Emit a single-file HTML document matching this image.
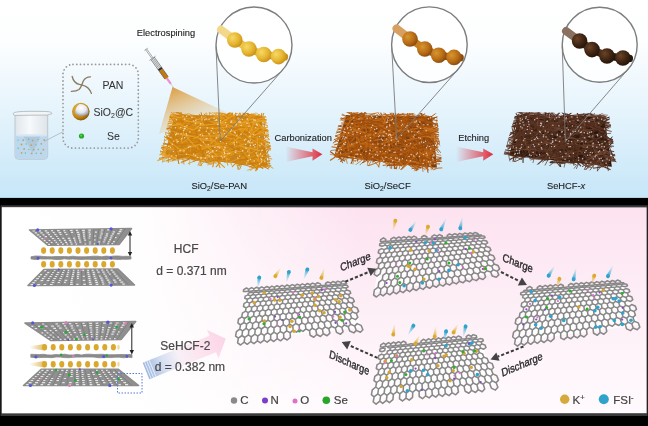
<!DOCTYPE html><html><head><meta charset="utf-8"><style>html,body{margin:0;padding:0;background:#000;width:648px;height:426px;overflow:hidden}svg{display:block;will-change:transform;font-family:"Liberation Sans",sans-serif}</style></head><body>
<svg width="648" height="426" viewBox="0 0 648 426">
<defs>
<linearGradient id="topbg" x1="0" y1="0" x2="0" y2="1"><stop offset="0" stop-color="#ffffff"/><stop offset="0.2" stop-color="#fdfeff"/><stop offset="0.55" stop-color="#e6f4fc"/><stop offset="1" stop-color="#c6e6f8"/></linearGradient>
<linearGradient id="botbg" gradientUnits="userSpaceOnUse" x1="0" y1="206" x2="0" y2="413"><stop offset="0" stop-color="#fde2f0"/><stop offset="0.45" stop-color="#fdeef6"/><stop offset="1" stop-color="#fffafd"/></linearGradient>
<linearGradient id="botwh" gradientUnits="userSpaceOnUse" x1="0" y1="0" x2="360" y2="0"><stop offset="0" stop-color="#ffffff"/><stop offset="0.4" stop-color="#ffffff" stop-opacity="0.95"/><stop offset="1" stop-color="#ffffff" stop-opacity="0"/></linearGradient>
<linearGradient id="cone" gradientUnits="userSpaceOnUse" x1="173" y1="87" x2="190" y2="130"><stop offset="0" stop-color="#d99a3a" stop-opacity="0.95"/><stop offset="1" stop-color="#e8c48a" stop-opacity="0.15"/></linearGradient>
<linearGradient id="redarr" x1="0" y1="0" x2="1" y2="0"><stop offset="0" stop-color="#e23a48" stop-opacity="0"/><stop offset="0.75" stop-color="#e23a48" stop-opacity="0.8"/><stop offset="1" stop-color="#dd2a3a"/></linearGradient>
<linearGradient id="bigarr" gradientUnits="userSpaceOnUse" x1="145" y1="372" x2="226" y2="339"><stop offset="0" stop-color="#9db8e0"/><stop offset="0.35" stop-color="#e6eaf6"/><stop offset="0.6" stop-color="#fbe3ef"/><stop offset="1" stop-color="#fbd3e6"/></linearGradient>
<linearGradient id="trail" x1="0" y1="0" x2="1" y2="0"><stop offset="0" stop-color="#d9a935" stop-opacity="0"/><stop offset="1" stop-color="#d9a935" stop-opacity="0.8"/></linearGradient>
<radialGradient id="bead1" cx="0.35" cy="0.35" r="0.7"><stop offset="0" stop-color="#f5d96a"/><stop offset="0.6" stop-color="#e6b52e"/><stop offset="1" stop-color="#c8901c"/></radialGradient>
<radialGradient id="bead2" cx="0.35" cy="0.35" r="0.7"><stop offset="0" stop-color="#d8962e"/><stop offset="0.6" stop-color="#b86d16"/><stop offset="1" stop-color="#8a4a0e"/></radialGradient>
<radialGradient id="bead3" cx="0.35" cy="0.35" r="0.7"><stop offset="0" stop-color="#6a4428"/><stop offset="0.6" stop-color="#3e2412"/><stop offset="1" stop-color="#24140a"/></radialGradient>
<radialGradient id="sio2" cx="0.45" cy="0.35" r="0.7"><stop offset="0" stop-color="#ffffff"/><stop offset="0.55" stop-color="#e6e8f0"/><stop offset="1" stop-color="#9098b0"/></radialGradient>
<radialGradient id="shell" cx="0.4" cy="0.35" r="0.7"><stop offset="0" stop-color="#f2c450"/><stop offset="0.65" stop-color="#c88a18"/><stop offset="1" stop-color="#7a5010"/></radialGradient>
<linearGradient id="ionb" x1="0" y1="0" x2="0" y2="1"><stop offset="0" stop-color="#30a8d0" stop-opacity="0"/><stop offset="1" stop-color="#30a8d0"/></linearGradient>
<linearGradient id="iony" x1="0" y1="0" x2="0" y2="1"><stop offset="0" stop-color="#e0a830" stop-opacity="0"/><stop offset="1" stop-color="#e0a830"/></linearGradient>
<linearGradient id="bigarr2" x1="0" y1="0" x2="1" y2="0"><stop offset="0" stop-color="#9fb8e0"/><stop offset="0.22" stop-color="#d6e0f2"/><stop offset="0.42" stop-color="#f8f0f6"/><stop offset="0.7" stop-color="#fde2ee"/><stop offset="1" stop-color="#fbd4e6"/></linearGradient>
<linearGradient id="glass" x1="0" y1="0" x2="1" y2="0"><stop offset="0" stop-color="#dfe6eb"/><stop offset="0.45" stop-color="#f7f9fb"/><stop offset="1" stop-color="#dde4e9"/></linearGradient>
<linearGradient id="iont_b" x1="0" y1="0" x2="1" y2="0"><stop offset="0" stop-color="#2fa3cc"/><stop offset="1" stop-color="#8fd6f0" stop-opacity="0.1"/></linearGradient>
<linearGradient id="iont_y" x1="0" y1="0" x2="1" y2="0"><stop offset="0" stop-color="#dcaa30"/><stop offset="1" stop-color="#f0d080" stop-opacity="0.1"/></linearGradient>
</defs>
<rect x="0" y="0" width="648" height="197.9" fill="url(#topbg)"/>
<rect x="0.6" y="205.3" width="647" height="210.7" fill="#3a3a3a"/>
<rect x="1.9" y="207.4" width="644.7" height="205.8" fill="url(#botbg)"/>
<rect x="1.9" y="207.4" width="644.7" height="205.8" fill="url(#botwh)"/>
<g>
<path d="M15 114 L15 156 Q15 159.3 18.5 159.3 L44.2 159.3 Q47.7 159.3 47.7 156 L47.7 114 Z" fill="url(#glass)" stroke="#b4bec4" stroke-width="0.8"/>
<path d="M15.4 135.3 L47.3 135.3 L47.3 156 Q47.3 158.9 44.2 158.9 L18.5 158.9 Q15.4 158.9 15.4 156 Z" fill="#bcd8ee"/>
<ellipse cx="31.35" cy="135.6" rx="15.9" ry="1.4" fill="#d4e6f3"/>
<path d="M23.5 136.5 L40.5 136.5 L32.5 153 Z" fill="#a4bccf" opacity="0.55"/>
<path d="M13.2 113.4 Q13.5 111.3 31 111.3 Q49 111.3 50.5 112 L52 113.6 Q49 114.6 47.7 115 L15 115.4 Q13 115 13.2 113.4 Z" fill="#f2f4f5" stroke="#aab2b8" stroke-width="0.8"/>
</g>
<circle cx="18.1" cy="140.1" r="0.7" fill="#62c08c"/>
<circle cx="23.3" cy="140.2" r="0.9" fill="#c4a068"/>
<circle cx="28.7" cy="139.3" r="0.7" fill="#62c08c"/>
<circle cx="32.7" cy="140.5" r="0.9" fill="#c4a068"/>
<circle cx="38.1" cy="139.6" r="0.7" fill="#62c08c"/>
<circle cx="44.3" cy="140" r="0.9" fill="#c4a068"/>
<circle cx="21.5" cy="144.5" r="0.9" fill="#c4a068"/>
<circle cx="26.2" cy="143.9" r="0.7" fill="#62c08c"/>
<circle cx="31.2" cy="145.1" r="0.9" fill="#c4a068"/>
<circle cx="36" cy="144.9" r="0.7" fill="#62c08c"/>
<circle cx="41.3" cy="143.8" r="0.9" fill="#c4a068"/>
<circle cx="18.2" cy="148.2" r="0.7" fill="#62c08c"/>
<circle cx="24.1" cy="149" r="0.9" fill="#c4a068"/>
<circle cx="28.9" cy="149.6" r="0.7" fill="#62c08c"/>
<circle cx="33.8" cy="149.7" r="0.9" fill="#c4a068"/>
<circle cx="38.3" cy="149.5" r="0.7" fill="#62c08c"/>
<circle cx="43.4" cy="149.7" r="0.9" fill="#c4a068"/>
<circle cx="21.6" cy="152.9" r="0.9" fill="#c4a068"/>
<circle cx="25.4" cy="153" r="0.7" fill="#62c08c"/>
<circle cx="31.7" cy="153.4" r="0.9" fill="#c4a068"/>
<circle cx="36.2" cy="153.2" r="0.7" fill="#62c08c"/>
<circle cx="41" cy="153.3" r="0.9" fill="#c4a068"/>
<line x1="44.5" y1="141.3" x2="63.5" y2="131.5" stroke="#a9b4bb" stroke-width="0.8"/>
<rect x="63" y="64.4" width="75.3" height="83.7" rx="10" fill="none" stroke="#9a9a9a" stroke-width="1.8" stroke-dasharray="0.01 3.75" stroke-linecap="round"/>
<path d="M72.2 76.5 C73 80 75.5 83.6 79.3 84.4 C82 85 85.5 85.4 88 88 C90 90 91 92 91.4 93.4" fill="none" stroke="#8c7c60" stroke-width="1.35" stroke-linecap="round"/>
<path d="M90.5 76.8 C87 76.8 84.5 78.5 83.3 81 C82 84 81.2 87.5 79 89.5 C76.8 91.2 74 91.4 71.4 91.4" fill="none" stroke="#8c7c60" stroke-width="1.35" stroke-linecap="round"/>
<circle cx="80.8" cy="111.6" r="8.8" fill="url(#shell)"/>
<path d="M79.5 104.1 A7.6 7.6 0 0 1 87.9 114.2 Q81.5 117.3 75.3 113.8 Q74.6 107.5 79.5 104.1 Z" fill="url(#sio2)"/>
<circle cx="81.5" cy="136" r="2.6" fill="#22aa22"/><circle cx="81.1" cy="135.6" r="1.1" fill="#5ad05a"/>
<g font-size="10.5" fill="#333" stroke="#333" stroke-width="0.05"><text x="102.5" y="88.5">PAN</text><text x="93.5" y="115.5">SiO<tspan font-size="7" dy="2.5">2</tspan><tspan dy="-2.5">@C</tspan></text><text x="107" y="140">Se</text></g>
<text x="136.8" y="36.2" font-size="9.3" fill="#1e1e1e" stroke="#1e1e1e" stroke-width="0.12">Electrospining</text>
<polygon points="172.5,87 159,134 228,113" fill="url(#cone)"/>
<g transform="translate(174.6,89.2) rotate(-35.5)">
<line x1="0" y1="0" x2="0" y2="-7" stroke="#c8a0c0" stroke-width="0.5"/>
<rect x="-1.1" y="-13.5" width="2.2" height="7" fill="#e890d0"/>
<rect x="-2.1" y="-24" width="4.2" height="10.5" fill="#c07a10"/>
<rect x="-2.1" y="-26" width="4.2" height="2.2" fill="#2a2a2a"/>
<rect x="-2.1" y="-38" width="4.2" height="12" fill="#e8eaec"/>
<line x1="-2.1" y1="-38" x2="-2.1" y2="-14" stroke="#555" stroke-width="0.6"/>
<line x1="2.1" y1="-38" x2="2.1" y2="-14" stroke="#555" stroke-width="0.6"/>
<line x1="-0.7" y1="-49" x2="-0.7" y2="-26" stroke="#666" stroke-width="0.5"/>
<line x1="0.7" y1="-49" x2="0.7" y2="-26" stroke="#666" stroke-width="0.5"/>
<line x1="-2" y1="-49" x2="2" y2="-49" stroke="#777" stroke-width="0.6"/>
<line x1="-3.8" y1="-38" x2="3.8" y2="-38" stroke="#777" stroke-width="0.6"/>
</g>
<g><clipPath id="mc0"><polygon points="171,112 266,113 274,173 157,162"/></clipPath><g clip-path="url(#mc0)"><polygon points="174.8,115 261.2,115.9 267.9,166.2 164.2,156.8" fill="#c08428"/><path d="M211.6 132.3Q211.2 141.2 212.6 149.9M212.4 160.5Q224.8 156.1 235.9 153.8M231.9 133.1Q232.9 139.5 233.8 144.3M205.2 156.9Q217.1 157.5 230.2 160.3M244.3 144.3Q252.4 143 262.1 140.2M216.6 121.5Q225.5 120.2 232.8 118M208.3 145.7Q212.5 145.6 219 144.7M267.3 151.2Q269.5 159.4 269.3 167.4M179.3 133.8Q183.6 132.6 190.7 134.1M221.9 116.6Q223.1 123.4 226.2 127.9M202.7 129.8Q206.6 127.1 211.7 126.6M244.9 137.7Q250.4 135.9 258.8 134.6M219.8 115.3Q231.4 116.8 243.2 118.9M244.5 131.3Q250.4 133.9 256.4 137.1M228.9 132.9Q232.1 128.9 238.2 126M215.9 138.8Q224.5 141 232.4 140.5M245 108.1Q249.7 120.1 255 131.5M209.9 129.8Q214.6 125.5 222.2 120.6M256.4 130.6Q261.2 133.9 267.1 137.2M180.5 136.3Q186.5 132.8 191.4 129.3M214.7 146.5Q225.7 146.4 236.9 145.2M252 121.1Q257.7 118.3 265.5 116.4M184 142.6Q194.9 139.1 206 134M213.5 132Q223.2 133.3 234.5 136.1M222.4 158.6Q227 155.8 231.3 155.7M197.3 152.4Q203 149.2 210.5 146.9M202.2 121.7Q210.5 122.8 218.7 126.5M165.9 146.5Q174.5 144.1 181.4 142M189.1 156.3Q199.2 161.1 211.5 164.2M239.9 162.7Q251.5 164.7 262.3 167.4M170.3 141.1Q182.1 137.1 191.7 132.7M185.8 116.4Q183.7 125.9 184.4 136.3M174.9 153.5Q182.3 153.3 186.6 155.5M243 114.4Q253.8 119.2 262.2 121.5M209.8 158.5Q216.8 152.1 224.5 146.3M210.3 141.6Q209.5 148.9 208.7 153.6M209.9 140.2Q216.7 138 221.4 137M162 148.4Q165.9 153.4 169.8 156.8M237 159.4Q236.3 165.8 238.3 169.7M218.2 125.2Q218.8 136.9 221 146.9M166.5 115Q176.4 115.1 186.4 114.7M182.4 128.3Q186.7 127.4 191.6 129.2M169.2 155.6Q173.8 155.9 179.3 153.5M209.1 128.4Q217.8 127.1 226.7 124.2M167.2 108.7Q175.8 116.5 186.3 125.8" stroke="#c87a0c" stroke-width="0.7" stroke-linecap="round" fill="none"/><path d="M224.8 154.7Q231.4 155.3 235.2 153.1M218.6 120.3Q222.1 118.5 228.6 118.6M219.2 145.2Q226.6 142.3 235 140.6M241.2 153.7Q245.7 157.6 252.7 164.1M216.2 127.9Q221.3 127.6 227.2 127.1M166.1 114.7Q176.7 121.9 184.4 126.5M229.9 119.4Q240 123.3 252.7 128.6M204.1 143.9Q208.2 143.3 214.3 144.2M214.9 132.8Q222.2 129.4 228.5 128.3M237.6 127.3Q247.7 135.4 255.3 141.1M212.6 128.7Q218.2 121.8 222.9 113.1M219.7 120.4Q224.6 121.6 228.5 125M211.6 128.6Q216.4 125.9 221.5 121M225.6 148.1Q230.3 143.6 236.2 138.5M230.2 112.8Q227.4 121.6 225.9 129.5M205.1 116Q217.5 118.9 229.1 123.5M196.3 123.9Q207.3 127.1 217.3 130.6M166.9 160.8Q172.2 158.3 177.5 157M249.8 167Q255.8 164.4 260.5 162.5M239.6 110.3Q248.1 117 257.3 124.8M193.4 154.6Q200 147.5 206.8 141.4M192.5 118.5Q201.9 125.5 213.7 129.8M206.5 134.6Q214.8 144.1 225.1 151.2M191 138.9Q198.8 139.6 205.5 141.3M222.8 131Q222.9 138 222.9 146.4M209.2 122.6Q217.4 130.1 227.7 139.1M241.6 106.5Q237.8 117.2 235.5 128M182 149.5Q189.9 151 197.3 154.1M234.9 148.9Q238.3 142.8 243.1 138.4M218.6 121.2Q227.1 123 237.4 127.6M232.8 118.4Q237.3 118.1 242.8 114.8M240.3 130.1Q250.1 129.3 260.2 128.3M218.8 116.3Q220.3 127.8 218.8 142.2M181.4 151.5Q190.5 153.7 200.8 153.6M165.6 123.9Q177.6 122.4 188.6 120M181.5 103.5Q179.2 115.1 179.2 127.9M253.9 131Q258.6 131.9 264.4 133.4M256.8 139.1Q266.5 142.8 274 144.2M190.2 125Q194.5 134.7 200.2 147.3M156.9 147.7Q164.2 148.4 174.1 146.6M178.4 128.3Q184.8 133.4 189.3 139.1M206.4 126.9Q215 132.9 221.8 136.7M232.3 166.7Q241.7 157.6 249.3 149.8M160 151Q168.9 153.5 176.6 156.6M216.2 166.9Q221.2 160.3 225.2 156.4M185.6 145.2Q192.4 144.3 198.1 141.3M183.6 128.1Q193.5 126.2 201.3 121.6M262 148.9Q259.2 159.3 257 169.8M186.4 121.9Q191.5 130.1 197.4 139.7M242.9 148.1Q250.5 150.1 256.6 153.5M175.3 135.8Q184.2 133.2 195.7 128.1M239 138.9Q245.2 137.6 253.4 133.6M216.9 151.5Q213.4 160.9 212.3 169.6" stroke="#d88a10" stroke-width="1.1" stroke-linecap="round" fill="none"/><path d="M224 148.6Q231.4 144.4 240.7 141.8M188.3 163.5Q198 159.6 207.8 155.7M164.6 139Q162.6 153.5 162.5 164.9M254 111.3Q259.6 115.2 265.6 119.9M243.1 130.1Q247.3 131.8 253 134.1M201.7 153.2Q199.9 161.7 196.5 169.5M242.1 129Q239.4 138 235.9 147.2M173.6 113.1Q178.7 118.6 184.9 121.5M184.3 148.4Q191.1 153.5 197.4 160.5M177.2 122.9Q186.2 124 198.1 122.3M223.8 113.7Q235.8 117.8 247.1 120.6M192.2 134.6Q198 141.7 206 150.8M216.1 137Q226.5 137.5 236.9 136.5M226.7 137.4Q231.3 142.4 237.1 146.1M232.4 129.8Q229.1 133.6 227.5 138.3M189.3 114Q195.1 116.1 202.8 118.4M235.6 128.8Q239.2 124.6 244.9 121.3M228.1 109.4Q233.7 117.2 236.3 126.1M177.2 125.9Q187.9 123.1 198.4 123M244.1 164Q254 159 264.3 154.2M243.9 134.5Q254.6 132.4 263 131M217.8 142.1Q226 139.7 237.1 140.3M235.7 149.8Q239.9 144.4 244.3 137.1M265.9 139.3Q262.4 150.6 261.7 162.5M167.4 135.5Q169.8 142.1 175.1 146.7M198.7 141.6Q199.5 152.8 201.6 166.8M163.8 150.7Q169.6 145.4 173.8 142.2M204.1 127.1Q211.5 126.4 218.7 123.5M253.1 174.9Q259.4 166 266.7 156M232.9 142.5Q241.5 138.9 251.1 135.8M173.3 140.2Q184.7 142.8 198.7 145.2M180.6 148.3Q184.1 147.6 190 148.5M166.3 120.1Q174.8 115.2 185.9 107.6M216.9 132.5Q228.3 131.6 238.5 129.3M246.5 170.9Q255.6 168 263.8 162.1M236 149.4Q243.6 155.8 251.5 159.9M206.6 113.2Q207.8 125.8 211.9 137.1M173.2 116.6Q181.6 123.5 190.1 130.8M242.6 156.9Q252.1 156.7 259.1 157.5" stroke="#d88a10" stroke-width="0.7" stroke-linecap="round" fill="none"/><path d="M162.3 131.9Q169.4 133.1 179.4 136.7M251.8 158.4Q261.5 158 268.8 154.9M199.2 114.2Q204.9 119.2 211.8 124.8M175.4 138.8Q183.9 141.5 189.5 146.9M236 137.6Q244.1 135.7 253.4 136.4M175.9 136.2Q181.1 134.4 186.4 134.8M247.6 133.7Q251.7 130.2 253.3 126.2M247.9 116.4Q256.5 115.4 262.2 116.5M197.2 133.8Q205.6 128.8 212.8 121.3M230.1 113.5Q234.2 117.1 238.3 119M216 155Q221 152.5 226.4 152.2M168.8 141.8Q167.1 152.2 168.3 162.3M264.3 111.5Q262 116.5 261.5 124.4M205.8 125.9Q215 123.9 225.2 121.5M211.9 153.2Q218.6 150.7 224.5 148.9M169.3 140Q174.3 138.5 182.1 139M244 118.2Q255 120.9 268.2 125.8M192.9 116.2Q203.1 115.9 211.7 116.7M246.3 155.8Q240.6 165.7 237.8 173.7M224.5 120.1Q227.3 115.9 232.2 109.4M227 137.3Q233.7 134.2 237.8 130.1M200.7 148Q209.1 144.1 217.7 141.6M164.8 143.1Q171.9 147.2 181.9 151.8M188.9 143.9Q197.5 150.1 208.6 157M193.4 135.7Q195.3 140.9 198.9 143.8M260.8 141.4Q268.3 147.1 273.3 150.7M245 155.1Q257.1 156.9 270.3 156.4M239.3 122Q250.8 124.2 262 129.1M237.4 129.3Q246.7 133.6 254.8 139" stroke="#cf8210" stroke-width="0.9" stroke-linecap="round" fill="none"/><path d="M226.2 143.2Q232.3 133.2 238.4 126.1M191.6 159.7Q199.7 159 207.1 156.5M254 142.4Q259.3 143.6 263.5 141.8M196.7 149.3Q207.3 147.3 216.7 144.4M186.1 141.2Q196.8 138.1 210.5 136.6M228.5 144.9Q235 140.1 239.6 133.4M251.2 130.5Q256.2 131.6 259.7 133.5M220.1 112.1Q220.2 119 219 128.7M254.4 152.8Q260.9 152.9 265.9 151.6M241.7 144.7Q249.1 141.8 258.8 139.6M252.2 121.3Q257.8 124.7 261.6 130.3M182.6 145.3Q192.6 146.4 202.1 144.8M245.3 147.7Q242.4 159.1 237.5 170.5M198.3 147Q206.5 149.3 212.7 149.5M228.1 129.1Q232.8 128.8 236.9 126.2M177.3 153.8Q186.6 149.3 195 146.9M247.9 134.8Q244.8 144.8 239 153.5M253.9 132.6Q264.4 134.5 275.6 137.7M204.4 146.4Q212.1 146.7 222.6 147.6M187.2 119.5Q195.6 122.5 201.2 126.6M185 135Q189.7 140.6 193.9 148.7M191 151.7Q200.8 149.4 211.5 148.4M249.7 155.9Q259 159.2 268 162M200 141.7Q204.2 148.5 206.9 153.7M225.7 162.2Q237.6 160 249.1 160.2M170.7 139.9Q182.8 139.2 194.6 140.8M246 125Q251.6 124.3 255 126.3M257.4 120Q258.6 125.9 262.2 134.3M229.1 136.1Q240.7 136.4 252 137.5M260.1 129Q257.6 139.8 258 149.7M187.9 147Q198 149.9 205.3 152.7M219.4 131.7Q230.6 134.4 240.1 134.8M192.8 152.6Q205.1 152.1 216 152.3M184.9 134.3Q190.2 132.9 195.2 133.9M258.1 158.6Q266.9 165 277.1 170.6M215.5 136.9Q225.7 134.9 235.4 131M162.4 149.5Q174.4 145.6 186.2 139.8M244.9 146.7Q248.3 153.7 253.8 163.1M176.1 147.7Q185.3 153.9 193 160.1M180.6 150.1Q183.5 160.3 184.8 168.4M223.6 148Q228.5 151.7 233.5 158.1M207.7 160.4Q217.6 157 228.1 152.4M225.1 158.8Q235.4 154.9 247.2 149.8M238.4 148.8Q244.5 155.5 248.3 161.6M216.8 120.3Q212.9 133.7 209.5 144.7" stroke="#cf8210" stroke-width="0.7" stroke-linecap="round" fill="none"/><path d="M256.8 134.1Q256.8 137.9 258.1 144.3M254.9 123.9Q262.6 126 267.4 130.4M203 150.1Q213.1 145.2 226.1 141.6M164.9 146.8Q172.3 148.4 182 148.2M164.1 122.3Q174.6 120.5 185.1 118.7M200.2 122.6Q207.7 122.4 217.6 122.8M197.6 148.1Q208.7 150.2 221.5 154.4M230.5 133.9Q242.6 131.3 252.4 125.9M215.4 156.1Q218.3 161.9 220.1 168M168.3 145.6Q172.1 144.5 177.4 144M238.2 158.5Q247.6 158.2 257.6 156.8M258 127.5Q264.2 135.5 272.2 141.9M212.3 115.6Q223.1 118.6 230.9 123.4M200.6 119.7Q206.3 121.6 210.8 121.7M212.3 132.1Q216.1 133.9 220.8 138.7M234.1 127.6Q242.1 122.6 251.5 116.2M187.6 157.7Q195.4 154.7 200.9 150.7M238.3 146.2Q249.8 143.2 259.7 138.9M244.2 120.3Q253.2 119 259.3 114.9M236.2 133Q247.6 131.3 256.7 128.6M198.1 137.7Q202.4 147.3 207.6 159.5M208.4 151.4Q215.7 160.1 224.5 167.4M258.8 161.5Q258.5 166.5 255.3 171.2M183.5 118.2Q190.2 118.6 195.2 119.5M252 152.3Q253.8 155.5 258.4 160.8M210 137.7Q213.1 139.6 217 143.5M227.5 122.2Q238.9 127.7 250.4 131.2M169.2 149.6Q174.2 148.6 180.2 145.6M230.8 124.3Q241.9 127.5 252.5 132.2M207.5 126Q205.2 135.2 205.2 147.3M226.3 145.4Q236.2 142.3 245.5 139M212.3 122.2Q224 126.7 236 132M217.6 125.1Q225.7 125.1 232 125.1M251.9 167.5Q261.4 167.7 270.9 165.6M216.4 112.1Q226 114.1 235 116.9M160.7 154.3Q165.2 150.1 169.8 148.2M192.2 129.2Q203.4 130.6 212 135M211.5 117.7Q220.4 116.7 231 113.4M243.1 116Q248 115.6 255.6 114M210.5 133.2Q218.1 128.3 224.3 124.4M229 162.5Q237.2 159.5 246.8 155.3M209 127.4Q221.7 122.7 233 120.2" stroke="#e0961a" stroke-width="1.1" stroke-linecap="round" fill="none"/><path d="M230.2 130.5Q234.3 125.2 239.1 117M171.9 114.2Q180.1 117.6 185.6 121.1M221.7 136.7Q228.6 140.5 237.9 147.1M160.5 152.7Q168.6 155.3 174.4 158.4M239.4 130.2Q249 127.1 257.8 123.2M165.8 125Q176.9 120.1 187.4 116.4M192 128.4Q200.4 120.5 208.3 110.1M182 163.2Q188.7 158.9 195.1 156.3M253.7 151.4Q256.8 146.5 262 142.2M243.4 126.2Q254.6 131.7 267.5 134.9M254.5 114.7Q261.2 116.5 269.7 117.8M177.5 129.8Q187.8 124.2 199.7 118.7M209.4 149.9Q220 153 231.4 157.3M161.3 114.5Q171.9 117 184.7 118.6M237.8 129.2Q243.9 126.9 249.7 124.8M169.9 161.5Q178.1 160.6 186.6 156.9M221.7 149.9Q225.8 149.7 230.6 152.2M216 148.3Q224.7 146.9 232.5 142.6M189.3 133.1Q194.8 135.8 201.9 136.1M202.7 136.6Q208.3 143.3 213.8 152M232.9 120.8Q246.3 117.6 256.9 112M193.2 151.7Q201.7 158.1 210.8 164.3M196.4 151.3Q204.6 146.9 212.7 145.3M170.5 157.6Q175.7 152.2 180.2 149.5M186.8 135.8Q196.4 136.2 209 137.1M191 146.7Q189.9 156.2 189.4 165.6M171 137.8Q177.6 131.4 183.2 123.7M213 137.4Q218.7 136.6 223.5 136.7M182.8 141.9Q190.3 141.6 196.6 143M253.8 107.1Q251.4 114.3 246.9 122.2M232.5 123.1Q241.1 124.5 249.1 125M229.2 140.6Q236.3 133.6 243.1 125.6M258 134.1Q262 135.3 267.3 136.1M208.8 164Q213.2 160.5 215.6 154.3M171 127.4Q169.3 135.3 169.2 142.4M234.3 138.3Q243.4 131 253.8 126.5M203.2 134.6Q212.6 139.5 222.5 147.3M257 159.7Q265.1 153.7 272.1 148.1M174.9 131.6Q175.8 144.1 178.4 154.4M202.3 144.5Q207.7 151.8 212 161.8M202.7 158.6Q212.8 152.2 219.9 148.2" stroke="#e6a028" stroke-width="0.7" stroke-linecap="round" fill="none"/><path d="M203.6 117.9Q212.5 118.1 222.2 115.9M229.4 127.3Q240.3 124.1 253.5 121.8M183.5 156.4Q187.7 151.1 192.5 143.5M162.9 162Q168.9 154.6 172.3 147.5M237 162.9Q250.3 160 261.4 159.2M215 133.9Q221.9 131.7 227.1 130.7M158.1 154.7Q170.9 155.8 183.6 154.2M226.7 142.2Q234.8 132.6 243 123M255.9 141.4Q265.5 140.1 273.2 139.2M220.1 147.3Q226.8 149.5 234.4 150.3M215.8 109Q217.1 119.8 215.3 129.2M251.1 157.1Q259.6 159 266 163.2M212.7 129.8Q219.9 127.5 227.1 124.3M213.6 127.8Q217.6 137.1 219 148.1M215.4 127.3Q223.4 135.4 232.1 142.5M247.9 125.3Q253.9 128.2 259.9 131.8M201.2 107.5Q212.9 113.9 222.2 121.3M164.4 161.3Q176.7 158.8 187.1 156.4M228 142.9Q236.7 134.5 245.9 125.9M172.7 124.1Q180.7 127.2 187.6 130.2M228.5 135.4Q233.5 137.1 240 139M192.2 120Q197.1 126.3 199.5 135.5M249.2 129.1Q257.9 127.1 265.7 123.5M201.9 133Q199.6 145 194.8 156M207.6 164.9Q217.2 160.7 229.5 159.3M153.7 146.3Q163.9 153.7 174.7 159.9M247.2 156Q252 156.7 257.8 156.4M191.9 158.9Q203.4 161.1 216.5 163.4M214.5 143.6Q224.2 146.9 231.9 148.5M173.2 128.7Q179.1 127.8 187.1 125.9M182.6 153.9Q195.2 151.8 206.5 147.6M254.7 137.8Q260.3 139.5 266.1 141.2M245.4 125.3Q257.4 131 268.6 134M248 150.8Q253.3 146.9 255.6 140.3M223.5 108.2Q220.1 118.2 215 130.9M175.8 131.5Q185.4 122.7 193.3 115" stroke="#e0961a" stroke-width="0.7" stroke-linecap="round" fill="none"/><path d="M258.4 155.7Q266.8 150.1 272.8 143.3M243.2 112.2Q253.7 117.8 264.5 120.8M244.1 129.2Q250.4 132.8 254.5 139.2M243 161.1Q249.2 162.5 255.1 166.8M180.9 121.6Q178 126.2 175 133.7M195.7 131.8Q202.6 132.9 207.7 136M219.9 154Q232.1 153.8 241.7 155.7M234.9 144.7Q241.8 142.1 249.8 140.9M210.9 136Q223.6 139.9 234.9 145M214.5 149.4Q221.4 148.3 229.6 148M240 143.7Q245.4 146.2 248.4 149.3M199.7 153.9Q208.5 153.3 217.3 153.3M167.6 128.8Q177.7 120.5 188.1 113.7M254.8 139.8Q266.6 143.7 277.7 149.1M174.9 143.4Q180.4 143.3 187.4 146.2M249.7 133.5Q260.4 135.1 273.1 136.7M240.6 163.6Q246.2 163.2 252.3 164.7M234.4 136.5Q234.4 140.5 236.1 147.3M202.8 123.9Q213.3 127.6 222.4 130.1M178.9 134.8Q192.8 133.9 204.5 134.5M249.9 149.2Q255.7 143.4 261.7 139.5M176 146.4Q180.8 149.6 188.5 153.3M178.7 102.6Q181.3 114 185.4 125.6M191.9 132.7Q199 137.7 206.2 144.3M188.7 157.4Q193.6 157.4 200.2 159.6M213.6 117.6Q219.5 120.4 225.2 123.7M191.4 127.3Q201.7 130 211.2 131.1M242 119.6Q249.1 121.1 253.7 120M181.3 126.5Q187.9 127.6 193.2 128.3M243.4 139Q240.9 146.5 238.8 155.9M228 132.9Q227.1 141.3 228.5 149.4M201 161.2Q209.8 161.3 221 160.8M241.5 139.4Q238.1 142.7 236.9 148.9M187.5 130.7Q192 131.5 199.3 135.1M201.3 154.1Q200.6 160.4 199.6 166.9M211.8 105.9Q209.9 115.1 206.3 122.1M183.7 134.4Q193.6 141 202.2 147.6M236.6 122.7Q242.8 115.1 247.5 110M239.3 132.6Q239 138.6 236 144.9M250.4 151.3Q259 158.9 268.7 167.6M224.4 162.2Q233.8 154 241 144" stroke="#d88a10" stroke-width="0.9" stroke-linecap="round" fill="none"/><path d="M168.8 127Q180.9 126.3 193.4 123.6M259.9 126.7Q256.6 135.5 251.2 144.4M194.9 126.6Q201.6 127.3 208 128.9M261.8 112.4Q260.5 122.4 261.3 131M253.3 147Q263.9 146.3 272.9 145.7M218.5 130.5Q220.3 135.6 220.7 140.1M166.7 153.6Q171.1 154.8 175.4 156.5M263.8 117.3Q264.3 124.5 264.5 133.3M170.4 127.9Q175 135.4 177.7 141.2M254.1 166.3Q260.7 165.5 270 163.6M194.9 128.9Q201.6 129.8 208.1 131.8M190.5 122.3Q200.4 122.5 208.7 122.6M200.6 110.3Q203.5 121 205.3 133.2M255.1 146.2Q262.2 141.8 267.7 134.8M224.7 138.9Q235.7 134.8 244.9 130.8M256.5 153.4Q264.6 151.8 272.3 147.5M159.4 147.2Q173.4 148.4 184.4 147.2M218.7 126.4Q227.3 126.9 236.5 126.5M172.5 160.4Q183.4 155.3 197 152.1M188 160.1Q193.6 152.1 200.3 141.4M204.3 114Q209.5 119 212.7 125.7M193.1 149.4Q202.4 150.1 209.3 153.8M178.9 136.3Q185.6 138.2 192.5 139.3M168.6 131.6Q173.2 139.3 178.2 147.3M230.8 120.8Q231.4 128.5 232.9 139.1M241.8 142.4Q251.9 151.8 260.6 159.5M220.3 153.6Q228.6 151.9 239.4 148.5M208.4 148.6Q212.9 154.6 218.9 163.2M256.3 169.1Q262.9 158.3 268.5 150.3M231.1 123.3Q235 129.4 238.9 135.4M256.5 127Q256.2 135.5 254.5 144.5M220.6 139.4Q229.3 135 240 132.1M169.9 115.9Q174 121.6 175.7 124.5M253.6 137.6Q264.8 140.7 273.5 144M197.3 131.5Q208.8 131.4 218.3 128.7M187.8 122.5Q192.4 119.8 196.7 117.1" stroke="#c87a0c" stroke-width="0.9" stroke-linecap="round" fill="none"/><path d="M233.2 142.2Q237.6 141.8 242.3 144.3M251.3 141.6Q258.3 138.5 262.7 137.9M256.6 153.9Q265.7 156.9 277.1 160.9M243.8 153.3Q249.1 158.8 256.6 162.3M199.9 166.3Q204.3 161.2 211.4 153.5M248 163.4Q254.9 161.2 263.9 160.2M231.9 115.5Q234.6 118.9 239.2 121.3M239.8 149.3Q250.4 148.2 260.7 147.3M178.2 137.7Q183.9 142.2 188.1 144.6M258 121.3Q263.9 121.1 267.5 123.1M216.4 152Q225.3 151.6 236 151.9M233.5 124.8Q243.4 132.9 252.8 139.8M180.1 121.5Q193.1 122.1 205 123.2M221.8 157.2Q228.8 156.8 235.3 153.8M239.9 107.2Q240.9 120.4 242.4 132.4M220 112.3Q216.6 116.2 215.2 121.2M227.6 155.1Q230.3 160.5 231.5 164.8M217.1 124.9Q225.8 125.5 232 128.8M185.9 126.5Q195.9 122.6 203.4 121.5M212.7 155.5Q225.8 151.5 236.9 148M210.8 125.2Q217 135.4 224.3 144.6M169.2 115.5Q177.3 117.6 185.5 118M192.8 140.5Q203.2 140.5 212.8 138.5M174.9 124.8Q185.2 129.2 196.3 135.2M249.8 131.1Q256.9 129.2 265.8 129.4M201.8 121.9Q200.2 126.8 200.5 131.9M195.9 126.8Q196.4 130.1 199 135.5M237.4 165.8Q244.2 163.3 253.6 161.3M231.4 153.8Q240.4 153.1 252.1 152.5M183.8 122.7Q190.9 124.2 200.4 127.4M240.4 117.5Q243.2 126.8 243.5 134.2M168.3 141.4Q177.4 139.1 183.5 136.3M164.1 131.7Q169.8 141.8 174.4 149.9M231.9 110.3Q231 123.1 228.1 134M181.6 128Q189.3 130.6 198.3 131.5M177.5 140.7Q183.6 146.8 189.6 152.7M242.2 143.2Q252.9 142.6 263.6 142.8M219.3 137.3Q226.4 127.6 234.4 117.9M217.3 137.2Q227.5 135.6 237.9 133.9M231.6 123.9Q240.9 124.5 251.6 127.7M187.3 145.7Q198.2 147.4 209 147M216.8 150.6Q224.5 152.8 232.3 156.6M166.6 129.4Q175.6 131.2 185 136M210.1 117.4Q219.4 116.9 228.2 117.5M170.3 155.5Q178.9 158.9 185.8 160.3M181.9 142.6Q187.9 141 191.3 139M255.4 125Q264.9 129.3 272.5 131.3M242.9 125.7Q253.3 129 262.3 132.3M164.3 140.5Q174 138.6 185.7 134.5M253.4 149.4Q261.9 141.3 270.2 132.8M248.8 135.7Q257.2 139 268.1 142M233.1 108.1Q228.5 117 223 126.1M243.6 158.5Q252.3 152.7 261.6 145.4" stroke="#e0961a" stroke-width="0.9" stroke-linecap="round" fill="none"/><path d="M201.8 134.1Q206.6 135.5 210.4 136.9M190.7 153.7Q199.8 152.6 207.8 148.8M195.4 128.5Q198.3 138.2 200.6 147.1M177.5 158.4Q184.8 157.3 191.8 154M237.1 128.1Q235.4 139.5 234.7 149.3M225.4 125.6Q232.6 131.3 237.1 138.8M238.6 143.5Q236.6 149.2 234.7 154.6M198.8 146.4Q203.7 154.5 205.8 160.9M183.7 143Q196.7 143.8 208.2 142.9M191.3 131.8Q204.1 127.1 216.1 124.8M229 138.3Q235.9 136.6 245.3 132.6M237.9 130.6Q243.8 132.6 251.2 132.3M238 165Q249.4 162.8 263.3 163.4M235.3 116.9Q243.4 116.5 248.9 117.5M163.4 143.9Q175.2 145 187.4 144.8M181.5 153.4Q191.1 152.8 197.7 150.3M174.2 128Q181.8 132.1 192 135M159.5 158.3Q166.4 156.6 170.9 156.7M176.8 137.1Q179.4 140.7 182.4 145.7M256.4 163Q261.8 164.9 268.3 168.9M252.2 132.1Q256.4 129.7 263 128.7M194.7 119.3Q202.4 123.5 211.4 126M187.1 149.7Q189.3 155.4 194.3 159.2M162.8 127.4Q172.6 128.6 180.4 132.5M262.5 149.2Q268 146.9 271.3 146.2M181.8 130.7Q187.9 126.5 195.6 121M216.1 137.3Q226.1 142.3 233.8 149.2M175.3 120.8Q183 121.3 190.8 122.6M239.1 160Q248.9 158.7 258 157.1M237.5 124.7Q238.4 132.9 239.6 139.1M188.6 141.5Q194.1 137 200.7 134.7M175 142.9Q176.7 153.4 179.1 165M252.5 138.4Q251 143.9 247.2 147.7M199.8 124.3Q199.2 136.9 200.4 150.1M238.7 149.4Q247.5 159.8 256.3 168.4M203.8 142.1Q216.2 140.7 229.3 140.4M188.1 133.3Q193.9 134.3 198.5 135.7M189.2 138.5Q196.7 135.1 206.4 134M191.4 137.2Q197.9 140.7 203 142M211.2 143.9Q212 148.6 214.2 154.5M174.2 138.7Q177.9 136.8 184.2 136.5M173.5 135.6Q174.3 141.3 173.4 146.3M205.8 122Q215.8 124.8 224.3 127.2M192.6 119.1Q203.2 119.9 212.7 123.1M246.8 107.6Q248.7 115.7 249.6 122.5" stroke="#c87a0c" stroke-width="1.1" stroke-linecap="round" fill="none"/><path d="M206.6 162.4Q215.5 159.4 224.1 158.5M222.1 121Q226.7 116 232.1 108.6M175.9 149.4Q173.3 153.1 171.9 158.4M221.4 134.9Q225.4 129.7 231.8 122.3M254.8 162.6Q262 161.4 269.9 160.9M226.7 121Q235.7 126.7 244.5 134.6M235.5 118.7Q244.5 122 251.9 126.9M250.2 149.3Q257.6 148.1 264.1 145.1M191 146.5Q201.8 143.9 215 142.2M180 116.4Q188.3 125.2 193.7 136.1M204.7 136.7Q215 138 222.6 138.9M177.2 141.6Q184.2 139.8 190.4 139.2M249.3 126Q247.6 137.9 244 148.6M191 141.8Q194.5 139.9 200 138.6M253.6 142.3Q258.8 142.1 264 143.8M229.5 127.7Q242 128.1 255.3 125.9M185.6 131.2Q197 131 207.7 133.1M230.3 141.5Q237.1 139.2 242.3 139.3M228.3 125.6Q233.7 124.4 237.4 123.4M233.3 110.3Q231.7 116.8 230.2 124.7M166.9 136.7Q171.8 140.7 177.9 142.8M175.6 111.9Q187.5 116.2 198.4 121.3M197.5 132.6Q206 134.4 212.4 134.4M228.3 156.1Q233.7 157.7 241.4 157.6M254.6 160.8Q257.5 164.7 262.8 168.5M252 131.2Q262.1 130.4 270.5 130.6M250.1 127.5Q262 131.5 273.5 132.6M213.3 125.2Q220.7 126.8 226.6 130M234.9 162.6Q245.8 164.6 254.6 168M255.2 163.1Q259.8 163.8 265.4 163.8M161.7 135.2Q168.3 138.4 173.3 142.7M235.9 110.9Q234.9 117.3 236.8 122.8M208.6 152.7Q214 151.4 219.6 153M170.2 140.6Q182.4 143.9 194.7 144.4M254.5 156.8Q259.8 157.1 266 160.1M193.7 120.3Q202.7 118.6 213 116M170.7 149.1Q184.8 151.4 196.2 153.8M168.4 135Q175.6 138.7 185.5 142.3M181.3 162.2Q187.7 159.4 193.8 157.3M162.8 116.3Q174.6 117.3 184 120.3M215.8 120.8Q215.4 126.5 214.1 134.4M180.1 147.7Q190.8 148.4 201.4 151.6M246.3 113.5Q257 116.7 266 119.7M193.3 161.3Q203.8 158.1 212.6 155.8" stroke="#cf8210" stroke-width="1.1" stroke-linecap="round" fill="none"/><path d="M221.7 153.1Q225.3 156.6 228.2 159.8M178.7 151.3Q190.5 146.5 200.7 144M217.6 124.5Q227.7 118.9 237.2 113.2M162.2 126.2Q171.4 126.5 180.2 123.9M168.8 119.9Q175.2 118.2 181.5 117M193.3 138.7Q197.8 137.3 202.5 133.1M156.9 160.7Q164 159.1 169.5 154.7M248.3 137.8Q252 132.4 258.1 129.6M202.7 139.1Q209 141.3 216 141.3M219.4 127.9Q231.7 134.4 241.1 138.3M170.8 142.7Q176.6 147.6 184 151.9M184.5 128.2Q182.5 136.3 181.1 142.1M176.7 123.4Q183.4 125.7 192.7 130.1M239.6 145.7Q249.8 148 259.6 150.6M230.6 122.1Q240.5 122 249.9 123.4M201.4 158.1Q212.2 156 225.5 155.7M254.1 122.1Q250.8 129.2 250.1 138M160.1 144.8Q166.9 148.6 173.7 149.9M239.8 123.7Q246.7 121 250.8 119.4M210.6 143.8Q215.7 138.6 223.4 133.2M252.3 123.2Q259.3 121 268.3 119.6M198.7 137.8Q207.3 147.1 217.2 156M183.4 134.8Q193.5 136.1 203 139.2M207.5 146.4Q214.6 145.7 220.6 147.1M200.3 125.5Q212.7 124.5 224.2 122.6M252.6 118.5Q259.5 123.8 263.4 129.1M259.9 142.7Q265.5 148.2 273.2 151.2M164.9 149.6Q164.7 154.3 166.4 158.7M202.6 135.9Q212.6 136.1 225.4 136M187.2 154.3Q193.2 154.9 199.8 157.9M194.1 129.8Q198 127 202.6 122.7M196.4 119.6Q201.9 119.7 205.9 116.8M182.8 119.5Q194.1 122.7 202.4 123.4M223.6 150.2Q226.2 158 227.8 165.1M251 122.5Q258.9 118.6 264.7 117.6M183.6 133.4Q190.3 140.9 195.7 147.3M232.7 142.4Q235.4 139.6 240.1 136.9" stroke="#e6a028" stroke-width="1.1" stroke-linecap="round" fill="none"/><path d="M162.1 154.9Q169.2 156.2 176.3 158M210.1 121.8Q214.4 121.9 220 122.7M185.7 114Q191.3 116.5 196.2 118.3M181.7 143.5Q187.3 138.9 191 136M239.2 129.6Q247.5 137.6 256.8 142.8M248.9 171.7Q259 163.9 266.7 157.7M249.6 116Q254 116.6 259.9 115M232.1 144.2Q241.1 134.4 248 125M208.2 132.4Q210.9 136.3 211.4 142.7M257.5 137.3Q257 148.9 258.7 161.3M196.8 128Q208.1 127.4 217 128.6M219.4 123.3Q226.8 123.7 234.5 126.9M248.8 116Q248.1 121.4 249.3 125.5M219.8 122.5Q222.6 127.6 228.1 134.9M219.3 146.2Q224.3 149.9 231.7 154.3M262.6 149.3Q259.5 154.5 257.6 160.2M223.8 153.9Q232.4 151.2 243.8 151.1M218.9 136.4Q226 136.8 234.7 139.2M217 128.1Q230 126.8 241.5 125.5M250.8 141.6Q248.9 151.1 248.6 161.1M262.8 140.1Q268.3 143.7 270.9 147.2M249.9 125.4Q251.8 129.8 256 136.5M255.3 134.7Q264 131.7 271.1 130M254.5 128.8Q263.4 128.3 273.1 126.1M234.3 147.2Q238.3 145.9 244 144.1M205.8 108.2Q215.8 115 226.6 120.2M252.8 136.6Q261.4 131 268.1 126.4M207.2 119.2Q213.2 117.6 221.6 115.2M184.7 121.7Q191.6 122.3 201.4 121.1M168 117.7Q173.6 112.4 178.9 109.3M218.5 135.9Q230.5 131.6 242 128.7M250.6 119.4Q257.6 120.1 265.8 121.5M210.7 111.3Q221.1 113.8 228.6 117.4M240.6 146Q243.6 147.4 248.9 149.6" stroke="#e6a028" stroke-width="0.9" stroke-linecap="round" fill="none"/><path d="M209.1 156h0.1M182.9 116.1h0.1M250.3 159.3h0.1M180.7 127.6h0.1M249.4 142.1h0.1M201 157.5h0.1M170.5 147.3h0.1M244.4 140.3h0.1M260.9 158.7h0.1M262 150.4h0.1M184.6 137.8h0.1M222.5 157.9h0.1M221.2 156.3h0.1M232.5 126.9h0.1M204.8 119.8h0.1M193.6 120.9h0.1M242.4 119.6h0.1M234.5 144.9h0.1M203.1 124.1h0.1M202.5 135.3h0.1M241.1 125.4h0.1M247.9 160.7h0.1M189.8 131.9h0.1M215.1 120.4h0.1M247.2 119h0.1M216.8 120.4h0.1M176.1 155.7h0.1M255.3 120.1h0.1M199 130.8h0.1M220.4 120.7h0.1M249.2 132.3h0.1M255.7 127.6h0.1M212.2 156h0.1M176.8 139.9h0.1M202 119.9h0.1M208.2 151.5h0.1M175.4 127.8h0.1M256.8 155.1h0.1M209 119.6h0.1M249.8 136.4h0.1M209.1 133.9h0.1M226.1 136.2h0.1M216.5 150.6h0.1M200.2 127.7h0.1M195.5 155.5h0.1M220.7 132.9h0.1M214 118.4h0.1M224.4 152.2h0.1M178.1 141.4h0.1M168.8 146.4h0.1M186.9 125.8h0.1M245.5 144.5h0.1M237.9 118.1h0.1M170.8 137.4h0.1M186.2 133.4h0.1M206.8 152.5h0.1M231.1 121.1h0.1M207.2 128h0.1M205.2 158.2h0.1M235.7 152.6h0.1M185.1 128.4h0.1M261.7 159.8h0.1M248.4 141h0.1M264.9 161.2h0.1M249.1 155.4h0.1M220.4 141.3h0.1M253.5 145.2h0.1M186.5 116.2h0.1M224.3 156.7h0.1M193.5 154.1h0.1M240.4 122h0.1M229.5 153.6h0.1M211.1 130.7h0.1M253.2 134.8h0.1M235.3 152.1h0.1M259.4 136.6h0.1M212.4 157.2h0.1M225.1 147.9h0.1M178.1 133.9h0.1M195.5 123.3h0.1M224.5 133.6h0.1M212.8 151.7h0.1M181.8 138.7h0.1M217.7 124.5h0.1M206.2 138.6h0.1M219.8 122.4h0.1M201.7 117h0.1M239.6 156.1h0.1M219.5 147.9h0.1M186.3 154.2h0.1M214.9 147.4h0.1M231.4 130h0.1M231 122.5h0.1M259.6 164h0.1M261.3 161.9h0.1M231.5 121.2h0.1M184.7 119.3h0.1M252 142.7h0.1M212.4 128.5h0.1M255.2 144.4h0.1M183.5 130.4h0.1M256.2 153h0.1M259.9 145.7h0.1M236 150.6h0.1M184.9 126.6h0.1M257.3 125.3h0.1M239 122.1h0.1M172.2 144.3h0.1M208.1 144.8h0.1M200.8 145.4h0.1M254.3 160.9h0.1M238.9 119.5h0.1M207 138.5h0.1M239.5 119h0.1M224.8 147.3h0.1M248.9 126.3h0.1M200.3 134.8h0.1M171.8 156h0.1M241 134.3h0.1M236.9 135.3h0.1M256.5 124.2h0.1M210.8 152.3h0.1M236.6 123.9h0.1M264.7 161.1h0.1M247 123.3h0.1M262.3 156.2h0.1M225.6 122.6h0.1M245.9 148h0.1M235.8 124.7h0.1M200.5 123.7h0.1M177.1 142h0.1M200.9 158.7h0.1M249.7 142.6h0.1M175.6 134.8h0.1M216.5 119.7h0.1M257.7 155.9h0.1M212.8 150.4h0.1M226.4 143.6h0.1M184 150.8h0.1M206.2 119h0.1M230.4 131.3h0.1M216.2 137.8h0.1M191.9 117.5h0.1M226.4 126h0.1M254.8 146.9h0.1M236.5 142.1h0.1M253.8 119.9h0.1M223.6 130.7h0.1M173.3 151.6h0.1M223.9 149.8h0.1M238.9 121h0.1M218.1 132.2h0.1M173.7 141.1h0.1M234.2 142.9h0.1M199.3 130h0.1M219.3 134.9h0.1M234.3 132.1h0.1M250.4 145.5h0.1M235.2 133h0.1M207.2 155.1h0.1M260.5 154h0.1M246.6 163.1h0.1M184.3 128.8h0.1M206.2 131.2h0.1M195.8 120.2h0.1M247.9 141.8h0.1M227.9 153.8h0.1M181 133.9h0.1M213.9 133.2h0.1M197.4 157.4h0.1M176.5 133.8h0.1M247.7 151.1h0.1M176.3 119.7h0.1M186.7 134.9h0.1M209.2 153.2h0.1M261.7 143.9h0.1M188.4 147.3h0.1M237.7 158h0.1M203.4 142.1h0.1M245.8 139.3h0.1M217.9 146.9h0.1M190 146.4h0.1M224.7 153.5h0.1M180.1 150.8h0.1M242.6 150.7h0.1M250.2 140.1h0.1" stroke="#fff2dc" stroke-width="1.4" stroke-linecap="round" opacity="0.75"/></g></g>
<g><clipPath id="mc1"><polygon points="342.5,112 437,113.5 443,174.5 327,161.5"/></clipPath><g clip-path="url(#mc1)"><polygon points="346.2,115 432.1,116.4 436.9,167.7 334.2,156.4" fill="#7a3e14"/><path d="M372.3 151.5Q384.6 146.3 396.2 141.4M395.4 126Q396.1 138 397.1 150.9M385.1 132.2Q397.2 137.6 406.6 140.5M341 147.5Q340.6 154.8 339.9 159.3M418.2 120.3Q423.9 127.8 428.7 135.6M407.4 132.4Q413.2 143.7 419.4 152.4M370.2 147.9Q378.5 152.2 386 154.2M397.4 136.3Q405.5 139.2 412.8 143.7M394.1 157.5Q406.3 160.9 418.6 163.6M423.9 131.5Q429.6 138.5 436.2 144.2M347.2 151.3Q355.1 142.7 363.2 136.7M432.4 144.4Q427.8 154.6 425.7 162.3M416.1 144.2Q421.4 142.9 428.9 143M361.1 144.9Q370.6 146.9 378.6 150M424.5 149.4Q431.5 149.2 436.8 146.5M416.6 165.5Q423.8 163.8 428.6 161.6M378.1 119.6Q385.3 115.8 390.6 114.2M418.2 118.4Q423.1 126.2 426.9 132.1M401.8 141.8Q410.8 149.9 417.1 159.8M392.7 128.5Q406.1 124.2 417 120.8M350.6 128.8Q356.6 121.6 362.4 116.1M404.1 128.5Q412 135 418.5 141M404.5 157.9Q410.2 149.5 417.6 141.9M405.2 147.2Q406.1 154.3 408.5 161M366.7 117.3Q377 120.1 386.6 123.2M342.6 118.4Q354.4 113.3 365.9 109.3M335.6 131.3Q347.9 135.1 358.2 138.3M399.1 112.8Q394 120.4 391.9 125.2M354.7 151.4Q360.7 155.8 365.2 157.5M374 121.4Q381.8 126.1 390 133.7M417.2 136.9Q427.2 137.4 438.7 136.2M352 104.5Q352.1 113.4 349.3 122.9M417.7 154.4Q426.4 150.9 437.5 150M365.4 138.5Q370.8 137.6 374.4 138.2M411.1 129.6Q417.8 133.5 425.5 135.6M432.1 146.7Q431.9 152.7 429.5 158.3M357.3 138.8Q362 140.9 367.5 143.3M409.5 122.9Q407.6 128.2 406.4 132.6M333.3 112Q342.2 120 352.4 129M349.6 126.6Q359.8 131 367.7 135.5" stroke="#c4701e" stroke-width="0.9" stroke-linecap="round" fill="none"/><path d="M409.7 125.6Q422 126 435.2 128.2M350.9 142.5Q353.8 146.7 358.2 153.9M362.9 124.3Q362.2 134.4 362 143.9M416.3 151.1Q422.1 150.9 427.8 151.3M419.2 150.3Q422.2 160.3 423 171.4M395.4 156.4Q406.9 162.4 416.4 170.7M391.6 132.6Q399.8 132.6 407.6 132.5M385.9 151.7Q390 161.9 391.6 174.8M337 111.3Q346.5 116.5 355.7 120.8M395.2 152.9Q398.8 155.1 401.7 160.1M397.5 143.7Q406.8 143 417.5 142.1M386.1 121.3Q384.6 126 381.7 132.5M387.3 131.9Q395.9 126.7 404 122.3M386.7 167Q391.3 161.6 398.3 153.5M342.3 142.2Q353.1 145.2 366.8 150.9M345.9 122.2Q348 127.2 352.1 134.9M372 159Q379.9 159.7 390.1 159.8M390.3 151.9Q397.6 158.8 402.9 167.8M381.1 152.7Q387.2 153.4 391.2 155.5M409.8 122.1Q417.9 120.2 428.6 116.1M384.7 140.7Q393.7 133 400.7 126.7M391.6 146.5Q398 151.9 402.5 155.8M361.1 145.9Q369.4 143.1 375.2 139.9M357.8 129.4Q365.3 121.3 375.1 115.9M406.6 135.4Q414.5 134 423.6 131.9M375.8 121.2Q378.6 127.5 381.6 132.9M358.6 129.4Q362 136.7 363.8 144M402.9 122.9Q411.3 124.2 418.1 127M421.9 123.6Q424.9 119.2 430.1 116.4M428.5 123.1Q434.9 133.6 439.7 143.5M423.5 168.5Q434.9 162.8 444.6 157.4M374.8 155.6Q387.9 159.9 398.9 162.9M361.1 118.5Q369.5 115.9 377.9 115.9M365.4 131Q375.6 132.3 382.9 134.6M378 143.7Q383.7 144.6 387.3 145.4M340.3 133.4Q348.8 133.4 357.9 132.8M398.3 117.3Q402.6 126.8 408.4 135.1M408.5 136.9Q420 132.1 431.1 128.7M355.1 160.9Q363.7 156.1 373.7 150.2M399.3 118.5Q410.6 120.2 419.9 120.6M429.6 121.6Q435.8 133 439.8 142.1" stroke="#a8540e" stroke-width="0.7" stroke-linecap="round" fill="none"/><path d="M388.3 115.7Q396.8 125.3 402.8 133M352 119.3Q359 126.8 365.9 133.1M415.6 149.8Q421.6 160.9 427.6 169.8M376.9 149Q373 158.7 368.3 166.1M358.1 166.7Q366.8 158.8 374.9 149.5M411 132.3Q422.6 132.6 434.3 132.1M354.7 146.8Q365.1 142.8 375.5 136.9M396.1 133.7Q400.3 128.6 406.3 123.6M373.9 158.3Q385.4 157.6 396.9 155.4M376.4 142Q384.3 145.1 389.4 147.9M407.1 140.4Q414 149 418.1 156M352.9 117Q357.9 119.1 363.1 121.5M414.8 149.3Q419.6 149.8 424.3 148.9M364.2 122.3Q365.4 130.2 369.6 140.9M373.8 117.1Q375.8 123.7 378.7 132.2M423.1 131.7Q430.5 132.3 435 134.6M339.2 114.2Q345.7 115.6 354.1 119.8M426.4 153.7Q431.8 151 435.6 146.7M350.5 153Q355.6 155.1 362 157.5M385.9 156.8Q392.4 162.4 401.6 165.3M421.5 163.9Q428.4 166.6 435.4 168.2M380.6 113.4Q383.6 123 387.6 131M406.5 147.2Q412.2 145 415.6 143.6M356.6 114.6Q364.2 124 373.5 130.9M393.4 145.4Q402.9 145.1 413.9 146M360 138.9Q367.9 138.1 376.6 136.7M409.2 132.9Q414.9 123 421.7 115M416.6 138Q424.8 134 430.5 129.3M356.4 141.3Q364 141.1 369.9 139.6M406.2 160.3Q410 161.4 416.3 161.9M380.7 142.7Q389.9 140.6 397.5 139.1M343.2 153.3Q350.5 158.3 355.4 161.3M344.3 123.3Q349.8 124.7 352.8 126.5M375.6 109.7Q379.4 115.6 385.8 120.9M381.2 137.5Q385.6 132.4 391.7 129.2M330.5 150.6Q340.4 149.9 351.6 146.7M400.4 135.1Q406 138.2 409.6 144.1M359.3 138.1Q366.9 138.6 372.3 138.6M368.6 135.3Q372.1 129.1 378.6 125.1M399.9 152.4Q412.6 151.3 423.2 148.8M410.4 139Q416 140.6 420.2 141.6M343 139.9Q355 138.2 365.5 135.3M430.4 141.5Q435.1 148.5 438.5 152.8M395.2 140.3Q399.3 139.1 405.2 138.2M428.3 146Q427.2 151.8 428.9 158.1M394.8 165.6Q404.8 162.5 416 156.8" stroke="#b05a10" stroke-width="0.7" stroke-linecap="round" fill="none"/><path d="M402.7 117.6Q403.7 127 404.4 134.1M395.4 121.7Q400.7 122.7 406.3 124.4M376.8 118Q386.7 123.8 395.5 130.7M379.6 152.4Q383.6 147.9 389.8 143.7M365 125.1Q371.6 120.5 380.1 118.8M338.1 159.9Q343.3 155.8 346.2 151.7M414.1 166.3Q422.5 159.3 428.8 149.4M410.4 166.2Q418.8 166.8 424.8 165.7M350.4 133Q354.2 128.3 360.5 124.4M346.9 119.5Q354.9 115.8 360.2 114.5M423.6 120.5Q427.8 126.7 432.7 132.3M330.2 154.3Q337.2 156 345.6 157.7M347.6 137.6Q356.4 130.1 366.1 120.2M369.7 142.7Q369.7 153.7 367.2 166.5M352.4 146.2Q358.9 142.5 364.6 141.4M411.2 148.6Q412 155 415.2 161.3M417.1 125.3Q424.9 135.7 431.6 146.5M359.8 122Q370.5 121.8 378.8 123.6M364 119.6Q374.9 125.4 386.2 128.7M406.8 146.2Q414.6 144.3 421.4 143.7M424.2 162.8Q430.1 162.8 434.1 163.1M413.6 171.4Q422.4 168.3 428.2 163.4M425.8 119.4Q429.8 127.4 434.5 137.4M388.7 117.9Q400.1 114.6 410.6 113.5M422.1 133.4Q428.6 135 437.9 136.7M385.8 146.9Q386.9 153.3 385.1 156.9M421.3 134.1Q423.8 140.8 424 148.6M405.7 123.3Q409.8 128.5 414.7 132.7M426.1 144.5Q429.7 157.9 431.3 169.7M397.4 115Q406.7 117.3 414 117.9M424.9 153.5Q424.1 158.5 422.8 165M396.6 121.7Q404 121.1 409.8 123M355.5 153.5Q360.9 149.5 366.9 143.7M417.8 144.1Q419.7 151.4 421.7 156.8M404.1 142.3Q413.9 138.9 421.4 137.6M363.1 125.4Q374.7 123.3 386.6 122.3M353.9 116.5Q358.5 121.6 365.2 127.7M388.8 143Q397.1 148.1 404.1 152.7M407.5 136Q414.7 135.7 422.9 134.7M411.6 138.3Q408 148.5 404.9 159.6M335.6 136.1Q342.2 136.4 346.7 136.4M374.5 126.9Q380.4 125.4 383.8 122.4M387.9 150.2Q396 149.9 401.6 147.6M402.9 122.7Q405.3 118.8 410.6 112.9M393.2 123Q392.1 126.4 389.9 132.3M437.3 118Q435.5 127.8 431.3 138.6M394.1 148.1Q402 146.3 411.3 145.7M353.8 142.4Q353.3 147.7 355.4 154.2M388.5 154Q398.4 159.5 407 164.1M383 119Q394.9 116.3 405.5 112.7" stroke="#c4701e" stroke-width="0.7" stroke-linecap="round" fill="none"/><path d="M392.1 154.2Q392.1 163.5 391.4 171.8M345.2 133.5Q341.9 141.6 336.4 148.6M372 140.3Q376.9 147.7 380.3 152.7M366 138Q376.7 131.9 387.2 128.6M354.5 144.1Q353 153.3 352.2 160.4M417.2 111.7Q426.2 115.9 434.2 118.9M341.1 129.4Q347.4 126.9 354.7 127.4M389 127.9Q398 131.6 407.4 133.6M341.3 145.9Q347.6 139.2 354.1 135.3M329.3 132.7Q339.7 137.5 347.7 144M387.2 163.3Q392.8 159.6 401.2 153.3M412 168.7Q418.3 167.9 426.6 165.9M366.4 136.9Q375.1 137.2 385.9 136.5M366.3 127.1Q377.4 126.6 387.4 127.9M363.6 116.1Q367.2 123.1 370.3 127.7M402.6 151.8Q409.3 150.2 415.8 150.1M335.5 135.8Q345.2 132.9 353.5 130.5M366.8 117.5Q374.8 119.7 382.9 123.7M424.8 128.7Q434.3 123.8 445 120.7M408.2 110.4Q405.8 118.6 406.3 127.3M403.6 165.7Q408.8 161.6 415.7 156.6M414.2 150.4Q413.4 156.1 410.7 163.3M403.6 131.9Q405.8 142.8 410.5 151.5M352.4 127.2Q360 125.2 365.4 123.2M388.4 109.6Q392 115.8 393.1 120M354.9 141.5Q364.8 144.6 371.9 146.7M415.9 124.4Q422 116.8 427.7 109.7M409 141.4Q417.5 134.7 423.6 126M382.7 111.4Q392 118.9 401.2 128.5M406.4 133Q415.4 139.4 423.1 148.4M417.8 132.5Q427.3 137.1 438.9 141.7M401.8 138.7Q410.2 143.4 415.7 150.9M366.6 150Q372.4 160 379.5 167.3M360.6 132.5Q368.7 130.8 376.8 129.4M419.7 154.8Q431.4 155.7 441.7 157.7M356.9 130.4Q360.6 135.2 365.8 143M406.4 153.1Q412.1 154.7 415.7 159.2M380.3 129.2Q389.3 127.5 398.2 124.8M399.7 171.1Q408 160.6 415.8 152.1M336.7 130.1Q349.1 127.5 359.5 126.3" stroke="#b05a10" stroke-width="0.9" stroke-linecap="round" fill="none"/><path d="M374.6 152.7Q385.2 145.1 393.2 135.4M331.3 137.5Q339.3 142.4 347.8 148M353.2 120.5Q361.3 120.3 368.9 118.5M365.3 132.2Q363.5 141.8 362.6 148.4M397.2 137.3Q408.9 132.2 419.6 128.4M422.5 118.9Q434.3 119.3 446.3 122.6M389.3 154.2Q400.3 152.1 409.8 147.5M394.6 121.1Q398.5 119.4 404 120.4M336.6 126.6Q346.6 123.6 354.1 122.2M410.7 129.3Q417.6 128.1 425 126.2M351.7 152.6Q359 143.7 369.2 136.2M390.3 151.2Q402.8 152.7 413.7 156.8M426.4 127.9Q433.1 128.1 437.5 130M333 143.1Q338.9 137.3 346.6 132.8M377.5 148Q384.6 147.4 391.7 148.5M383.1 165.4Q392.5 164.1 402.9 163.2M423 162Q434.8 159.1 445.9 157.5M411 126.8Q422.4 125.1 431.8 126.4M391.4 128.7Q394.6 125 399.6 120.8M404.8 139.2Q410 141.1 412.9 143.8M347.6 140.2Q357.3 144.3 368 148.1M349.6 135.2Q356.7 135.9 361.3 139.4M361.9 119.3Q367.9 121 376.7 122.7M380.5 125.7Q392.1 123.6 406.3 122.7M421.8 129.6Q427.1 124.6 434.6 118.3M392.4 121.4Q400.2 118.5 405.4 118.1M411.1 119.8Q417.6 126.1 425.7 129.8M391.2 140.2Q399.2 138 409 134.9M390.5 120.9Q396.6 119 399.8 118.7M335.8 150.3Q340.6 156.4 342.7 163.1M418.5 154.1Q428 158.3 440 160.3M379.5 154.8Q388.3 155.8 396.1 159.5M424.6 155.4Q433.1 150.5 439.6 142.8M425.4 149.2Q432.4 149.2 438.1 147.2M419.3 153.5Q424.1 160.7 428.5 170.1M392.4 126.6Q402.1 127.1 411.8 124.7M366.3 142.9Q378.3 147.6 388.2 150.8M393.1 165.3Q404.3 163 414.4 160.5M396.7 114.2Q404.4 115.2 415.2 115.1M345.2 131.2Q350.7 137.5 356.4 146" stroke="#a8540e" stroke-width="0.9" stroke-linecap="round" fill="none"/><path d="M369.6 130Q376.3 128.6 384.8 128M352.9 115Q356.8 127.7 359.5 139.1M343.3 140.9Q348.4 139.7 354.9 139.6M397.8 153.1Q409 153.6 419.2 153.5M348.1 156.8Q354.8 156.9 360.1 158.6M403.4 156.1Q408.9 163.4 416.8 169.2M427.8 146.4Q429.9 152.2 431.2 159.8M386.5 131Q388.8 141.7 391.1 152.2M423.3 125.5Q428 135.4 430 143.2M421.5 136.3Q432.5 129.6 442.2 124.2M387.5 165.5Q398.9 165 413.3 164.2M371.4 143.9Q375.8 143.6 381.8 146M424.8 152.5Q421.6 162.4 416.8 170.2M369 156.9Q376.4 159.7 385.3 162.2M375.9 122.4Q382.5 126.4 388.6 128.7M381.8 143.3Q392.8 141.4 405.3 138.3M366 117.2Q368.9 118.1 374.7 120.1M327.2 149.5Q334.6 155.3 344.7 161M347.8 112.6Q355 115.9 360.1 119.1M351.2 140.4Q363.3 147.2 372.4 153.1M366.9 126.1Q375.3 125.2 383.9 121.7M355.4 130.4Q366.6 132.6 375.2 132.4M362.8 126.9Q363 138.2 365.4 152.5M387.1 139Q394.1 137.8 402.8 137.9M428.9 121.3Q432.3 122.1 438.1 125.7M380.4 154.7Q384 149.9 389.1 143.7M347.1 126.4Q349 138.8 348.7 150M351.5 141.1Q349.9 147.9 348.7 154M413.5 132.6Q411.7 141.3 410.7 152.7M421.7 107.2Q420.9 119.4 420.6 131.1M372.8 162.1Q378.3 152.8 385.6 146.4M402.2 122.1Q402.9 128.8 402 134.3M348.3 147.7Q354.7 154.6 361 158.7M359.6 117.8Q363.5 116.9 369.3 117.4M338.9 150.1Q350 151.5 359.3 152.8M392.4 120.4Q397.7 121.7 404.4 121.4M389.6 104.4Q393.7 115 399.2 127.4M382 125.1Q384.5 133.8 385.5 145.5M395.8 147.7Q394.1 160.3 394.3 172.7M366.8 158.9Q376.2 156.4 387.2 155.9" stroke="#9c4c0c" stroke-width="1.1" stroke-linecap="round" fill="none"/><path d="M416.6 115.8Q420.3 116.7 426.3 117.2M350.9 125.5Q362.3 126.8 371.5 128.5M368.2 127.4Q377.2 125.4 388.6 124.5M351.2 106.8Q355.2 114.6 359 124.4M341.6 123Q355.7 123.6 367.1 122.3M345.9 131.6Q347.5 141.3 350.6 148.1M368.9 155.1Q373.2 150.4 378.1 144.3M422 153.5Q428.3 154.2 432.5 152.8M380.7 124.9Q391.8 131.1 401.8 138.9M413.1 147.3Q425.1 149.6 434.5 152.5M383 114.3Q391.8 115 401.2 116.4M365.6 126Q372.4 131.2 382 136.1M423.4 156.2Q429.6 162.9 432.8 168.9M397.3 130.6Q405.1 130.3 414.9 128.2M343.8 127.5Q349.5 128.1 354.8 127.3M387.7 120.7Q396.6 118.7 407.3 118.9M428.2 131.4Q432.2 126.8 438.2 123.7M425 136Q432.3 138.2 438.1 138.5M339 129.1Q344.1 130 350.1 130.4M410.2 109.5Q414.8 118.4 417 126.2M412.3 135.5Q418.1 133.7 425.8 129.2M401.8 118.3Q408.2 115.9 416.3 111.7M360.5 143.9Q368.2 144.6 376.7 144.3M423.3 126.7Q435.8 130.8 446.5 136.1M353.5 144Q363.6 139.7 371.4 134.4M388.2 139Q395.1 139.9 400.8 140.8M384.3 154.6Q388.9 153.7 395.9 155.3M423.4 154.2Q427 165.3 429.1 178.6M368.6 161.3Q371.9 156.5 375.4 153.5M334.5 144.8Q337.9 144.5 343.8 141.3M330.4 160.2Q336.5 156 340.4 153.7M378.9 131.2Q385.3 129.5 393.1 126.9M383 123.6Q389 125.6 392.8 125.6M350.1 132.9Q351.6 128.7 355.4 125.2M328.8 146.4Q336.6 146.9 344.7 149.9M385.5 114Q391.8 121.5 398.9 131.2" stroke="#bc6616" stroke-width="1.1" stroke-linecap="round" fill="none"/><path d="M346.6 147Q353.8 144.8 361.2 144.4M401.1 151Q397.1 164.4 394.8 175.3M392.2 148.7Q402.6 148.5 413.1 151M377.1 114.6Q376.5 120.9 375.5 128.9M434.3 133.1Q435.8 138.8 437.7 144.2M423.4 134.2Q421 140.3 420.5 145.8M422.1 134Q430.5 129.9 441.8 127.7M372 146.3Q381 151.6 389.2 155.6M426.4 150.2Q432.4 150.2 436.3 148M384.2 122.4Q387.9 126 390.2 131.3M360.2 116.1Q357.3 126.4 356.7 138.2M420.9 161.1Q434.9 161.5 446.9 161.4M359.3 142.4Q369.9 145.4 378.8 147.2M406.2 119.9Q416.4 119.9 423.9 117.5M381.1 118.1Q390.6 117.4 397.9 116.1M425.5 131.7Q432.3 134.3 441.7 135.3M354.6 147.1Q362.4 148 367.8 146.4M414.5 156.1Q425 155.8 435.7 152.9M336.7 157.3Q345.3 155.1 355.4 152.5M351.5 130.7Q361.6 128.1 372.1 128M339.5 145.2Q350.9 150.7 362.1 153.6M373.1 120.7Q378.7 120.4 387.2 118.1M395 124.2Q404.7 122.7 412.5 123.3M376.9 124.3Q386 133.5 395.1 142M349.9 128.6Q357.6 119.7 365.8 112.1M391.8 158.8Q400.1 159.8 409.1 161.8M375.6 137.3Q381.7 130.5 388 125.9M352 140.7Q357.7 135.2 361.1 129.7M419.8 138Q425.3 134.9 428.2 129.6M414.9 118.9Q425.7 121.2 433.8 123.6" stroke="#b05a10" stroke-width="1.1" stroke-linecap="round" fill="none"/><path d="M365.6 123.7Q367.4 135.9 366.7 148.9M350.5 117.8Q359 115.8 365.7 112.5M403.1 148.6Q406.9 153.5 410 158.4M381.9 147.9Q386.8 149.8 391.5 150.1M370.4 127.6Q371.8 140 370.2 151.3M349.5 132.1Q356.1 134.2 361.9 135.6M417.6 152.5Q420 159.9 422.7 167.6M433.5 169.6Q437.7 167.4 443.1 167.8M394.1 150.6Q396.7 157.5 401.6 163.5M367.4 143.9Q362.8 151.7 359.1 159.1M377.9 117.5Q385.7 123.6 392.7 127.9M393.2 140.4Q404.6 144.7 414.7 148.8M327.2 142.8Q339.4 137.6 348.6 132.8M366.3 137.9Q380.5 139.6 391.8 141.4M372.2 131.4Q384.3 135.3 395.7 138M350.1 146.2Q359.7 143.3 371.1 140.4M349.3 129.8Q345.5 139.6 342.9 149.9M348.2 144.6Q357.6 135.3 364 124.7M390.3 132.1Q388.1 137.8 388 146.4M377.6 160.7Q382.9 160.6 386.7 163.6M367.6 140.2Q365.9 147.3 365.4 155.9M378 138.4Q376.8 144.5 378.1 150.6M401.6 111.5Q405.9 117.7 407.7 122M378.9 123Q386.4 132.4 393.6 142.8M389.3 120.5Q389.4 133 392.4 146.3M413.4 134.8Q422.8 133 430.6 128.6M430.4 149.3Q429 158.5 426.2 164.7M350.4 144.5Q356.3 150 365.1 157.7M357.8 134.8Q369.8 134.7 379.6 136M429.7 132.4Q435.2 139.7 442.3 148M417 154.3Q421.6 154 428.2 150.9M344.4 139.7Q351.1 132.9 360.5 123.8M415.7 120Q426.7 118.8 436.9 117.2M398.7 122.4Q409.1 124.1 417.7 123.9M407.2 157.9Q410.3 153.8 413.3 151.2M418.7 153.2Q423.6 154.8 429.9 156.7M367.6 155.6Q377.4 152.7 384.8 152.5M355.7 134.1Q357.5 138.3 356.7 144.8M394.8 111.3Q397.4 122.3 401 136.3M357.6 118.9Q369.4 119.1 383.3 121.4M338.8 120Q345.5 120 351.8 119.5M405.1 163.5Q412.1 166.1 418.1 168.9" stroke="#bc6616" stroke-width="0.9" stroke-linecap="round" fill="none"/><path d="M360.8 113.5Q370 120.6 376.4 125.4M426.8 153.8Q431.5 147 435.5 142.8M367.3 160.1Q376 151.5 386 145.4M391.4 138.1Q397.7 141.3 401.8 143.4M336.6 116.7Q343.7 119.5 351.6 119.8M340.6 161.5Q344.9 157.7 347.1 154.7M409.8 154.4Q419.8 149.4 431.6 147.3M362.7 162.7Q372.4 157.1 383 149.1M396.6 154.7Q401.9 153.9 406.8 151.5M384.3 125Q393.8 124.2 402.9 123.8M420.6 112.9Q424.8 117.8 428 125.1M353.2 147.2Q355.3 152.4 358.4 156.5M385.7 155.1Q399.1 151.6 410.8 150.6M357.3 152Q358.6 156 357.6 161.2M389.1 125.1Q401.8 120.2 413.6 116.4M386.2 160.9Q391.5 159.4 397 159.2M399.8 149Q404.9 150.1 412.1 152.7M365.9 103.7Q363.8 115.4 363.6 125.5M410.6 131.8Q414.3 130.6 420.1 128.3M361.8 136.2Q359.3 142.7 357.8 147.2M429 129.7Q425.4 138.8 423.8 145.1M347.6 150.6Q354 154.1 362.2 155.6M392.1 130.5Q400.2 127.9 409.1 125.7M424.2 158.1Q429.1 157 435.7 155.4M355 114.8Q361.2 114.4 366.6 113.8M398.5 119.4Q410.1 122.2 419.4 126.2M399.1 165.7Q409.4 162.7 417.5 160.7M395 121.8Q401.4 124.1 410.5 124.3M365.8 121.7Q372.1 124.1 375.3 124.5M346 148.1Q359.1 147.1 371.4 148.4M387.5 152Q391.3 159.2 395.5 168.5M347.6 123Q353.1 126.6 358.6 128.3M399.6 151.7Q404.7 156.1 409.1 158.9M360.3 139.9Q356.8 151.9 351.1 163.5M398.9 159.3Q409.1 163.3 420.9 167.8M391.8 130Q399.5 122.9 406.7 118.5M403 140.5Q411.5 140 419.5 138.5M333.6 124.7Q345.3 126.9 356.5 132M369.4 132.1Q382.5 135.6 392.8 138.3M384.3 127.9Q393.3 128.6 404.6 127.5M416.6 139.8Q419.2 149.2 423.5 158.4M388.1 126.3Q396.7 125.1 403.4 123.7" stroke="#a8540e" stroke-width="1.1" stroke-linecap="round" fill="none"/><path d="M419.2 151.9Q426.7 157.6 436.2 162.2M354 120.6Q360.9 117.9 369 116M336.8 155Q339.5 148.5 344.5 143.3M359.1 144.1Q370.7 140.8 380 139.5M379.9 110.5Q381.5 114.8 385.1 121.8M342.4 110.5Q352.8 113.6 361.7 117.4M369.4 153.7Q377.3 153.8 386.8 154.1M389.1 142.7Q389.2 149.2 387.4 153.3M334.6 155.3Q340.9 148.5 345.5 141M341.8 154.3Q352.2 153 359.9 149.1M383.2 148.4Q380.9 160.4 377.2 171M411.4 136.5Q421.7 133 433.7 127.5M342.3 134.9Q349.3 132.5 358.8 129.9M341.2 154.1Q352.2 157.3 362.4 159.4M361 137.1Q371.1 135.5 382.1 132.2M417.4 126.7Q426.3 127.6 435.3 130.3M342 149.8Q352.3 144.5 363 138.2M386.7 115.7Q384 125.9 378.5 134.4M401.6 134.3Q409.6 130.4 420.5 127M368.4 165.7Q377.4 163.1 385 158.6M418.8 136.1Q428.4 136 435.6 138.3M358.6 119.7Q369.2 114.9 381.6 111.1M428.1 164.3Q433 163.5 439.5 163.9M420.8 127.5Q427.8 130.5 433.2 131.6M335.1 142Q341.2 137.7 345.8 131.3M369.4 124.7Q376.2 126.2 385.8 128.5M384.9 156.7Q393.7 160.7 401.2 162.9M424.1 135.5Q432.8 130.8 444.4 126.5M383.6 142.4Q392 134.8 401.7 128.8M358.2 149.1Q360.7 154.1 364.2 161M353.5 129.4Q364.4 132.4 375.7 136.5M345.5 136.2Q347.2 145.4 348.8 151.7M372.4 128.1Q367.7 135.3 365.7 139.5M391.4 115.5Q394.7 121.6 397.9 127.5M396.9 173.4Q405.5 166.4 414.8 156.7M376.7 159.5Q383.8 161.8 388.9 164.1M407.6 139.7Q410.9 138.8 417.2 138.6M356.2 130.7Q358 140 361.8 148.4M408.3 160.8Q415.5 161 423.2 164.3M342.8 131.4Q349.2 121.5 357.7 112.6M428.2 134.5Q434.3 130.5 440 129M383.4 143.8Q390.6 139.9 396.5 138.6" stroke="#c4701e" stroke-width="1.1" stroke-linecap="round" fill="none"/><path d="M337.7 138.5Q344.1 139.7 347.8 141.7M424.9 149.8Q423.7 155.3 424.5 159.5M344.6 120Q347.7 119 353.1 116.8M412.1 146.3Q420.8 150.4 431.4 154.9M355.2 148.3Q353.9 157.2 352.3 168.1M356.3 114Q366.5 113.7 374.9 113.9M403.2 148.8Q402.4 159.9 399.2 168.7M419.4 146.4Q428.6 144.4 435.3 142.2M399.5 117.9Q405.7 121.7 410.8 125.9M389.1 129.7Q389.4 137.3 388.2 145.2M415.5 141Q425.3 135.3 438 132.1M332.3 126Q343.4 130.5 354 133.4M355.1 165.3Q365.1 157.4 375.2 150.4M420.6 160.2Q417.6 164.1 415.7 169.1M342.8 146.6Q344.4 154.4 347.7 165M344 159.8Q349.1 158 355.7 155.6M407.7 128.7Q415.2 130.6 421.3 134M357.8 107.7Q354.5 114 353.8 123M431.5 138.6Q433.5 141.6 437.8 146.6M353.4 126Q364.2 126.5 373.8 128.5M356.2 137.5Q362.8 140.8 367.6 145.7M349.7 135.6Q356.1 135.1 360.2 133.2M399.6 154.9Q409.4 150.2 420.6 143.9M376.7 157.1Q383.2 159.5 391.2 164.3M346.6 131Q356 134.4 367.4 137.5M362.7 132.2Q363.6 137.9 363.3 143.6M407.2 123.2Q416.5 121.3 424.9 117M358 139.2Q365.9 137 372.4 137.7M409.9 111.2Q408.5 121.5 405.2 134.5M423.1 151.3Q435.1 153.3 444.8 156.5M353.2 150.9Q357.3 153.3 361.8 156.2M367.8 155.4Q371.6 157.4 378.3 159.7M339.7 134.9Q349.8 133.3 361.8 128.9M379.5 127Q386.8 135 392.2 141M401.4 133.2Q398.6 137.7 398.5 143.6M414.6 167.6Q418.2 162.4 420.2 159.2M419.5 135.8Q426.6 134 433.3 130.5M364.8 121.6Q371.9 121.8 380.2 124.3M365.4 134.1Q378.6 132.7 390.1 133.9M395.2 127.7Q401.8 127.8 406.5 125.2M402.2 141.1Q410.3 139.6 421 139.4" stroke="#bc6616" stroke-width="0.7" stroke-linecap="round" fill="none"/><path d="M366.8 141.6Q376.6 143.7 388.6 147.2M416.4 155Q424.5 157.6 435.2 161.1M382.3 124.4Q390.7 125.3 400.2 128.5M347.4 152.2Q354.9 151.3 360.8 152.5M350.9 153.8Q354.4 153.1 360.3 151.8M345.3 127Q346.2 139.2 346.9 149.3M363.7 155.1Q373.9 156.4 381.2 159.3M373.7 156.8Q386.2 155.4 397.4 151.1M343.9 130.3Q356.8 132.7 367.7 137M372.1 153.2Q379.9 150.6 386.9 148.5M422.1 122.2Q431.2 119.5 442.5 114.8M371.4 142.2Q378.9 142 385.7 141.8M414.8 147.4Q418.7 146.2 424.3 144.3M403.1 143.9Q413.8 139.6 425.8 137.2M371.1 123.2Q380.3 126.9 391.5 133.4M397 136.5Q408.5 136.7 419.7 135.3M409.7 117.2Q406.9 121 405.1 126.2M354.1 121.6Q358.8 122.3 363.1 120.9M355.2 145Q358.9 143 365 141.5M394.7 134Q405.4 132.6 416.2 133.8M416.4 137.5Q428.5 134.7 438.2 130.4M371.4 139.8Q379.1 147 389.6 156M351.5 115.5Q358.1 115.5 362.3 113.4M417.7 131.1Q425.8 131.7 431 133.3M352.5 130.8Q356.7 134 359.9 139.4M420.4 131.9Q426 135.2 430.6 136M403.2 134.4Q402.5 141.3 400.7 150.8M408.9 116.3Q409.4 126.1 407.8 134.9M422.9 137.3Q428.3 140.6 435.6 141.7M417.7 115.4Q421.1 116.9 427.3 118.9M423.3 122Q433.7 115.3 441.1 109.4M417.4 133Q418.5 146 418.8 158M356.7 116.7Q362.6 124.9 369.8 130.7M378.9 128.8Q376.1 137 371.4 142.9M400.3 152.1Q406.4 155.4 411.6 156.6M334.7 133.7Q344.7 129.2 354.1 125.6M387.2 122.8Q394.4 120.6 402.6 117.5M413.1 150.6Q421.3 147.8 427.5 145.1M397.1 135.1Q404.4 131.7 412.4 127.8M408.7 163.5Q415.6 164.9 424 164.5M425.5 137.1Q435.2 145.5 443.4 155.5M358.9 153.9Q369.4 152.3 382.3 152.6M390.7 109.8Q392.6 118.1 397.3 128.6M353.2 119.3Q360.2 112.9 366.4 109M391.5 150.8Q396.9 154.1 402.7 158.2M394.2 123Q401.1 119.5 407.4 116.6M421.1 135.5Q426 135.4 430.9 133.2M354.7 119.5Q363.9 121.7 370.8 125.8M347.3 139.3Q347.1 143.9 344.9 148.1M339.1 157.3Q348.4 151.1 356.4 147.5" stroke="#9c4c0c" stroke-width="0.9" stroke-linecap="round" fill="none"/><path d="M358 124.7Q369.2 122.9 381.4 121.1M424.6 169.6Q435.1 163.1 443.6 155.6M344.8 138.5Q354.2 142.1 363.9 146.3M366.8 125.7Q373.8 124.4 379.3 124.8M384.3 142.6Q380.4 152.3 379.1 161.6M358.8 156.5Q365.6 155.7 372.4 156.4M394.6 139.9Q403.4 140.1 409.7 141.4M338 153.9Q342.1 151.1 345.2 146.7M422.3 145.2Q424.9 156.2 425.8 166.3M373.6 140.3Q379.5 146.2 388.3 151.3M373.9 129.9Q383.2 126.4 393.1 124M361.2 154.3Q368.1 152.2 377.3 152.6M356.9 142.3Q367.7 133.7 376.9 127.8M344.3 109.8Q353.8 113.6 365 118.1M410.6 159.1Q419.3 161.8 428.7 163.8M385.4 134.9Q391.9 144.7 400 151.5M371.8 128.4Q372.2 136.6 373.2 142.9M397.3 135.8Q400.8 133.6 406.3 131.5M360.5 151.5Q365.5 158 367.9 162.4M420.5 113.1Q415.9 123.4 412.1 131.9M395.7 151.8Q400.4 152.6 403.6 156.1M414.7 134.8Q419.3 131.4 425.3 125.3M380.9 128.5Q384.4 129.9 389.7 131.9M398 162.7Q403.3 160.7 409.3 159.6M401.5 148.6Q410.6 155.1 421.7 164.2M388.5 142.8Q394.4 145.4 399.3 148.4M401.9 123Q412.4 120.1 423.2 117.7M338.7 156.6Q351.3 155 364.2 154.5M352.9 137.3Q361.6 135.7 371 132M408.6 147.6Q413.5 149.5 417.7 154.1M401.5 133.3Q415.3 131 426.2 126M383.7 134.9Q392.3 136.1 398 138.8M396.3 132.8Q405.9 139.7 413.6 145.7M419.9 158.2Q426.5 158.4 432.8 159.9M358.5 128.2Q362.3 123.6 365.1 118.6M368.4 126.1Q374.4 128.2 383.3 127.9M377.5 157.3Q383.1 153 387 147.7M365.6 141Q368.9 137.4 372.3 134.9M417.2 143.7Q423.5 143.2 429.1 144.4M372.1 156.7Q376.5 157.4 381.1 158.5" stroke="#9c4c0c" stroke-width="0.7" stroke-linecap="round" fill="none"/><path d="M413.7 156h0.1M336.9 152.3h0.1M389.7 125.8h0.1M388.1 117.9h0.1M419.4 156.5h0.1M346.1 137.8h0.1M389.2 144.9h0.1M372.8 157h0.1M418.3 124.6h0.1M395.9 138.1h0.1M369.5 153.4h0.1M388.5 135.2h0.1M375.8 133.2h0.1M360.4 133.4h0.1M429.6 146.4h0.1M345.3 132.4h0.1M415.9 122h0.1M414.3 122.1h0.1M401.3 120.8h0.1M420.5 138.2h0.1M423.6 142.4h0.1M429.9 165.3h0.1M423.1 163.4h0.1M395.4 158h0.1M413.4 136.9h0.1M392.3 119.2h0.1M390.8 135.8h0.1M392.6 160.8h0.1M375.8 147.6h0.1M380.2 151.8h0.1M418.8 131.3h0.1M410.3 160.8h0.1M408.6 131.8h0.1M386.2 138.9h0.1M343.5 136.6h0.1M365.3 136h0.1M342.7 138.1h0.1M434.7 163.6h0.1M357.6 154.3h0.1M344.3 132h0.1M417.1 126.2h0.1M426.4 153.3h0.1M376.7 128.4h0.1M341.3 149.6h0.1M376.6 128.5h0.1M361.4 122.1h0.1M395.5 144h0.1M386.1 133.8h0.1M372.5 117.5h0.1M388.8 130.5h0.1M384.2 131.7h0.1M347.4 128.6h0.1M401.5 135.4h0.1M433.2 145.6h0.1M372.8 144h0.1M417.3 153h0.1M345.4 137.5h0.1M432.7 158.3h0.1M370.3 137.6h0.1M389.7 150.8h0.1M406.7 144.6h0.1M433.8 154.8h0.1M428.4 118.7h0.1M376.7 116.5h0.1M425.6 141.2h0.1M343.5 131.7h0.1M359.2 128.6h0.1M351.3 151.6h0.1M430.5 117.7h0.1M358.7 128.8h0.1M400.9 154.1h0.1M377.9 144h0.1M396.8 139h0.1M399.1 160.9h0.1M347.8 127.6h0.1M344.9 144.4h0.1M408 130.6h0.1M358.8 149.8h0.1M382.4 147.9h0.1M349 156.2h0.1M414.6 135.1h0.1M419.9 122h0.1M351.8 143.9h0.1M417.4 132.3h0.1M352.4 123.7h0.1M339.9 147.4h0.1M401.5 125.6h0.1M409.1 156.5h0.1M379.5 135.6h0.1M340.5 153h0.1M345.5 142.5h0.1M427.8 124.6h0.1M426.1 130.7h0.1M423.6 154.4h0.1M411.1 154.5h0.1M385.9 157.2h0.1M430.7 149h0.1M390.4 134.5h0.1M400.9 150h0.1M351.8 123.8h0.1M377.6 155.2h0.1M388.9 130.7h0.1M375.8 118.4h0.1M385.7 151.5h0.1M433.1 159.9h0.1M416.5 121h0.1M374.6 129.5h0.1M406.7 160.2h0.1M384.8 145.3h0.1M421.4 142h0.1M391.3 140.2h0.1M348.6 133h0.1M353.7 117.9h0.1M404.6 148.9h0.1M426.4 147.7h0.1M387.6 122h0.1M397.1 158.1h0.1M394 152.4h0.1M410.6 143.8h0.1M386.9 126.5h0.1M381.3 139h0.1M423.8 124.7h0.1M430.5 161.9h0.1M358.9 118.9h0.1M338.5 150.2h0.1M366 151.5h0.1M398.1 141.2h0.1M405.2 141h0.1M350.4 127.3h0.1M383.1 132.1h0.1M383 135.7h0.1M343.6 143.7h0.1M353 134.5h0.1M428.5 161.8h0.1M354.4 157.4h0.1M389.7 125h0.1M402.4 124.3h0.1M360.8 146.5h0.1M427.7 145.9h0.1M357 132.5h0.1M382.6 158.1h0.1M391.6 137.6h0.1M432.9 155.9h0.1M377 152h0.1M370.1 150.2h0.1M352.9 131.9h0.1M433.9 155.6h0.1M391 157.4h0.1M408 130.5h0.1M360.8 154.4h0.1M375.7 154.8h0.1M386.6 127.2h0.1M370 117.9h0.1M344.6 129.2h0.1M411.8 131.8h0.1M383.9 136.1h0.1M351 129.8h0.1M416.2 154.3h0.1M391.2 120.1h0.1M378.5 136.6h0.1M371.6 116.3h0.1M395.4 152.1h0.1M383.7 160.5h0.1M405.8 127.2h0.1M393.6 123.2h0.1M424 160.3h0.1M419.2 142.9h0.1M372.6 125.3h0.1M407 125.8h0.1M399.4 159.4h0.1M418.8 137.7h0.1M382.1 144h0.1M367.1 118.2h0.1M402.4 158.7h0.1M356.9 142.8h0.1M371.4 127.4h0.1M389.2 134.4h0.1M386.4 122.2h0.1M344.4 138.9h0.1M420.6 128.4h0.1M387.4 120h0.1M370.5 140.6h0.1M382.5 140.2h0.1M411.2 154.8h0.1M356 154.3h0.1M427.1 155.1h0.1" stroke="#f4e2d8" stroke-width="1.4" stroke-linecap="round" opacity="0.75"/></g></g>
<g><clipPath id="mc2"><polygon points="516,112 609,113.5 618,173.5 502,160.5"/></clipPath><g clip-path="url(#mc2)"><polygon points="519.7,115 604.2,116.4 611.9,166.7 509.2,155.4" fill="#2a180e"/><path d="M530.3 153.1Q537.1 144.3 542.9 137.4M530.8 160Q542 155 553.3 150.8M591.3 140.9Q598.2 149.7 607.8 157.6M557.8 135.1Q561.7 136 567.3 137.2M546.1 153Q556.7 152.8 565.3 152.2M595 164.8Q597.8 159.6 601.3 155.7M585.9 119.8Q582.3 125.4 581.1 128.7M597.2 171.1Q603.7 163.9 609.2 155.9M594.5 121.3Q601 121.8 608.5 123.8M566.8 113.5Q573.4 118.1 581.7 123.7M536.3 139.9Q549.3 138.1 560.1 134.3M568.8 151.5Q564.9 160.6 563.7 168.9M536 122.9Q546.4 128.6 557.2 136.6M513.6 126Q519.1 126.6 522.2 129.4M551.4 147.7Q562.8 145.1 573.2 144.7M597.4 154.5Q606.2 153.7 613.4 151.6M517.9 118.5Q519.8 124.6 520 132.3M519.7 119Q523.1 114.6 528.8 110.9M573.5 161.7Q578.8 160.4 586.8 156.4M582 139.3Q584.3 146.8 589.6 153.7M579.7 121.2Q590.7 120 601.9 115.8M514.3 141.4Q522.4 133.9 527.7 128.4M543.5 141.5Q547.4 143.6 550.9 148M562.6 159.1Q568.5 154.9 571.8 151.4M596 152.9Q603.1 155.3 609.2 156.8M553.8 115.1Q552.1 122.8 549.9 128.7M563 137.8Q569.5 138.3 576.2 139.2M537 159.3Q541.9 153 548.6 145.2M529.9 122.7Q539.3 122.2 546.8 122.9M538.3 159.4Q549.6 151.1 559.2 144.1M507 135.3Q515.3 129.9 525.3 125.9M560.3 111.7Q566.7 115.8 575.3 120.9M567.6 131.3Q571.9 139 579.1 147.9M584.3 153.7Q594.2 157.6 601.3 160.2M553.5 154.5Q562.6 152.2 569.4 150.5M594 164.1Q601.1 165.7 610 164.8M590.3 154.3Q597.1 160.1 606.3 167.4M571.3 171.9Q577.2 164.6 585.1 154.3M551.9 143.4Q558.7 143.8 564.5 146.8M541.2 142.3Q550.1 143.1 556.6 146.3M536.1 148.7Q535.3 154.7 533 162.6M506.1 143Q514.1 136.2 521.8 127.9M527.8 139.9Q537.6 143.7 545.9 145.9M507.4 142Q507.6 152.4 510.2 163.2M596.5 135.1Q605.1 130.8 612.7 125.8M601.7 119.5Q599.2 126.2 598.9 133.6" stroke="#6a4030" stroke-width="0.7" stroke-linecap="round" fill="none"/><path d="M505 154.3Q517.5 151.6 527.1 146.9M527.4 131.3Q533.6 132.3 537.2 131.7M596.6 143.3Q601.9 145.4 605.5 146.4M515.5 108.7Q522.2 114.1 526.7 119.8M600.4 152.8Q606.2 143.9 612.4 136.5M534 131.8Q532.6 138.9 529.8 147.1M527.2 114Q531 115.5 537.5 119.2M533.7 149.6Q530.9 153.1 530.3 158.3M529.3 151.5Q533.1 151.6 538.2 153.8M583 157.5Q592.2 157.8 598.7 159.4M584.4 132.4Q593.1 129 601 126.2M590.5 144.1Q600.9 148.2 611.3 151.2M587.8 141.8Q593 142.7 599.8 146.2M583.4 139.3Q588 136.8 593.6 133.7M601.4 151.2Q607.6 152.5 614.9 156M567.6 119.1Q578 124.1 590.6 127.4M566.3 162.6Q570.6 160.1 577.6 159.4M568.8 147Q576 144 581.2 141M579.4 159.8Q585.3 158.5 593.8 157M562.1 117.8Q562.7 131.3 563 142.2M548.6 166.6Q557.5 157.9 568.4 151.9M548.4 145.4Q559.1 142.9 569.8 140.2M524.6 117.8Q528.4 118 534 115.8M551.7 116.8Q564.8 121.4 575.6 124.9M571.4 139.7Q577.6 141.6 581.5 141.8M537.1 152.5Q541.6 144.7 548.6 136.8M526 120.6Q533.1 119.3 538.3 115.7M567.3 158.5Q570.5 162.6 575.7 164.7M586.4 135.7Q591.5 126.9 596.7 120.2M560.8 156.6Q571.4 153.4 580.3 149.4M601.5 131.5Q604.2 136.4 604.9 142.8M555.4 138.7Q566.1 135.2 577.5 134.1M525.8 142.7Q532.9 141.9 538 142.1M514.2 115.1Q519 123.5 525.3 132.5M509.1 137.7Q519.3 137.5 529.2 136.6M544 137.8Q550.1 140.6 554.5 142.8M514.7 111.1Q524.9 114.1 533.6 118.2M559.9 125.2Q565.9 128.8 569 133.4M568.8 104.1Q564.2 114.8 558.7 125.4M517.1 144.9Q525.5 141.6 533.5 139.3M528.1 124.8Q537 125 547.2 125.7M512.5 117.8Q522.7 114.1 534.3 112.9M570 141.2Q577.1 134 584.3 128.7M590.4 149.2Q600.9 148.9 613.9 151.5M582.1 156.7Q578.3 163.4 575.1 171.7M546.8 152.5Q553.9 157.1 559.6 161.1M534.7 109.5Q543.3 115.7 550.9 123" stroke="#44261a" stroke-width="0.7" stroke-linecap="round" fill="none"/><path d="M515.7 140.5Q518.9 147.8 520.3 156.5M506.8 138.5Q514.1 137.1 520.7 133.8M518.9 125.7Q530.7 121.5 542.6 116.9M543.5 150.5Q553.7 148.3 566.4 143.7M580.3 150.5Q585.3 151.4 591 154.2M535.9 157.5Q545 155.3 557 154.1M505.2 124.6Q514.4 127 525.9 131.1M548.8 140.2Q558.7 144 569.4 146.2M591.8 157Q591.4 163.9 593.3 167.9M500.8 152.9Q510.3 154.7 517.1 158M584 138.7Q587 141.3 592.6 141.8M572.9 147.3Q584.1 144.2 597.1 144.1M548.3 155.5Q557.5 157.3 565.5 158.9M532.3 123.9Q537.8 117.2 543.8 108.8M530.8 141.1Q534.8 143 540.6 142.2M547.4 125Q554.5 117.4 559.6 111.8M520.5 140.7Q530.7 146.1 538.4 150.5M595.1 159.4Q601.7 163.2 605.7 166.3M507.5 122.3Q518.2 122.2 528.8 123.4M579.8 132.3Q584.1 138.6 589.6 145.5M536.9 131.2Q545 131.7 552.5 131.3M505 133.1Q515.7 132.9 526.2 132.9M598.4 116.1Q603.4 114.2 607.4 115.1M566.9 145.8Q574 143.3 581.7 140.1M558.5 138.6Q564.2 142.1 569.1 143.4M583.8 129Q584.3 141.5 582.3 154.8M539.4 132.3Q538.4 143.3 538.9 152.8M552 142.7Q549.2 146.4 547.5 150.5M597.1 148Q600.8 148.2 606.5 146.8M552.3 141.8Q561.9 140.7 569.4 141.9M545.4 124.6Q544.4 128.9 540.8 135.1M534.4 126.8Q545.5 129.5 557.4 131.3M566.6 145.6Q577.4 143.1 588 139.8M559.8 148.9Q559.1 153.9 557.8 161.6M569.8 163.8Q579.1 161.9 590.1 159.5M535.3 143.5Q541 143.4 548.7 140.5M542.8 123.1Q542.1 129.6 538.4 138.8M544.2 142.4Q553.9 144.5 562.4 147.8M607.7 124.7Q605.6 131.8 604 136.2M567.4 126.6Q574.3 129.3 579.2 130.4M574.9 145.1Q587.1 144.6 599.5 147M565.1 155.4Q570.4 156.7 576.3 156.1M602.9 156.8Q613.5 159 621.6 160.3M514.5 136Q526.2 139.1 536.4 139.8M549.6 148.7Q555.7 153.2 560.2 159M538.7 145.1Q550.1 140.1 560.2 137.7M547.4 116.1Q551.4 121.5 554.6 124.7" stroke="#724834" stroke-width="0.7" stroke-linecap="round" fill="none"/><path d="M587.5 133.5Q594.7 138.9 603.1 146.6M567.2 136.4Q566.5 141.8 565 147.4M510.8 123.5Q512.8 132.5 516.3 140M554.7 117.5Q567 121.2 577.4 125M555.8 139.6Q559.6 138.5 565.2 136.1M560.8 138Q569.6 135 580.2 129M516.6 137.3Q524.3 130.4 532.2 122.3M521.7 122.6Q531.3 123.3 540.2 127M604.3 137Q608 139 614.1 141.5M526.8 122.9Q522.2 129.8 519.6 138.6M532.1 131.6Q537.1 133.3 540.8 136.5M567.6 154.3Q575 151.9 585.1 149.7M548.4 127Q556.2 128.8 561.1 127.6M551.7 157.3Q563.8 153.4 575.1 149.4M585.8 166.5Q595.7 163.7 604.2 161M571.7 115.6Q581.6 113.9 591.3 113.9M603.7 152.1Q606.3 160.3 608.3 170.4M551.7 140.6Q548.3 151.6 545.3 160.1M595.8 151.9Q605.6 155.1 613.5 157.9M544.6 151.7Q555 148.4 563.5 147.5M573 129.2Q581.4 129.4 588.5 132.3M538.3 104.6Q538 115.5 539.3 127M525 145.1Q530.7 147.4 539.4 150.5M600.9 147.2Q607.9 152.2 615.1 155.5M599.7 148.1Q605.8 144.9 611.9 141.7M544.9 112.5Q546.8 116.6 551.2 120.7M522 132.6Q532.8 141.2 541 148.4M588.4 157.8Q597.2 154.1 606.8 151.1M574.3 141Q579.9 137.9 584.8 137.1M515.2 124.8Q525.6 124.4 538.5 124.4M540.2 141.5Q544.2 134.7 551 128M559.2 120.4Q565.4 119.9 574.2 120.4M529.1 147.8Q539.9 150 550.8 150M540.6 140.2Q549.1 134.9 560.3 128M594 150.3Q601.4 152.4 609.4 154M587.5 142.7Q594.3 138.9 600.4 137.6M571.9 142.6Q580.8 146.8 592.4 150.3M551.2 151.4Q557.9 142.8 567.4 132.6M583.2 172.6Q590.2 164.3 599.6 154M573.9 152.9Q572.5 158.4 573.9 165.2" stroke="#724834" stroke-width="1.1" stroke-linecap="round" fill="none"/><path d="M595.5 146.9Q594.3 155.8 592 165M578.7 121.4Q584.6 128 588.8 134M523 122.6Q528.4 128.6 534.4 131.7M581.9 130.9Q581.6 137.1 579.3 141.3M599.1 145.7Q605.7 151.3 611.6 158.3M535.1 131.8Q541.4 135.6 550.7 137.9M549.7 125.9Q555 129.4 562.7 130.5M518.3 129.7Q525.9 130.2 531.3 129.1M512.8 162.6Q522.8 157.3 535 153.6M565.4 115Q570.6 116.4 577 116.7M513.4 143.6Q522 145.3 528.5 144.9M593.2 117.1Q603.6 120.2 612.8 125.9M551.9 146.3Q561.5 142.1 569 136.8M532.9 135.8Q538.6 131.2 544.6 123.8M529.9 126Q534 133.5 539.8 141.2M541.3 114.3Q537 122.1 534.4 129.5M589 123.7Q591.9 126.9 594.1 131.2M506.2 139.6Q515.1 134.6 524.5 129.9M515.8 122.6Q517.3 127.8 516.6 132.8M521.1 124.4Q528.3 131.1 533 139.4M548.9 128.1Q560.1 123.2 571.8 120.9M564.7 139.3Q568.5 138 574.3 138M587 166.1Q594.3 159.4 603.9 150.5M554.3 145.1Q560.8 142.4 566.5 142.4M532.7 118.4Q538.6 116.4 546.3 113.7M568.5 128.8Q575.4 132.3 580.7 133.7M587.6 124.5Q600.9 129.5 612.2 131.6M578 126.2Q582.8 124.2 588.1 123.1M546.2 156.7Q552.1 156.1 556 152.5M580.7 128.7Q587.1 129.1 591.1 130.7M569.7 116.4Q577.6 116.4 583.2 114.8M532.8 115.5Q539 118 547.8 120.4M531.3 112.3Q540.4 114.4 552 118.6M598.8 153.1Q599.3 163.3 597.3 171.7M570.2 117.4Q581.4 120.3 590.9 126M571.8 142.5Q571.6 147.6 571.9 155.7M553.1 121.5Q558.6 126.2 565.6 131.2M546.6 113.1Q550.6 117.9 554.7 123.4M603.7 147.2Q608.1 142.3 612.4 136.8M535.7 112.5Q545.3 120.2 556.8 125.8M519.2 123Q525.5 126.3 533.2 128.3M547 133.5Q546.6 141.5 545.6 151M576.8 120.8Q587.5 119.8 595.6 120.4M581.5 160.3Q588.9 160.6 597.3 161.6M554.5 114Q565.1 119.8 578.3 123.7M529.7 158.7Q540.3 159.4 550 159.2M542.5 162Q547.9 157.1 555.6 153.1M554.7 155.1Q558.8 152 562 146.3" stroke="#6a4030" stroke-width="0.9" stroke-linecap="round" fill="none"/><path d="M526 119.8Q533.2 123.1 538 125.9M567.2 122.1Q568.8 135.9 569.3 147.2M561.8 152.3Q568.5 151.1 573 149.7M582.3 150.9Q592.4 145.4 603.1 142.5M520.3 124.1Q524.7 123 530.5 121.4M551.3 140.9Q552.5 144.5 552.6 151M594.7 137.9Q594.3 145.4 594.6 154M499.1 149.8Q511.4 154.1 522.9 157.7M569.1 158.9Q579.4 160.4 589.9 161.3M585.3 114.4Q586.8 121.3 588.8 127.9M528.4 152.8Q537.4 150.9 543.6 149.3M582.4 166.5Q587.3 164.4 591.8 159.9M542.9 158.3Q546.9 151.8 553.1 144.8M596.2 125.3Q602.8 122.1 606.9 121M570.9 131.2Q576.6 132.8 583.7 133.6M595.5 139.5Q607.8 140.9 618.6 142.4M579.7 161.7Q588.7 161.5 595.7 162.9M603.2 118.4Q605.7 122.6 607.2 127M517.8 136.6Q531.3 133 541.8 128.4M518.6 132Q521.2 136.4 521.2 142.8M553.1 146.2Q565.4 146.3 578.4 145.2M507.6 119Q520.6 115.7 532.4 111.7M520.6 112.5Q525.3 115.9 531.8 121.7M556.4 118.7Q564.5 119.6 572 120.8M515 122.8Q521.4 120.9 527.7 119.4M508.7 148.6Q517.1 144 523.9 141.1M597.7 145.8Q608.6 145.9 618.4 146.4M547.5 141.2Q558.6 142.5 568.8 143.6M536.9 106.3Q538.5 119.6 540.8 130M597.6 107.2Q593.7 115.2 588.7 123.9M506.4 146.4Q514 146 522.3 144.5M519.4 121Q530.5 125.7 539 127.9M583.5 116.6Q592.8 121.5 601.3 128.4M504.3 152.5Q513.2 155.1 521.8 159.4M531 137.3Q542.2 139.7 553.8 144.1M528.6 145.1Q532.2 141.4 534.5 135.9M526.1 137Q538.9 131.7 549.7 127.7M500.6 141.9Q513.3 139.1 525 134.4M575.2 139.7Q581.3 136.4 588.8 134M573.9 124.8Q581.8 115.7 588.1 108.8M554.1 118.8Q566.8 119.8 577.1 118.4M585.4 145.1Q592.3 147.1 597.6 148.4M579.7 136.5Q588.1 131.9 599 129.6M515.6 130.8Q523.9 119.5 530.5 110.9M516 139.6Q525.3 142 534.5 145.3M514 127.1Q519.1 137.8 524.6 150.8" stroke="#4e2c1c" stroke-width="0.9" stroke-linecap="round" fill="none"/><path d="M575.9 122.7Q583.9 128 591.2 132M534.8 149.6Q545.7 152.2 554.8 153.2M571.4 143.8Q578.4 149.5 587.3 157.6M521.8 114.5Q523.3 118.1 527.8 121.6M581.4 134.6Q588.6 135.8 593.4 138.8M551.8 118.2Q562.8 120.5 576.5 124.8M518.9 139.6Q522.9 141.9 527.8 142.4M534.6 124.1Q541.1 123.4 545.4 120.4M533.6 120.2Q544.7 122.4 558.1 122.5M522.9 141.7Q527.2 140.2 531.7 137.4M537.4 128.9Q543.6 130.6 549.4 129.9M582.3 119.6Q591 119.4 600.1 118.2M570.3 130.7Q574 128.8 579 128.1M497.8 145.1Q509.1 145.3 522.2 145.9M554.1 157.9Q555.9 161.7 560 166.3M582.7 124.3Q593.6 127.3 603.2 132.2M530.6 147Q541.7 144.2 552.5 141.7M521 121.2Q527.5 122.2 533.6 125.2M598.6 127.2Q601.3 124.5 604.7 120.5M594.9 119.1Q599.5 118.8 606.1 116.6M555.9 159.3Q563.4 155.1 572.9 152.4M520 144.4Q527.1 148.4 535.3 154.3M565.1 119.2Q570.4 121.8 574.9 122.6M530.5 147.6Q537 148.3 543 148.6M538.1 130.6Q544.2 136.6 547.8 139.9M510.7 132.2Q517.2 133.8 523.5 136.2M515.8 113.4Q520.7 121 526.4 126.4M551.3 138.2Q554.5 138.7 560.6 141.5M533.5 122Q538.2 113.9 543.2 107.8M583.5 128Q590.5 123.3 599.3 121.4M536.2 120.3Q549.3 121.6 560.3 123.3M594.8 126.9Q598.5 122.2 604.2 116.4M567.8 145.2Q577.6 140.3 585.9 138.1M525.6 151.5Q530.4 145 537.6 136.3M545.3 150.1Q556.1 155.8 564.4 163.2M519.4 117.5Q529.3 116.3 540.3 117.3M531.7 122.5Q540.9 126.4 550.1 131.7M516.2 135.9Q523.4 134.6 531.2 133.8M569.9 130.1Q579.9 124.8 591.9 118.5" stroke="#6a4030" stroke-width="1.1" stroke-linecap="round" fill="none"/><path d="M525.2 135.5Q531.4 140.8 539.5 147.9M550.4 130.5Q546.8 135.6 545.5 138.9M574.6 139.7Q585.8 139 598.9 139M567.9 131.2Q571.3 135.3 576.2 137M562.6 113.1Q573.2 116.4 584.7 119M534.5 148.2Q541.4 151.4 545.4 152M538.4 134.7Q544.7 129.6 550 122.5M579.2 123.3Q584.3 121.2 588.4 119.9M569.3 147.7Q576.1 148.9 583.8 150.8M598.2 143.3Q604.4 144.1 611.3 147.1M589 121.1Q591.7 125.8 597 129.5M579.8 120.9Q591.6 125 602.9 130.5M529.9 143Q526.8 151 523.4 156.2M572 139.2Q577.4 151.8 579.9 162M517 129.9Q523.5 124.8 527.9 122.3M513.7 133.7Q525.3 135.8 536.4 140.8M540.2 148.9Q546.1 149.6 550.9 153.1M542.3 159.9Q555 159.1 565.6 155.4M606.8 140.4Q610.5 150.4 614.6 160.3M549.5 110.8Q557.5 119 565.7 127.4M554.3 152.4Q560.2 152.1 563.5 149.1M584 134.7Q594 131.7 604.4 128.4M536.3 149Q543 146.7 547.7 145.5M542.8 139.2Q553.4 135 565 132.9M518.4 114.2Q517.5 124 515.4 136.6M524.8 147.8Q530.6 143.9 535.9 138.8M524.4 114.3Q535.8 116.1 545.3 116.8M540 126.3Q544.9 125.2 550.9 122.9M542.9 134.9Q549.7 136.1 553.7 136M527.8 124.5Q533.1 125 538.6 127.5M560.1 163.9Q563.7 163.4 569.8 161.7M580.1 115Q590.8 120.4 599.3 127.5M593.6 168.2Q600.7 167.8 606.7 165M582.3 133Q589.4 125.8 598 118M511 146.2Q517.6 136.7 524.1 128.3M554.8 142.2Q557.9 143.2 563.9 145.8M518 149.1Q521.6 147.8 527.9 148M564.1 122.3Q570.8 123.7 574.9 126.8" stroke="#44261a" stroke-width="0.9" stroke-linecap="round" fill="none"/><path d="M586.4 135.6Q590.4 143.7 592.6 150.7M556.5 145.4Q560.1 148.8 564.4 154.8M591.1 143.2Q601.5 142.1 612.3 139.8M568.1 144.3Q575.2 153.4 583.2 164.3M531 126.5Q535.7 120.9 540.4 117.1M519.9 141.3Q517 146.6 517 153.7M548.1 124.8Q552.4 119.9 559.6 112.9M576.1 128.7Q580.8 131.9 585.5 136M525.6 137.9Q535.7 135 543.6 131.2M579.3 147.6Q585 149.7 591.1 149.7M560.3 136.3Q559.6 147.5 559.5 155.9M552 131.4Q559.9 133.4 569.9 136.3M584.5 108.8Q591.6 114.7 599.3 120.8M545.7 130.6Q554.7 132.1 564.9 135.1M550.1 162.6Q563.8 163.1 575.7 161.2M560.7 124Q560.9 132 562.8 138M550.4 109.4Q548.1 115.2 544.4 123.7M505.7 126.2Q518.8 125.6 529 127.8M550.2 114.2Q555.9 121.2 558.9 126.5M510.3 159.3Q517.5 155.3 525.9 152.5M574.6 118.8Q582.4 117.1 589.7 113.2M589.6 160.4Q603.5 159.4 614.8 160.1M554.2 149Q558.1 157.3 560.7 166.7M546.9 108.2Q544.9 114.2 545.5 120.8M601.7 123.7Q605.1 120.3 611.5 118M520.7 133.7Q533.1 134 543.5 136.2M565.6 127.9Q570.8 134.7 576.2 140.4M551.7 151.5Q557.5 154.6 561.5 155.7M586.6 124.9Q599.3 124.8 611.1 125.2M591.3 122.4Q600.9 120.8 611.1 116.5M586.1 154Q595.5 154.5 602.7 156.2M556.7 149.2Q562.2 148.9 569.3 147M573.6 127.8Q578 128.6 583 128.1M567.5 120.6Q576.8 124.3 587.8 126.7" stroke="#44261a" stroke-width="1.1" stroke-linecap="round" fill="none"/><path d="M599.4 166.9Q609 158.2 619.8 150.8M559.1 119.4Q570.1 118.2 582.1 117M600.2 141.5Q607.2 143.7 614.1 143.4M553.8 114.6Q560.3 122.2 565.2 132.5M531.8 157.8Q540.2 158.1 547.9 160.2M554.7 131.7Q562.8 127.5 570 122.1M585.6 159.7Q592.1 153.6 597.8 148.3M512.1 137Q518.6 133.8 523.8 130.8M590.1 119Q596.3 117.9 599.6 115.3M536.4 147.7Q542.9 151 551 152.4M520.2 112.4Q531.2 113.5 542.7 115.1M600 134.7Q604.9 135.1 608.6 137.6M592.2 161Q604.3 161.5 614.5 159.7M567.4 150Q574.3 153 582.7 153.9M570.7 141.6Q582.3 142.9 594.5 142.7M540.2 141.8Q548.9 147.8 555.8 156.6M554.7 159.3Q562.8 159.3 572 157.5M526 113.2Q535.5 118 545.2 124.5M563 145.7Q569.2 152.6 576.3 158.3M556.2 161.8Q568.1 162.2 579.2 162.5M537.3 123.3Q549.8 122.4 560.9 123.5M570.4 117.6Q578.5 119.2 584.3 118.1M562.8 142.5Q569.7 136.3 575.7 130.5M546.7 150Q553.7 142 558.7 136.2M568.5 134.3Q579.1 131.9 592.1 131.1M585.8 163.9Q598.1 160.6 610 158.6M518.9 122.2Q524 127 532 131.5M590.5 114.8Q595.6 117.3 602.9 117.8M538.4 149.9Q539.7 153.3 539.9 159M538.1 140.8Q550.9 141.7 563.7 140.6M537.4 132.3Q534.4 144.4 533.2 157.8M528.9 154.8Q534.5 151.7 541 148M586.3 139.6Q584.8 146 585.1 153.8M586.9 115.9Q595 116.2 605.8 117.4M558.7 120.4Q564.7 128.4 569 136.5M566.5 153Q574.8 149.3 583.1 145.3M519.9 150.3Q524.5 148.5 531.1 149.1M523.9 156Q533.2 149.3 539.8 141.3M574 143.1Q573.7 149.4 570.9 158.5M517.8 144.2Q522.5 145.3 526.9 143.9M519.9 134Q518.2 144 514.3 153.8M515.2 116.6Q522.3 119.5 527.6 123.5M555.6 156.2Q560.4 152.8 565.4 149M587.5 149.5Q593.4 147.5 601.4 143.6M525.8 130.1Q520.9 141.8 514.2 150.6M518.3 144.4Q530.3 146.4 543.1 146.9M565.6 127.9Q574.2 121.8 581.5 117.3M591.8 153.6Q586.3 164.9 581.6 175.7M513.2 140.6Q522.1 142.7 530.1 144.8M555.8 149Q567.4 148.4 576.4 147.1M521.3 120.8Q519.5 131.8 520.5 141.4M582.2 149.6Q593.8 152.2 602.6 153.4M588 129.6Q599.7 129.8 608.4 127.3" stroke="#5a3422" stroke-width="0.9" stroke-linecap="round" fill="none"/><path d="M545.5 145.8Q554.1 143.1 562.1 143.3M541.6 128Q550.4 124.3 560.9 120.1M575.8 134.5Q580.7 134.5 588.2 136.9M508.7 141.9Q512.4 144.8 517.4 146M523.4 145.5Q516.8 154.6 512.6 165.2M519.9 139.2Q531.4 140 545.2 138.4M541.7 127.7Q549.6 122.9 555.1 119.9M602.6 140.8Q603.3 148 603.3 154.1M561.7 146.1Q569.4 151.5 576.6 155.7M542.6 129.2Q546.1 124.8 551.4 118.5M533.3 128.8Q542 130.2 549.9 129.3M540 132.4Q549.3 131.3 556 130.5M558.5 119.8Q564.8 127.5 572.8 135.5M556.3 146.5Q563.8 139.3 574.2 131.6M584.2 130.5Q588.6 130.6 593.6 131.7M543.4 145.4Q543.6 154.1 542 160.2M568 124.4Q567 129 565.3 134.6M553 143Q562.5 144.8 571.1 146.8M566 143.4Q573.3 145.7 582.1 146.2M579.3 161.7Q584 165.7 591.5 167.7M512.1 147.3Q518.1 146.7 521.5 144.6M583.5 124.6Q594.3 128.1 604.1 132.2M564.9 152.7Q565.6 156.5 568 162.8M607.1 155.8Q612.8 159 617.1 162.6M517.9 132.3Q525.1 131.6 530.7 132.8M518.7 119.9Q518.5 124.1 516.8 130.1M540.2 110.8Q550 114.3 558.6 117.3M513 148.4Q517.8 147.2 523.2 146.7M548.4 129.5Q545 138.9 544.4 147.9M554.4 160.3Q558.8 159.8 564.4 157.9M588.9 116.1Q594.8 114.3 600.2 115.2M594 134.7Q602.3 134.3 610.7 133.3M569.4 127.5Q574.4 125.7 576.8 122.1M526.1 123.3Q535.5 119.9 544.4 114.8M566.7 128.4Q575 126.2 585.6 124M561.3 129.5Q567 130.9 571.1 129.5M540.5 142.8Q547.7 140.3 556.3 140.3M511.3 122.3Q521.5 119.2 530.3 117.4M518 124.3Q527.2 123.8 537.5 120.7" stroke="#5a3422" stroke-width="0.7" stroke-linecap="round" fill="none"/><path d="M579.5 124.1Q586.6 123.3 594.1 124.7M525.1 138.5Q535.2 136.7 547 137.6M534.5 114.3Q537.6 119.7 542.5 127.2M588.6 158.4Q594 158.4 600.5 156.2M590.7 163.1Q599.1 163.4 609 162M590.4 125.8Q600.9 124 609.4 122.3M550.3 162Q554.7 160.5 560.7 159.7M571.5 128.1Q579.9 123.3 591.3 120.2M536.4 125.8Q545.7 132.6 554.6 140.6M568.4 155.5Q581.2 153.6 591.8 154.2M592.7 134Q604.7 136.1 615.4 140.6M550.8 155.6Q557 150 565.4 142M508.6 126.7Q516.5 125.8 526 126.6M521.4 119.6Q525.7 126.6 530.6 133.5M602.3 151.7Q610.5 145.2 616.8 137.8M541.6 123.7Q547.6 120.6 556.3 120.4M551.3 126.8Q549.2 136.3 548.2 145.8M572 156.1Q576.2 162 580.7 165.9M566.1 133.5Q571.2 131.8 575.1 131.8M552.3 121.6Q559.2 118.5 565.7 114.1M521.7 138.9Q523.4 152.1 523 162.7M567.2 148.8Q579.8 150.5 592.9 150.3M509.9 124.6Q521.9 121 534.6 119.3M522.6 143.7Q532.7 147.9 544.2 151.2M568.7 162.1Q581.9 161.8 592.6 161.1M550.3 144.8Q557.6 145.4 562.5 147.5M501.5 149.5Q507.5 150.2 515.9 151.3M530.2 123.7Q539.7 123.9 551.6 126.5M517.6 117.3Q513.8 127 512.9 136.8M585.6 116.9Q585.6 122.5 585.5 129.3M571.9 136.2Q575.7 146.4 577.8 155.6M593 131.7Q596.2 143.1 599 156.1M599 129.6Q605.4 127.7 614.5 124.4M508.8 135.8Q519 129.3 527.3 121.3" stroke="#4e2c1c" stroke-width="1.1" stroke-linecap="round" fill="none"/><path d="M592.3 113.9Q593.2 119.5 596.9 127.3M574.4 126.3Q581.4 128.2 589.2 132.2M585.3 116.9Q585 120.9 584.1 127.6M539.5 116.8Q537.1 122.6 537 126.3M549.8 158.9Q561.6 156.6 571.2 156.3M535.4 118.4Q544.4 117.8 556 116.9M597.3 160.3Q603 161.6 609.3 160.1M551 130Q557.7 129.3 561.6 130.3M583.3 161.8Q594.5 155.9 607.1 151.7M584.7 117.1Q595.5 115.1 604.1 115.4M527.1 148.9Q536.3 141 546.3 133.5M585.2 124.4Q583.6 129.9 581.1 133M586.4 121.5Q596.6 116.7 604.4 112.3M555.5 140.9Q562.4 141.2 569.1 144.3M584.4 162Q593.5 163.6 602.9 165M556 123.2Q564.9 120.4 572.4 116.4M507.1 146.9Q511.4 141.3 518.1 133.6M553.5 111.2Q551.7 116.4 550.3 120.2M591.9 145.7Q597.9 155.8 602.4 167.1M529.8 125.6Q530 130.5 527.5 134.8M573.3 135.5Q578.1 132.7 581.2 127.1M511.9 148.5Q523.6 150.1 536.1 149.2M512.7 121Q525.2 116.3 537.1 112.5M531.2 138.4Q541.9 131.2 550.9 122.7M605.3 134.1Q609.5 138.4 611 142.3M578.1 118.9Q581.9 123.1 585 124.8M583 146.3Q592 145.3 598.7 144.5M523 134.9Q525.7 146.8 530.7 156.6M550.9 125.3Q557 127.6 563.8 130.5M569.1 137.6Q573.7 137.3 578.4 139.8M557.6 160.6Q562.5 162.2 568.8 162.9M543.6 140.5Q551.1 144.9 559.6 146.7M582.5 122.5Q589.7 120.5 594.8 120.1M590.5 158.6Q601.4 152.7 610.8 145.8M588.7 171.6Q594.5 162.9 602.9 156.6M530.4 113.3Q542.5 116 554 117.7M502.7 154.1Q509.3 152.2 516.5 149.8M561.6 115Q564.7 118.8 569.4 125.1M520.6 111.5Q518.5 116.4 519.4 122.9" stroke="#724834" stroke-width="0.9" stroke-linecap="round" fill="none"/><path d="M542.3 132.4Q550.4 131.7 555.8 132.9M532.4 133.5Q540.9 142.8 549.4 151.5M556.6 136.6Q562.3 140.4 569.5 142.4M591.5 143.6Q598.6 144.6 608.6 143.3M555.4 138Q558.7 149.3 559.6 159.1M530.7 142.9Q535.8 142.4 543.8 141.4M518.1 118.7Q526.2 118.9 535.3 116.9M543.9 167.1Q547.7 158.8 553 153.5M528.1 134Q531.3 131.1 535 126.5M531 126Q539.6 127.3 547 125.6M515.5 133.1Q520 131.6 526.5 132.3M549.2 124.8Q556.1 123.4 563.6 123.9M586.2 114.9Q583.3 122.3 578.4 128.2M542.9 129.1Q545.8 135.6 551.4 139.6M515.2 120.2Q520.3 122.7 524.8 122.6M556.9 142.2Q569.3 145.2 581 146.5M588.1 168.1Q598.6 158.7 607.8 152.3M553.7 156.9Q563.9 159.2 573.6 163.1M513.1 117.1Q519.8 115.9 527.1 117.5M599.8 161.1Q610.8 161 621.7 161.7M562.3 112.3Q569.2 123.1 575.4 132.6M537.9 117.5Q544.2 117.2 549.5 118.5M579.2 130.8Q584.5 128.1 588.4 127.1M550 144.7Q554.9 151.6 556.9 156M568 119.9Q571 128.4 572.7 134.8M509 141.1Q517.1 140 523.9 136.1M557.2 118.8Q554.5 124.1 552.4 128.3M513.3 118.5Q525.5 118.7 535.6 120.6M574.4 126.1Q569.8 133.8 564.3 143.9M521.4 150.9Q524.6 147 530.6 140.6M587.4 132.7Q597.2 136.1 606.6 139.1M522.2 138Q521 146 517.8 154.2M556.7 105.4Q549.3 115.5 544.8 126.8M534.7 115.6Q545.1 112.9 554 113M514.5 140Q525.5 136.2 538.9 131.5" stroke="#4e2c1c" stroke-width="0.7" stroke-linecap="round" fill="none"/><path d="M554.2 125.1Q558.4 122.1 564.8 121.6M570.9 133.5Q578.7 133.1 586.9 133.2M542.5 139.6Q553.3 139.5 566.3 142.1M558.1 137.7Q563.2 148.1 568.6 158.7M559 138.8Q565.2 135.7 574.2 130.3M552.5 128.2Q562.3 119.5 572.1 112.3M544.7 121.2Q544.3 129.1 545 138.6M526.5 113.3Q530.5 120.9 535.5 126.4M530.7 151.6Q537.1 151.1 545.6 147.9M539.1 110.8Q538.1 115.3 539 121.9M602.1 152.8Q605.1 157.3 608.9 162.8M545 127Q555.7 126 565.7 127.8M543.6 125.3Q551.6 123.6 558.9 123.6M588.5 122.6Q595.3 122.3 601.3 124.7M599.7 116.4Q603 118.5 608.1 119.9M580.5 138.8Q578.5 151.4 576.3 162.5M572.4 122.4Q576.6 125 578.1 130M534.2 167.7Q542.7 160.1 549.6 152.8M593.7 162.6Q600.7 165.5 610.1 169.6M580.3 120.5Q591.1 124.8 603.4 128.7M555.9 153Q559.3 146.2 564.7 140.9M589.5 147Q598.9 147.5 609.5 145.5M508.7 148.4Q513.8 138.6 520.5 131.1M517.6 137.9Q515.5 150.8 513 161.5M548 125.7Q553 132.8 560.5 138.8M513.9 137.2Q524.1 134.3 532.4 133.9M511.5 124.4Q519.1 126.9 524.6 128.7M521.9 125.7Q527.8 132.7 536.6 139M576.5 112Q582.2 120 585.8 129.8M519.1 143Q532.2 142.2 544.5 139.3M595.9 150.3Q599.2 145 604.3 141.9M550.1 149.6Q560.1 146 571 143.8M556.6 139.7Q564.3 137.5 573.8 134M532.4 128.2Q541.2 127.2 551.3 128.7M540.5 134.5Q541 142.3 539.9 153" stroke="#5a3422" stroke-width="1.1" stroke-linecap="round" fill="none"/><path d="M597.6 117.9h0.1M593.2 143.3h0.1M592.9 146.2h0.1M531.7 140.6h0.1M519.4 150.8h0.1M520.7 126.7h0.1M577.6 127.1h0.1M578.7 131h0.1M559.4 117.2h0.1M590.3 152.4h0.1M525.6 133.4h0.1M584.2 132.8h0.1M577.8 120.2h0.1M577.7 140.6h0.1M541.4 147.7h0.1M552.1 134.5h0.1M540.2 132.3h0.1M564.5 134.4h0.1M566.1 139.6h0.1M519.4 152.9h0.1M566.9 127.9h0.1M552.7 142h0.1M568.9 146.8h0.1M561.4 132.1h0.1M534.2 139.6h0.1M531.2 155.6h0.1M545.3 131h0.1M592.8 136h0.1M533.4 144.7h0.1M590.8 162.2h0.1M543.5 134.9h0.1M570.4 146.6h0.1M592.9 143.8h0.1M605 141.5h0.1M570.3 134.9h0.1M578.6 157.7h0.1M524.9 138.6h0.1M585.2 121.5h0.1M536.6 137.3h0.1M522.2 127.9h0.1M568 143.6h0.1M599.6 151h0.1M523.9 125h0.1M556.4 117.7h0.1M609.4 160.1h0.1M528.2 147h0.1M547.8 154.7h0.1M601.2 136.7h0.1M515.7 140.3h0.1M587.5 146.9h0.1M586 162h0.1M548 132.1h0.1M557.2 134.3h0.1M531.8 130.8h0.1M552.7 141h0.1M577.2 117.3h0.1M530.4 133.2h0.1M536.8 155.1h0.1M515.4 153.6h0.1M568.3 129.8h0.1M514.7 154.2h0.1M527.3 129.5h0.1M601.1 136.4h0.1M534.4 146.5h0.1M528.9 124.6h0.1M604 120.2h0.1M601.1 158.3h0.1M571.5 141.5h0.1M588.8 121.5h0.1M578.6 160.2h0.1M546.8 121.4h0.1M582.6 158.7h0.1M552.3 142.4h0.1M560 136.5h0.1M604.6 129h0.1M540.5 123.3h0.1M527.9 119.6h0.1M606 163.3h0.1M527.6 126.6h0.1M601.6 119.3h0.1M551.1 143.6h0.1M604.3 146.7h0.1M541.3 124.9h0.1M546 137h0.1M538.8 144.3h0.1M596.8 147.3h0.1M565 159.3h0.1M534.6 119.7h0.1M586 150.8h0.1M570.6 133.5h0.1M569.2 156h0.1M543.4 136.7h0.1M552.9 125.2h0.1M554.4 146.4h0.1M513.3 146.9h0.1M539.6 131.2h0.1M525.7 118.3h0.1M554.6 119.1h0.1M598.8 123.3h0.1M523.4 140.2h0.1M516.6 150.5h0.1M560.1 151.8h0.1M521.8 144.5h0.1M559.5 141.5h0.1M589.6 132.5h0.1M584.8 137.8h0.1M519.9 123.5h0.1M591.4 132h0.1M520.8 120.8h0.1M537.6 138.5h0.1M562.2 131.7h0.1M543.2 126.6h0.1M547.4 121.2h0.1M599.5 144.7h0.1M571.8 116.9h0.1M541.5 142.3h0.1M602 143.8h0.1M601.7 146.6h0.1M546.8 144.5h0.1M520.1 148.5h0.1M533.1 152.4h0.1M558.9 125.7h0.1M581.4 132h0.1M537.1 118.2h0.1M589.3 121.6h0.1M549.4 157.9h0.1M587.5 155.2h0.1M516.3 147.8h0.1M589.9 154.9h0.1M562.5 156.8h0.1M599.3 158.7h0.1M546.8 153.4h0.1M584.7 152.4h0.1M521.3 147.3h0.1M597.2 134.5h0.1M566.2 117.8h0.1M565.9 153.6h0.1M555.7 140.3h0.1M589.1 136.8h0.1M549.4 117.1h0.1M575.2 131.4h0.1M523 122.3h0.1M585.7 141.7h0.1M547.9 139.1h0.1M569.2 160.9h0.1M602.6 160.8h0.1M607 159h0.1M557.3 135.3h0.1M573.3 153.3h0.1M552.6 138.4h0.1M592.2 152.8h0.1M535.2 138.9h0.1M558 116.9h0.1M587.7 133.6h0.1M551.5 146.6h0.1M598.4 142.2h0.1M548 132.1h0.1M593.2 158.9h0.1M593.9 118.5h0.1M526.2 116.8h0.1M528.5 121.8h0.1M566.5 139.8h0.1M603.7 150.2h0.1M580.7 127.2h0.1M539.5 154.7h0.1M529.5 154.9h0.1M580.4 132.4h0.1M566 118.8h0.1M587 147.3h0.1M598.3 152h0.1M572.4 125.9h0.1M541.5 123.3h0.1M582 141.2h0.1M520.2 118.8h0.1M516.6 139.7h0.1M540.4 125.8h0.1M541.9 149.1h0.1M568.7 140.9h0.1M522.3 119.2h0.1M569.8 121.4h0.1M517.6 153.4h0.1M587.4 133.1h0.1M573 131.3h0.1M595.9 155.3h0.1M597.6 135.8h0.1M595.1 156.7h0.1" stroke="#e8e2e0" stroke-width="1.4" stroke-linecap="round" opacity="0.75"/></g></g>
<line x1="220.3" y1="141" x2="216" y2="46.7" stroke="#7a7a7a" stroke-width="0.9"/>
<line x1="220.3" y1="141" x2="282.6" y2="70.1" stroke="#7a7a7a" stroke-width="0.9"/>
<circle cx="254" cy="45" r="38" fill="#ffffff" fill-opacity="0.85" stroke="#7d7d7d" stroke-width="1.4"/>
<path d="M221 29.6 L234.8 40" fill="none" stroke="#f2d88a" stroke-width="8" stroke-linecap="round"/>
<path d="M234.8 40 L249 49 L263.8 54.5 L278.5 56.6 L284.4 57" fill="none" stroke="url(#bead1)" stroke-width="7.5" stroke-linecap="round" stroke-linejoin="round"/>
<circle cx="234.8" cy="40" r="7.8" fill="url(#bead1)"/>
<circle cx="249" cy="49" r="7.8" fill="url(#bead1)"/>
<circle cx="263.8" cy="54.5" r="7.8" fill="url(#bead1)"/>
<circle cx="278.5" cy="56.6" r="7.8" fill="url(#bead1)"/>
<line x1="396.7" y1="139" x2="391.7" y2="46.8" stroke="#7a7a7a" stroke-width="0.9"/>
<line x1="396.7" y1="139" x2="457.8" y2="69.7" stroke="#7a7a7a" stroke-width="0.9"/>
<circle cx="429.4" cy="44.7" r="37.8" fill="#ffffff" fill-opacity="0.85" stroke="#7d7d7d" stroke-width="1.4"/>
<path d="M396.5 28.5 L410 39" fill="none" stroke="#d8a060" stroke-width="8" stroke-linecap="round"/>
<path d="M410 39 L424.8 49 L438.7 55.3 L454 57.4 L460.1 57.8" fill="none" stroke="url(#bead2)" stroke-width="7.5" stroke-linecap="round" stroke-linejoin="round"/>
<circle cx="410" cy="39" r="7.8" fill="url(#bead2)"/>
<circle cx="424.8" cy="49" r="7.8" fill="url(#bead2)"/>
<circle cx="438.7" cy="55.3" r="7.8" fill="url(#bead2)"/>
<circle cx="454" cy="57.4" r="7.8" fill="url(#bead2)"/>
<line x1="565.4" y1="141.7" x2="562.2" y2="45.9" stroke="#7a7a7a" stroke-width="0.9"/>
<line x1="565.4" y1="141.7" x2="628.1" y2="69.2" stroke="#7a7a7a" stroke-width="0.9"/>
<circle cx="599.7" cy="44.7" r="37.5" fill="#ffffff" fill-opacity="0.85" stroke="#7d7d7d" stroke-width="1.4"/>
<path d="M566 31 L579.6 41" fill="none" stroke="#8a7060" stroke-width="8" stroke-linecap="round"/>
<path d="M579.6 41 L592 49.6 L607 56 L622.9 58 L629.3 58.4" fill="none" stroke="url(#bead3)" stroke-width="7.5" stroke-linecap="round" stroke-linejoin="round"/>
<circle cx="579.6" cy="41" r="7.8" fill="url(#bead3)"/>
<circle cx="592" cy="49.6" r="7.8" fill="url(#bead3)"/>
<circle cx="607" cy="56" r="7.8" fill="url(#bead3)"/>
<circle cx="622.9" cy="58" r="7.8" fill="url(#bead3)"/>
<g font-size="9.3" fill="#1e1e1e" stroke="#1e1e1e" stroke-width="0.12">
<text x="191.6" y="189">SiO<tspan font-size="6.6" dy="2.2">2</tspan><tspan dy="-2.2" font-size="9.5">/Se-PAN</tspan></text>
<text x="364.6" y="189">SiO<tspan font-size="6.6" dy="2.2">2</tspan><tspan dy="-2.2" font-size="9.5">/SeCF</tspan></text>
<text x="547" y="189">SeHCF-<tspan font-style="italic">x</tspan></text>
<text x="274.5" y="141">Carbonization</text>
<text x="458.2" y="141">Etching</text>
</g>
<polygon points="285.4,146.5 312.5,152.3 312.5,148.4 322.4,154.3 312.5,160.7 312.5,156.3 285.4,162" fill="url(#redarr)"/>
<polygon points="456,146.5 483.2,152.3 483.2,148.4 493.3,154.3 483.2,160.7 483.2,156.3 456,162" fill="url(#redarr)"/>
<polygon points="29.5,230 131.5,228.5 119,244.5 48,245.3" fill="#909090" stroke="#8c8c8c" stroke-width="1.6" stroke-linejoin="round"/><path d="M32.5 231L34.9 231M38.4 230.9L41 230.9M44.8 230.8L47.2 230.8M50.7 230.8L53 230.7M57 230.7L59.6 230.6M63.4 230.6L65.3 230.6M69.9 230.5L72.6 230.4M75.7 230.4L77.9 230.4M82 230.3L84.8 230.3M88.3 230.2L90.9 230.2M101 230L103.4 230M107.2 229.9L109.3 229.9M119.6 229.8L122.2 229.7M34.7 232.9L37.1 232.9M40.4 232.9L42.6 232.8M46.4 232.8L49 232.7M52.5 232.7L54.7 232.7M58.5 232.6L61.2 232.6M64.3 232.5L66.2 232.5M70.9 232.4L73.1 232.4M76.6 232.3L79.1 232.3M82.6 232.3L84.9 232.2M88.4 232.2L90.3 232.2M94.8 232.1L96.9 232.1M100.5 232L102.4 232M112.7 231.8L114.9 231.8M118.7 231.7L121.3 231.7M36.9 234.9L39.4 234.8M42.5 234.8L44.5 234.8M48.2 234.7L49.9 234.7M54.3 234.6L56.4 234.6M59.6 234.5L61.6 234.5M65.6 234.5L67.5 234.4M77.4 234.3L79.9 234.3M82.9 234.2L84.8 234.2M88.7 234.1L91 234.1M100.4 234L102.8 233.9M106 233.9L108.1 233.9M111.9 233.8L113.9 233.8M117.3 233.7L119.7 233.7M39.3 236.8L41 236.7M44.7 236.7L47 236.7M50 236.6L52 236.6M55.9 236.5L57.6 236.5M77.5 236.3L79.9 236.2M83 236.2L85.1 236.2M88.7 236.1L90.6 236.1M94.1 236L96 236M99.8 236L101.5 235.9M105.5 235.9L107.8 235.8M110.5 235.8L112.6 235.8M41.4 238.7L43.3 238.7M51.8 238.5L54.1 238.5M57.2 238.5L59.2 238.5M62.2 238.4L64.3 238.4M67.8 238.3L70.2 238.3M73.1 238.3L75.1 238.2M78 238.2L80.2 238.2M83.4 238.1L85.3 238.1M88.6 238.1L90.2 238M99.5 237.9L101.4 237.9M104.4 237.9L106.5 237.8M109.9 237.8L111.8 237.8M115 237.7L116.6 237.7M43.7 240.6L45.6 240.6M48.6 240.5L50.4 240.5M53.9 240.5L55.5 240.4M58.7 240.4L60.7 240.4M63.9 240.3L65.8 240.3M68.8 240.3L71 240.3M73.9 240.2L75.6 240.2M78.8 240.2L80.7 240.1M84.1 240.1L86.3 240.1M93.8 240L95.6 239.9M103.8 239.8L105.5 239.8M109.1 239.8L111 239.7M45.9 242.5L47.8 242.5M50.8 242.5L52.5 242.4M55.6 242.4L57.1 242.4M60.1 242.3L61.9 242.3M64.9 242.3L67.1 242.3M69.8 242.2L71.6 242.2M74.4 242.2L76.1 242.1M79.2 242.1L81.3 242.1M89.2 242L91.1 242M98.3 241.9L100.2 241.9M103.2 241.8L104.6 241.8M107.9 241.8L109.6 241.7M113.1 241.7L114.8 241.7M48.2 244.4L50 244.4M57.1 244.3L58.9 244.3M61.9 244.3L63.8 244.2M66.5 244.2L67.8 244.2M70.6 244.2L72.6 244.1M75.5 244.1L77 244.1M84.5 244L86.3 244M89.2 244L90.7 243.9M93.5 243.9L95.1 243.9M98.3 243.8L99.7 243.8M107.3 243.7L108.8 243.7M111.5 243.7L112.9 243.7" stroke="#f4f4f4" stroke-width="1.2" fill="none" opacity="0.85"/><path d="M35.5 230.2L51.6 244.9M41.7 230.1L56 244.9M49.8 230L61.7 244.8M55.3 229.9L65.6 244.8M61.4 229.8L69.9 244.7M68.3 229.7L74.8 244.7M74.7 229.6L79.3 244.6M80.6 229.6L83.5 244.6M86 229.5L87.3 244.5M93.9 229.4L92.9 244.5M99 229.3L96.5 244.4M105 229.2L100.7 244.4M111.9 229.1L105.6 244.3M118.6 229L110.3 244.3M125.2 228.9L115 244.2" stroke="#7a7a7a" stroke-width="0.8" fill="none"/><circle cx="37.7" cy="229.9" r="1.6" fill="#5555dd"/><circle cx="111.1" cy="228.8" r="1.6" fill="#5555dd"/><circle cx="97.9" cy="244" r="1.1" fill="#5555dd"/><circle cx="44.8" cy="239.1" r="0.9" fill="#e080b8"/>
<ellipse cx="43.6" cy="250.6" rx="2.5" ry="3.3" fill="#d9a82c"/><ellipse cx="52.2" cy="250.6" rx="2.5" ry="3.3" fill="#d9a82c"/><ellipse cx="60.8" cy="250.6" rx="2.5" ry="3.3" fill="#d9a82c"/><ellipse cx="69.4" cy="250.6" rx="2.5" ry="3.3" fill="#d9a82c"/><ellipse cx="78" cy="250.6" rx="2.5" ry="3.3" fill="#d9a82c"/><ellipse cx="86.6" cy="250.6" rx="2.5" ry="3.3" fill="#d9a82c"/><ellipse cx="95.2" cy="250.6" rx="2.5" ry="3.3" fill="#d9a82c"/><ellipse cx="103.8" cy="250.6" rx="2.5" ry="3.3" fill="#d9a82c"/><ellipse cx="112.4" cy="250.6" rx="2.5" ry="3.3" fill="#d9a82c"/>
<polygon points="31,256.8 35.2,256 39.3,256.1 43.5,256.5 47.7,256.7 51.8,256.8 56,256.5 60.2,256.5 64.3,256.6 68.5,256.7 72.7,256.2 76.8,256.7 81,256.8 85.2,256.8 89.3,256.6 93.5,256.2 97.7,256.2 101.8,256.8 106,256.1 110.2,256.5 114.3,256 118.5,256 122.7,256.4 126.8,256.3 131,256.7 131,259 126.8,259.3 122.7,259.2 118.5,259.5 114.3,259.2 110.2,258.9 106,259.5 101.8,259.3 97.7,259.4 93.5,259.6 89.3,259.3 85.2,259.3 81,259.4 76.8,259.3 72.7,259 68.5,259.3 64.3,258.8 60.2,259.5 56,259.5 51.8,259.1 47.7,259 43.5,259.1 39.3,258.9 35.2,259.6 31,258.9" fill="#8a8a8a" stroke="#8a8a8a" stroke-width="0.8"/><circle cx="38" cy="258.3" r="1.5" fill="#5555dd"/><circle cx="111" cy="258.1" r="1.5" fill="#5555dd"/>
<ellipse cx="43.6" cy="264.2" rx="2.5" ry="3.3" fill="#d9a82c"/><ellipse cx="52.2" cy="264.2" rx="2.5" ry="3.3" fill="#d9a82c"/><ellipse cx="60.8" cy="264.2" rx="2.5" ry="3.3" fill="#d9a82c"/><ellipse cx="69.4" cy="264.2" rx="2.5" ry="3.3" fill="#d9a82c"/><ellipse cx="78" cy="264.2" rx="2.5" ry="3.3" fill="#d9a82c"/><ellipse cx="86.6" cy="264.2" rx="2.5" ry="3.3" fill="#d9a82c"/><ellipse cx="95.2" cy="264.2" rx="2.5" ry="3.3" fill="#d9a82c"/><ellipse cx="103.8" cy="264.2" rx="2.5" ry="3.3" fill="#d9a82c"/><ellipse cx="112.4" cy="264.2" rx="2.5" ry="3.3" fill="#d9a82c"/>
<polygon points="44,269.5 118,269 134.5,285 28,285.5" fill="#909090" stroke="#8c8c8c" stroke-width="1.6" stroke-linejoin="round"/><path d="M44.3 270.6L46.4 270.6M53.6 270.5L55.4 270.5M63.1 270.5L64.7 270.5M67.7 270.4L69.2 270.4M72.6 270.4L74.4 270.4M77.4 270.4L78.8 270.4M82.3 270.3L84.2 270.3M87.2 270.3L88.9 270.3M91.7 270.3L93.5 270.3M96.4 270.2L97.9 270.2M101.4 270.2L103.2 270.2M106.1 270.2L107.7 270.2M110.7 270.2L112.7 270.1M47.2 272.6L49.3 272.5M52.1 272.5L53.8 272.5M57.3 272.5L59.3 272.5M62 272.5L64.1 272.5M67.4 272.4L69.1 272.4M72.5 272.4L74.4 272.4M77.1 272.4L79.4 272.4M87.1 272.3L89.2 272.3M92.6 272.3L94.7 272.3M97.4 272.2L99.6 272.2M102.3 272.2L104.5 272.2M107.2 272.2L108.8 272.2M112.3 272.2L114.5 272.1M40 274.6L42.1 274.6M45.4 274.6L47.3 274.6M50.7 274.5L52.6 274.5M56.2 274.5L58.5 274.5M61.3 274.5L63.4 274.5M66.7 274.4L68.4 274.4M71.8 274.4L74 274.4M77.2 274.4L79.4 274.4M87.6 274.3L89.6 274.3M92.8 274.3L95.1 274.3M103.5 274.2L105.3 274.2M108.7 274.2L110.7 274.2M113.8 274.2L115.7 274.1M38.4 276.6L40.2 276.6M43.8 276.6L45.5 276.6M49.3 276.5L51.6 276.5M54.9 276.5L57 276.5M60.6 276.5L62.3 276.5M66.1 276.4L68.2 276.4M71.5 276.4L73.7 276.4M76.9 276.4L78.8 276.4M82.7 276.3L84.7 276.3M88 276.3L90.3 276.3M93.6 276.3L95.4 276.3M98.8 276.2L100.7 276.2M104.8 276.2L106.9 276.2M115.4 276.2L117.6 276.1M36.2 278.6L38.8 278.6M41.9 278.6L44.3 278.5M47.8 278.5L49.7 278.5M53.4 278.5L55.8 278.5M59.6 278.5L61.6 278.5M71.1 278.4L73 278.4M77 278.4L78.9 278.4M88.2 278.3L90.5 278.3M94.3 278.3L96.5 278.3M100.1 278.2L102.4 278.2M105.6 278.2L107.5 278.2M117.1 278.2L119.2 278.1M34.4 280.6L36.5 280.6M40.6 280.6L43.2 280.5M46.7 280.5L49.4 280.5M52.3 280.5L54.4 280.5M58.7 280.5L60.6 280.5M64.7 280.4L67.2 280.4M70.4 280.4L72.6 280.4M82.6 280.3L85.2 280.3M88.7 280.3L90.7 280.3M94.9 280.3L97.1 280.3M101 280.2L103.3 280.2M106.8 280.2L109.2 280.2M112.9 280.2L115.6 280.2M119 280.2L121.2 280.1M32.4 282.6L34.7 282.6M51.6 282.5L54.2 282.5M57.7 282.5L59.9 282.5M64 282.4L65.9 282.4M70.2 282.4L72.6 282.4M88.8 282.3L91.3 282.3M95.4 282.3L98 282.3M101.7 282.2L103.7 282.2M108.2 282.2L110.4 282.2M114.2 282.2L116.6 282.2M120.4 282.2L123.2 282.1M30.6 284.6L33.4 284.6M37.2 284.6L40.1 284.5M43.4 284.5L46.2 284.5M49.9 284.5L52.7 284.5M69.9 284.4L72.8 284.4M76.3 284.4L78.6 284.4M83.2 284.3L85.8 284.3M89.2 284.3L91.9 284.3M95.7 284.3L98.4 284.3M102.3 284.2L104.3 284.2M108.8 284.2L111.7 284.2M122.3 284.2L124.8 284.1" stroke="#f4f4f4" stroke-width="1.2" fill="none" opacity="0.85"/><path d="M47.8 269.8L34.2 285.2M53.5 269.8L42.2 285.1M57.5 269.7L47.9 285.1M62.5 269.7L55 285.1M67 269.7L61.4 285M72.3 269.6L68.9 285M76.2 269.6L74.4 285M81.5 269.6L82 284.9M85 269.5L87 284.9M90.1 269.5L94.1 284.9M95.3 269.5L101.5 284.8M99.8 269.4L107.9 284.8M104.8 269.4L115 284.8M108.6 269.4L120.3 284.7M114.1 269.3L128.2 284.7" stroke="#7a7a7a" stroke-width="0.8" fill="none"/><circle cx="34.4" cy="285.5" r="1.6" fill="#5555dd"/><circle cx="111.1" cy="285.1" r="1.6" fill="#5555dd"/><circle cx="58.8" cy="269.4" r="1.0" fill="#5555dd"/><circle cx="81" cy="270.1" r="0.9" fill="#e080b8"/>
<g stroke="#222" stroke-width="1" fill="#222"><line x1="130" y1="234" x2="130" y2="253"/><polygon points="127.8,235.5 132.2,235.5 130,231" stroke="none"/><polygon points="127.8,252 132.2,252 130,256.5" stroke="none"/></g>
<polygon points="25,323 135.7,321.5 121,339.5 51,340.5" fill="#909090" stroke="#8c8c8c" stroke-width="1.6" stroke-linejoin="round"/><path d="M42.1 324L44.2 324M55.6 323.8L57.8 323.8M62.3 323.7L64.5 323.7M68.9 323.6L71.3 323.6M75.4 323.5L77.4 323.5M82.4 323.4L84.6 323.4M89.1 323.4L92.1 323.3M95.7 323.3L98.3 323.2M103 323.2L105.8 323.1M109.2 323.1L112.1 323M115.8 323L118.6 323M123 322.9L125.2 322.9M31.5 326.4L33.4 326.3M38 326.3L40.3 326.3M44.7 326.2L47.6 326.2M51.2 326.1L53.9 326.1M57.1 326L59.7 326M63.9 325.9L65.9 325.9M70.5 325.8L73 325.8M76.4 325.8L78.7 325.7M83.1 325.7L86 325.6M89.4 325.6L92.1 325.5M96.1 325.5L98.6 325.5M114.9 325.2L117.1 325.2M121.7 325.1L124.5 325.1M34.7 328.6L37.1 328.5M40.6 328.5L42.6 328.5M53.3 328.3L56 328.3M59.1 328.2L61.6 328.2M65.3 328.1L67.1 328.1M71.3 328.1L73.3 328M89.5 327.8L91.9 327.8M95.7 327.7L98.3 327.7M101.8 327.6L104.1 327.6M108.1 327.6L110.7 327.5M114.2 327.5L116.7 327.4M120.5 327.4L122.7 327.4M43.9 330.7L46.5 330.6M49.6 330.6L51.5 330.6M55.1 330.5L57.2 330.5M66.8 330.3L68.9 330.3M72.7 330.3L74.7 330.2M78.7 330.2L81.1 330.2M90.3 330L92.3 330M96.1 329.9L98.1 329.9M101.9 329.9L103.9 329.8M107.3 329.8L109.3 329.8M113.2 329.7L115.6 329.7M41.4 332.9L43.3 332.9M46.4 332.9L48.4 332.8M52.1 332.8L53.7 332.8M63.2 332.6L65.1 332.6M68.6 332.6L70.5 332.5M73.8 332.5L76 332.5M79.5 332.4L81.4 332.4M90.2 332.3L92.2 332.2M96.1 332.2L98.3 332.1M101.5 332.1L103.4 332.1M106.9 332L109 332M112.2 331.9L114.6 331.9M117.9 331.9L119.6 331.8M44.5 335.1L46.1 335.1M49.5 335.1L51.8 335M64.7 334.8L66.6 334.8M70.1 334.8L71.7 334.7M80.4 334.6L82.3 334.6M85.7 334.5L87.9 334.5M90.8 334.5L92.6 334.4M95.7 334.4L97.9 334.4M106.4 334.3L108.2 334.2M111.3 334.2L113.6 334.2M116.7 334.1L118.2 334.1M47.6 337.3L49.7 337.3M52.5 337.2L54.3 337.2M57.3 337.2L59.1 337.1M67 337L69.1 337M76.4 336.9L78.1 336.9M81.3 336.8L83 336.8M86.2 336.8L88.1 336.7M90.9 336.7L92.5 336.7M96.1 336.6L97.6 336.6M100.5 336.6L102.5 336.5M105.7 336.5L107.4 336.5M50.8 339.5L52.4 339.5M59.6 339.4L61.5 339.3M64.3 339.3L65.8 339.3M68.8 339.2L70.7 339.2M73.3 339.2L75 339.2M77.7 339.1L79.4 339.1M82.3 339L84.1 339M87 339L88.6 339M95.7 338.9L97.7 338.8M100.4 338.8L102.3 338.8M104.7 338.7L106.4 338.7M109.4 338.7L110.8 338.6M113.9 338.6L115.5 338.6" stroke="#f4f4f4" stroke-width="1.2" fill="none" opacity="0.85"/><path d="M32.4 323.3L54.9 340.1M39.6 323.2L59.6 340M45.4 323.1L63.3 340M52.2 323L67.7 339.9M60.6 322.9L73.1 339.8M66 322.8L76.6 339.8M74.1 322.7L81.8 339.7M81 322.6L86.2 339.6M87.5 322.5L90.4 339.6M93.9 322.4L94.5 339.5M101.9 322.3L99.7 339.4M108.6 322.2L104 339.4M113.9 322.2L107.4 339.3M122.5 322L113 339.3M128.8 321.9L117.1 339.2" stroke="#7a7a7a" stroke-width="0.8" fill="none"/><circle cx="32.7" cy="322.9" r="1.6" fill="#5555dd"/><circle cx="66" cy="322.4" r="1.5" fill="#e080b8"/><circle cx="107.9" cy="322.2" r="1.6" fill="#5555dd"/><circle cx="41.6" cy="327.2" r="1.5" fill="#22aa33"/><circle cx="65.8" cy="332.3" r="1.5" fill="#22aa33"/><circle cx="76.4" cy="339.2" r="1.3" fill="#22aa33"/><circle cx="84.3" cy="334.7" r="1.2" fill="#22aa33"/><circle cx="116.5" cy="327.1" r="1.3" fill="#22aa33"/><circle cx="125.7" cy="323.4" r="1.3" fill="#e080b8"/><circle cx="68.2" cy="339.9" r="1.0" fill="#7744cc"/><circle cx="93" cy="339.5" r="1.0" fill="#5555dd"/>
<polygon points="29.5,346.3 44.6,344.1 44.6,350.5 29.5,348.3" fill="url(#trail)"/><ellipse cx="44.6" cy="347.3" rx="2.5" ry="3.3" fill="#d9a82c"/><ellipse cx="53.2" cy="347.3" rx="2.5" ry="3.3" fill="#d9a82c"/><ellipse cx="61.8" cy="347.3" rx="2.5" ry="3.3" fill="#d9a82c"/><ellipse cx="70.4" cy="347.3" rx="2.5" ry="3.3" fill="#d9a82c"/><ellipse cx="79" cy="347.3" rx="2.5" ry="3.3" fill="#d9a82c"/><ellipse cx="87.6" cy="347.3" rx="2.5" ry="3.3" fill="#d9a82c"/><ellipse cx="96.2" cy="347.3" rx="2.5" ry="3.3" fill="#d9a82c"/><ellipse cx="104.8" cy="347.3" rx="2.5" ry="3.3" fill="#d9a82c"/><ellipse cx="113.4" cy="347.3" rx="2.5" ry="3.3" fill="#d9a82c"/><ellipse cx="118.5" cy="347.3" rx="1.3" ry="2.8" fill="#e8c570" opacity="0.6"/>
<polygon points="30.8,354.3 35,354.4 39.2,354.6 43.5,354.3 47.7,354.9 51.9,355 56.1,354.5 60.3,354.8 64.5,354.2 68.8,354.9 73,355 77.2,354.3 81.4,355 85.6,354.3 89.8,354.2 94,354.5 98.3,354.4 102.5,354.3 106.7,354.8 110.9,354.7 115.1,354.7 119.4,354.5 123.6,354.5 127.8,354.5 132,354.6 132,357.7 127.8,357.1 123.6,357.8 119.4,357.2 115.1,357.2 110.9,357.6 106.7,357.5 102.5,357.7 98.3,357.7 94,357.1 89.8,357 85.6,357 81.4,357.1 77.2,357.1 73,357.2 68.8,357.7 64.5,357.6 60.3,357.1 56.1,357 51.9,357.7 47.7,357.4 43.5,357.4 39.2,357.6 35,357.7 30.8,357.2" fill="#8a8a8a" stroke="#8a8a8a" stroke-width="0.8"/><circle cx="35.9" cy="356.8" r="1.6" fill="#5555dd"/><circle cx="61.2" cy="354.8" r="1.3" fill="#22aa33"/><circle cx="73.3" cy="356.5" r="1.3" fill="#e080b8"/><circle cx="103.7" cy="356.5" r="1.6" fill="#5555dd"/><circle cx="106.7" cy="355.5" r="1.3" fill="#22aa33"/><circle cx="126.9" cy="356.5" r="1.4" fill="#5555dd"/>
<polygon points="29.5,363.3 44.6,361.1 44.6,367.5 29.5,365.3" fill="url(#trail)"/><ellipse cx="44.6" cy="364.3" rx="2.5" ry="3.3" fill="#d9a82c"/><ellipse cx="53.2" cy="364.3" rx="2.5" ry="3.3" fill="#d9a82c"/><ellipse cx="61.8" cy="364.3" rx="2.5" ry="3.3" fill="#d9a82c"/><ellipse cx="70.4" cy="364.3" rx="2.5" ry="3.3" fill="#d9a82c"/><ellipse cx="79" cy="364.3" rx="2.5" ry="3.3" fill="#d9a82c"/><ellipse cx="87.6" cy="364.3" rx="2.5" ry="3.3" fill="#d9a82c"/><ellipse cx="96.2" cy="364.3" rx="2.5" ry="3.3" fill="#d9a82c"/><ellipse cx="104.8" cy="364.3" rx="2.5" ry="3.3" fill="#d9a82c"/><ellipse cx="113.4" cy="364.3" rx="2.5" ry="3.3" fill="#d9a82c"/><ellipse cx="118.5" cy="364.3" rx="1.3" ry="2.8" fill="#e8c570" opacity="0.6"/>
<polygon points="41.2,369.3 118.4,369.3 138.6,385.5 23.5,385.5" fill="#909090" stroke="#8c8c8c" stroke-width="1.6" stroke-linejoin="round"/><path d="M41.3 370.4L43.4 370.4M46.3 370.4L48.5 370.4M51 370.4L53 370.4M56.2 370.4L58.4 370.4M61.2 370.4L63.4 370.4M66.1 370.4L67.8 370.4M70.9 370.4L72.9 370.4M76.1 370.4L78.2 370.4M81.2 370.4L83.2 370.4M96 370.4L97.6 370.4M101.2 370.4L102.8 370.4M105.9 370.4L107.6 370.4M38.9 372.4L40.5 372.4M44.5 372.4L46.5 372.4M65.3 372.4L67.1 372.4M70.6 372.4L72.7 372.4M76.1 372.4L77.9 372.4M81.5 372.4L83.3 372.4M91.9 372.4L94.1 372.4M102.2 372.4L104.3 372.4M107.7 372.4L110 372.4M112.9 372.4L114.9 372.4M118.1 372.4L119.8 372.4M37.1 374.5L39.1 374.5M42.5 374.5L44.4 374.5M48.4 374.5L50.4 374.5M59.4 374.5L61.4 374.5M70.6 374.5L72.7 374.5M76.1 374.5L78.4 374.5M81.8 374.5L83.8 374.5M87.4 374.5L89.8 374.5M92.8 374.5L94.9 374.5M98.4 374.5L100.7 374.5M103.7 374.5L105.6 374.5M109.5 374.5L111.4 374.5M115.3 374.5L117.1 374.5M34.9 376.5L36.7 376.5M40.6 376.5L43.2 376.5M46.4 376.5L48.2 376.5M58.5 376.5L60.5 376.5M70.2 376.5L72.7 376.5M76.2 376.5L78.7 376.5M81.5 376.5L83.3 376.5M87.8 376.5L89.8 376.5M99.4 376.5L101.6 376.5M105.2 376.5L107 376.5M111 376.5L112.8 376.5M116.9 376.5L119.3 376.5M32.4 378.5L34.3 378.5M38.8 378.5L40.8 378.5M45.2 378.5L47.1 378.5M51.1 378.5L53.2 378.5M57.2 378.5L59.1 378.5M63.8 378.5L66 378.5M76 378.5L78.7 378.5M82.2 378.5L84.1 378.5M88.4 378.5L90.7 378.5M94.3 378.5L97 378.5M106.6 378.5L108.6 378.5M112.9 378.5L115.5 378.5M119.2 378.5L121.9 378.5M30.7 380.5L33.1 380.5M36.7 380.5L39.4 380.5M43.3 380.5L45.3 380.5M49.9 380.5L52.3 380.5M56.4 380.5L59 380.5M76.1 380.5L78.9 380.5M82 380.5L84.8 380.5M89 380.5L91.5 380.5M95.3 380.5L98 380.5M101.7 380.5L104.1 380.5M108.2 380.5L110.7 380.5M114.6 380.5L117.4 380.5M120.9 380.5L123.2 380.5M28.7 382.6L31.5 382.6M35.1 382.6L38 382.6M42 382.6L44.9 382.6M48.6 382.6L50.7 382.6M62.3 382.6L64.6 382.6M69.1 382.6L71.7 382.6M75.6 382.6L78.3 382.6M82.4 382.6L84.5 382.6M89.5 382.6L91.6 382.6M95.7 382.6L98.2 382.6M103.1 382.6L105.5 382.6M109.5 382.6L111.8 382.6M116 382.6L118.1 382.6M123.3 382.6L126 382.6M26.1 384.6L28.5 384.6M33.5 384.6L35.7 384.6M40.6 384.6L43.1 384.6M47.3 384.6L49.8 384.6M54.4 384.6L57.1 384.6M68.7 384.6L71.1 384.6M76 384.6L78.8 384.6M82.5 384.6L85.3 384.6M89.6 384.6L92.3 384.6M97 384.6L99.9 384.6M110.8 384.6L113.2 384.6M118.4 384.6L120.8 384.6M125 384.6L128.1 384.6" stroke="#f4f4f4" stroke-width="1.2" fill="none" opacity="0.85"/><path d="M45.8 369.6L31.1 385.2M51 369.6L38.7 385.2M56.1 369.6L46.2 385.2M60.7 369.6L53 385.2M65.3 369.6L59.7 385.2M69.9 369.6L66.5 385.2M75.2 369.6L74.2 385.2M80.1 369.6L81.4 385.2M84.9 369.6L88.4 385.2M89.9 369.6L95.8 385.2M94.8 369.6L103 385.2M100 369.6L110.6 385.2M104.4 369.6L117 385.2M109.6 369.6L124.8 385.2M114.3 369.6L131.6 385.2" stroke="#7a7a7a" stroke-width="0.8" fill="none"/><circle cx="30.4" cy="385.5" r="1.6" fill="#5555dd"/><circle cx="109.8" cy="385.5" r="1.6" fill="#5555dd"/><circle cx="69.5" cy="385.5" r="1.5" fill="#e080b8"/><circle cx="56.1" cy="370.1" r="1.3" fill="#22aa33"/><circle cx="69.4" cy="375" r="1.4" fill="#22aa33"/><circle cx="75.5" cy="380.6" r="1.3" fill="#22aa33"/><circle cx="97" cy="372.5" r="1.3" fill="#22aa33"/><circle cx="118.5" cy="379" r="1.4" fill="#22aa33"/><circle cx="41.3" cy="378.2" r="1.0" fill="#e080b8"/><circle cx="79.8" cy="369.3" r="1.0" fill="#7744cc"/>
<g stroke="#222" stroke-width="1" fill="#222"><line x1="131.8" y1="326" x2="131.8" y2="351"/><polygon points="129.6,327.5 134,327.5 131.8,323" stroke="none"/><polygon points="129.6,350 134,350 131.8,354.5" stroke="none"/></g>
<rect x="117.5" y="373.5" width="24.5" height="19.5" fill="none" stroke="#5577dd" stroke-width="1" stroke-dasharray="1.5 1.5"/>
<g transform="translate(146,371) rotate(-22)"><polygon points="0,-8.8 72,-8.8 72,-15.3 86,0 72,15.3 72,8.8 0,8.8" fill="url(#bigarr2)"/></g>
<g transform="translate(146,371) rotate(-22)" stroke="#ffffff" stroke-width="0.8" opacity="0.8"><line x1="2" y1="-8.8" x2="2" y2="8.8"/><line x1="4.5" y1="-8.8" x2="4.5" y2="8.8"/><line x1="7" y1="-8.8" x2="7" y2="8.8"/></g>
<g font-size="12" fill="#484848" stroke="#484848" stroke-width="0.2"><text x="173.8" y="253">HCF</text><text x="156.3" y="274.6">d = 0.371 nm</text><text x="160.3" y="349.8">SeHCF-2</text><text x="154.7" y="371.3">d = 0.382 nm</text></g>
<g><polygon points="246,291 344,283.5 362,327.5 238,340.5" fill="#ffffff" opacity="0.8"/><path d="M248.6 291L245.9 291.6L243.4 291.4L243.7 289.7L246.5 288L248.8 289.3ZM253.7 290.6L251.1 291.2L248.6 291L248.8 289.3L251.6 287.6L253.9 288.9ZM258.9 290.2L256.3 290.8L253.7 290.6L253.9 288.9L256.6 287.2L259 288.5ZM264 289.8L261.4 290.4L258.9 290.2L259 288.5L261.7 286.9L264.1 288.1ZM269.2 289.4L266.6 290L264 289.8L264.1 288.1L266.8 286.5L269.3 287.8ZM274.4 289L271.8 289.6L269.2 289.4L269.3 287.8L271.9 286.1L274.4 287.4ZM279.5 288.6L276.9 289.2L274.4 289L274.4 287.4L276.9 285.7L279.5 287ZM284.7 288.2L282.1 288.8L279.5 288.6L279.5 287L282 285.4L284.6 286.6ZM289.9 287.8L287.3 288.4L284.7 288.2L284.6 286.6L287.1 285L289.7 286.2ZM295 287.4L292.5 288L289.9 287.8L289.7 286.2L292.2 284.6L294.8 285.8ZM300.2 287L297.6 287.6L295 287.4L294.8 285.8L297.2 284.2L300 285.4ZM305.3 286.6L302.8 287.2L300.2 287L300 285.4L302.3 283.9L305.1 285.1ZM310.5 286.2L308 286.8L305.3 286.6L305.1 285.1L307.4 283.5L310.2 284.7ZM315.7 285.8L313.2 286.4L310.5 286.2L310.2 284.7L312.5 283.1L315.3 284.3ZM320.8 285.4L318.3 286L315.7 285.8L315.3 284.3L317.5 282.7L320.4 283.9ZM331.2 284.7L328.7 285.2L326 285L325.5 283.5L327.7 282L330.7 283.1ZM336.3 284.3L333.9 284.8L331.2 284.7L330.7 283.1L332.8 281.6L335.8 282.7ZM341.5 283.9L339 284.4L336.3 284.3L335.8 282.7L337.8 281.2L340.9 282.4ZM346.6 283.5L344.2 284L341.5 283.9L340.9 282.4L342.9 280.8L346 282ZM256.1 291.9L253.4 292.8L250.9 292.3L251.1 291.2L253.7 290.6L256.3 290.8ZM261.3 291.5L258.7 292.4L256.1 291.9L256.3 290.8L258.9 290.2L261.4 290.4ZM266.5 291.1L263.9 292L261.3 291.5L261.4 290.4L264 289.8L266.6 290ZM271.7 290.7L269.1 291.6L266.5 291.1L266.6 290L269.2 289.4L271.8 289.6ZM277 290.3L274.3 291.2L271.7 290.7L271.8 289.6L274.4 289L276.9 289.2ZM282.2 289.9L279.6 290.8L277 290.3L276.9 289.2L279.5 288.6L282.1 288.8ZM287.4 289.5L284.8 290.4L282.2 289.9L282.1 288.8L284.7 288.2L287.3 288.4ZM292.6 289L290 289.9L287.4 289.5L287.3 288.4L289.9 287.8L292.5 288ZM297.8 288.6L295.2 289.5L292.6 289L292.5 288L295 287.4L297.6 287.6ZM303 288.2L300.5 289.1L297.8 288.6L297.6 287.6L300.2 287L302.8 287.2ZM308.2 287.8L305.7 288.7L303 288.2L302.8 287.2L305.3 286.6L308 286.8ZM313.4 287.4L310.9 288.3L308.2 287.8L308 286.8L310.5 286.2L313.2 286.4ZM318.6 287L316.1 287.9L313.4 287.4L313.2 286.4L315.7 285.8L318.3 286ZM323.8 286.6L321.4 287.5L318.6 287L318.3 286L320.8 285.4L323.5 285.6ZM329 286.2L326.6 287.1L323.8 286.6L323.5 285.6L326 285L328.7 285.2ZM334.2 285.8L331.8 286.7L329 286.2L328.7 285.2L331.2 284.7L333.9 284.8ZM339.4 285.4L337 286.3L334.2 285.8L333.9 284.8L336.3 284.3L339 284.4ZM344.6 285L342.3 285.9L339.4 285.4L339 284.4L341.5 283.9L344.2 284ZM253.2 294.5L250.5 295.7L248 294.9L248.2 293.2L250.9 292.3L253.4 292.8ZM258.5 294.1L255.8 295.3L253.2 294.5L253.4 292.8L256.1 291.9L258.7 292.4ZM263.8 293.7L261.1 294.9L258.5 294.1L258.7 292.4L261.3 291.5L263.9 292ZM269.1 293.3L266.4 294.4L263.8 293.7L263.9 292L266.5 291.1L269.1 291.6ZM274.3 292.8L271.7 294L269.1 293.3L269.1 291.6L271.7 290.7L274.3 291.2ZM279.6 292.4L277 293.6L274.3 292.8L274.3 291.2L277 290.3L279.6 290.8ZM284.9 292L282.3 293.2L279.6 292.4L279.6 290.8L282.2 289.9L284.8 290.4ZM290.1 291.6L287.6 292.7L284.9 292L284.8 290.4L287.4 289.5L290 289.9ZM295.4 291.2L292.9 292.3L290.1 291.6L290 289.9L292.6 289L295.2 289.5ZM300.7 290.7L298.2 291.9L295.4 291.2L295.2 289.5L297.8 288.6L300.5 289.1ZM306 290.3L303.5 291.5L300.7 290.7L300.5 289.1L303 288.2L305.7 288.7ZM311.2 289.9L308.8 291L306 290.3L305.7 288.7L308.2 287.8L310.9 288.3ZM316.5 289.5L314.1 290.6L311.2 289.9L310.9 288.3L313.4 287.4L316.1 287.9ZM321.8 289.1L319.4 290.2L316.5 289.5L316.1 287.9L318.6 287L321.4 287.5ZM327.1 288.6L324.7 289.8L321.8 289.1L321.4 287.5L323.8 286.6L326.6 287.1ZM332.3 288.2L330 289.3L327.1 288.6L326.6 287.1L329 286.2L331.8 286.7ZM337.6 287.8L335.3 288.9L332.3 288.2L331.8 286.7L334.2 285.8L337 286.3ZM342.9 287.4L340.6 288.5L337.6 287.8L337 286.3L339.4 285.4L342.3 285.9ZM348.1 287L345.9 288.1L342.9 287.4L342.3 285.9L344.6 285L347.5 285.4ZM250.2 297.9L247.3 299.3L244.8 298.3L245.2 296.1L248 294.9L250.5 295.7ZM255.5 297.5L252.7 298.9L250.2 297.9L250.5 295.7L253.2 294.5L255.8 295.3ZM260.9 297L258.1 298.4L255.5 297.5L255.8 295.3L258.5 294.1L261.1 294.9ZM266.3 296.6L263.5 298L260.9 297L261.1 294.9L263.8 293.7L266.4 294.4ZM271.6 296.1L268.9 297.5L266.3 296.6L266.4 294.4L269.1 293.3L271.7 294ZM277 295.7L274.3 297.1L271.6 296.1L271.7 294L274.3 292.8L277 293.6ZM282.3 295.3L279.7 296.6L277 295.7L277 293.6L279.6 292.4L282.3 293.2ZM287.7 294.8L285.1 296.2L282.3 295.3L282.3 293.2L284.9 292L287.6 292.7ZM293.1 294.4L290.5 295.8L287.7 294.8L287.6 292.7L290.1 291.6L292.9 292.3ZM298.4 294L295.9 295.3L293.1 294.4L292.9 292.3L295.4 291.2L298.2 291.9ZM303.8 293.5L301.3 294.9L298.4 294L298.2 291.9L300.7 290.7L303.5 291.5ZM309.1 293.1L306.6 294.4L303.8 293.5L303.5 291.5L306 290.3L308.8 291ZM314.5 292.6L312 294L309.1 293.1L308.8 291L311.2 289.9L314.1 290.6ZM319.9 292.2L317.4 293.5L314.5 292.6L314.1 290.6L316.5 289.5L319.4 290.2ZM325.2 291.8L322.8 293.1L319.9 292.2L319.4 290.2L321.8 289.1L324.7 289.8ZM330.6 291.3L328.2 292.6L325.2 291.8L324.7 289.8L327.1 288.6L330 289.3ZM335.9 290.9L333.6 292.2L330.6 291.3L330 289.3L332.3 288.2L335.3 288.9ZM341.3 290.5L339 291.8L335.9 290.9L335.3 288.9L337.6 287.8L340.6 288.5ZM346.7 290L344.4 291.3L341.3 290.5L340.6 288.5L342.9 287.4L345.9 288.1ZM252.4 301.5L249.5 303.1L246.9 301.9L247.3 299.3L250.2 297.9L252.7 298.9ZM257.9 301L255 302.6L252.4 301.5L252.7 298.9L255.5 297.5L258.1 298.4ZM263.3 300.5L260.5 302.1L257.9 301L258.1 298.4L260.9 297L263.5 298ZM268.8 300.1L266 301.7L263.3 300.5L263.5 298L266.3 296.6L268.9 297.5ZM274.3 299.6L271.5 301.2L268.8 300.1L268.9 297.5L271.6 296.1L274.3 297.1ZM279.7 299.2L277 300.7L274.3 299.6L274.3 297.1L277 295.7L279.7 296.6ZM285.2 298.7L282.5 300.3L279.7 299.2L279.7 296.6L282.3 295.3L285.1 296.2ZM290.7 298.2L288 299.8L285.2 298.7L285.1 296.2L287.7 294.8L290.5 295.8ZM296.1 297.8L293.5 299.3L290.7 298.2L290.5 295.8L293.1 294.4L295.9 295.3ZM301.6 297.3L299 298.9L296.1 297.8L295.9 295.3L298.4 294L301.3 294.9ZM307.1 296.9L304.5 298.4L301.6 297.3L301.3 294.9L303.8 293.5L306.6 294.4ZM312.5 296.4L310 297.9L307.1 296.9L306.6 294.4L309.1 293.1L312 294ZM318 295.9L315.5 297.5L312.5 296.4L312 294L314.5 292.6L317.4 293.5ZM323.5 295.5L321 297L318 295.9L317.4 293.5L319.9 292.2L322.8 293.1ZM328.9 295L326.5 296.5L323.5 295.5L322.8 293.1L325.2 291.8L328.2 292.6ZM334.4 294.6L332.1 296.1L328.9 295L328.2 292.6L330.6 291.3L333.6 292.2ZM339.9 294.1L337.6 295.6L334.4 294.6L333.6 292.2L335.9 290.9L339 291.8ZM350.8 293.2L348.6 294.7L345.3 293.6L344.4 291.3L346.7 290L349.8 290.9ZM249.1 306.1L246 307.9L243.5 306.5L244 303.6L246.9 301.9L249.5 303.1ZM254.7 305.6L251.7 307.4L249.1 306.1L249.5 303.1L252.4 301.5L255 302.6ZM260.3 305.1L257.3 306.9L254.7 305.6L255 302.6L257.9 301L260.5 302.1ZM265.8 304.6L262.9 306.4L260.3 305.1L260.5 302.1L263.3 300.5L266 301.7ZM271.4 304.1L268.6 305.9L265.8 304.6L266 301.7L268.8 300.1L271.5 301.2ZM277 303.6L274.2 305.4L271.4 304.1L271.5 301.2L274.3 299.6L277 300.7ZM282.6 303.1L279.8 304.9L277 303.6L277 300.7L279.7 299.2L282.5 300.3ZM288.2 302.7L285.5 304.4L282.6 303.1L282.5 300.3L285.2 298.7L288 299.8ZM293.8 302.2L291.1 303.9L288.2 302.7L288 299.8L290.7 298.2L293.5 299.3ZM299.4 301.7L296.7 303.4L293.8 302.2L293.5 299.3L296.1 297.8L299 298.9ZM305 301.2L302.4 302.9L299.4 301.7L299 298.9L301.6 297.3L304.5 298.4ZM310.5 300.7L308 302.4L305 301.2L304.5 298.4L307.1 296.9L310 297.9ZM316.1 300.2L313.6 301.9L310.5 300.7L310 297.9L312.5 296.4L315.5 297.5ZM321.7 299.7L319.3 301.4L316.1 300.2L315.5 297.5L318 295.9L321 297ZM327.3 299.3L324.9 301L321.7 299.7L321 297L323.5 295.5L326.5 296.5ZM332.9 298.8L330.5 300.5L327.3 299.3L326.5 296.5L328.9 295L332.1 296.1ZM338.5 298.3L336.1 300L332.9 298.8L332.1 296.1L334.4 294.6L337.6 295.6ZM344.1 297.8L341.8 299.5L338.5 298.3L337.6 295.6L339.9 294.1L343.1 295.1ZM349.7 297.3L347.4 299L344.1 297.8L343.1 295.1L345.3 293.6L348.6 294.7ZM251.3 310.7L248.2 312.7L245.6 311.2L246 307.9L249.1 306.1L251.7 307.4ZM257 310.2L254 312.2L251.3 310.7L251.7 307.4L254.7 305.6L257.3 306.9ZM262.7 309.7L259.7 311.6L257 310.2L257.3 306.9L260.3 305.1L262.9 306.4ZM268.4 309.1L265.5 311.1L262.7 309.7L262.9 306.4L265.8 304.6L268.6 305.9ZM274.2 308.6L271.3 310.6L268.4 309.1L268.6 305.9L271.4 304.1L274.2 305.4ZM279.9 308.1L277 310.1L274.2 308.6L274.2 305.4L277 303.6L279.8 304.9ZM285.6 307.6L282.8 309.5L279.9 308.1L279.8 304.9L282.6 303.1L285.5 304.4ZM291.3 307.1L288.6 309L285.6 307.6L285.5 304.4L288.2 302.7L291.1 303.9ZM297.1 306.6L294.4 308.5L291.3 307.1L291.1 303.9L293.8 302.2L296.7 303.4ZM302.8 306.1L300.1 308L297.1 306.6L296.7 303.4L299.4 301.7L302.4 302.9ZM308.5 305.5L305.9 307.4L302.8 306.1L302.4 302.9L305 301.2L308 302.4ZM314.2 305L311.7 306.9L308.5 305.5L308 302.4L310.5 300.7L313.6 301.9ZM320 304.5L317.4 306.4L314.2 305L313.6 301.9L316.1 300.2L319.3 301.4ZM325.7 304L323.2 305.9L320 304.5L319.3 301.4L321.7 299.7L324.9 301ZM331.4 303.5L329 305.3L325.7 304L324.9 301L327.3 299.3L330.5 300.5ZM337.1 303L334.8 304.8L331.4 303.5L330.5 300.5L332.9 298.8L336.1 300ZM342.9 302.5L340.5 304.3L337.1 303L336.1 300L338.5 298.3L341.8 299.5ZM348.6 301.9L346.3 303.8L342.9 302.5L341.8 299.5L344.1 297.8L347.4 299ZM354.3 301.4L352.1 303.2L348.6 301.9L347.4 299L349.7 297.3L353 298.5ZM247.7 316.3L244.5 318.5L241.8 316.9L242.4 313.2L245.6 311.2L248.2 312.7ZM253.6 315.8L250.4 317.9L247.7 316.3L248.2 312.7L251.3 310.7L254 312.2ZM259.4 315.2L256.3 317.4L253.6 315.8L254 312.2L257 310.2L259.7 311.6ZM265.3 314.7L262.3 316.8L259.4 315.2L259.7 311.6L262.7 309.7L265.5 311.1ZM271.2 314.1L268.2 316.3L265.3 314.7L265.5 311.1L268.4 309.1L271.3 310.6ZM277.1 313.6L274.1 315.7L271.2 314.1L271.3 310.6L274.2 308.6L277 310.1ZM282.9 313.1L280 315.2L277.1 313.6L277 310.1L279.9 308.1L282.8 309.5ZM288.8 312.5L286 314.6L282.9 313.1L282.8 309.5L285.6 307.6L288.6 309ZM294.7 312L291.9 314L288.8 312.5L288.6 309L291.3 307.1L294.4 308.5ZM300.6 311.4L297.8 313.5L294.7 312L294.4 308.5L297.1 306.6L300.1 308ZM306.4 310.9L303.7 312.9L300.6 311.4L300.1 308L302.8 306.1L305.9 307.4ZM312.3 310.3L309.7 312.4L306.4 310.9L305.9 307.4L308.5 305.5L311.7 306.9ZM318.2 309.8L315.6 311.8L312.3 310.3L311.7 306.9L314.2 305L317.4 306.4ZM324 309.2L321.5 311.3L318.2 309.8L317.4 306.4L320 304.5L323.2 305.9ZM329.9 308.7L327.4 310.7L324 309.2L323.2 305.9L325.7 304L329 305.3ZM335.8 308.1L333.4 310.1L329.9 308.7L329 305.3L331.4 303.5L334.8 304.8ZM341.7 307.6L339.3 309.6L335.8 308.1L334.8 304.8L337.1 303L340.5 304.3ZM347.5 307L345.2 309L341.7 307.6L340.5 304.3L342.9 302.5L346.3 303.8ZM353.4 306.5L351.1 308.5L347.5 307L346.3 303.8L348.6 301.9L352.1 303.2ZM243.9 322.5L240.5 324.8L237.9 323L238.5 319.1L241.8 316.9L244.5 318.5ZM249.9 321.9L246.6 324.2L243.9 322.5L244.5 318.5L247.7 316.3L250.4 317.9ZM256 321.3L252.7 323.6L249.9 321.9L250.4 317.9L253.6 315.8L256.3 317.4ZM262 320.7L258.8 323L256 321.3L256.3 317.4L259.4 315.2L262.3 316.8ZM268 320.1L264.9 322.4L262 320.7L262.3 316.8L265.3 314.7L268.2 316.3ZM274.1 319.6L271 321.8L268 320.1L268.2 316.3L271.2 314.1L274.1 315.7ZM280.1 319L277.1 321.2L274.1 319.6L274.1 315.7L277.1 313.6L280 315.2ZM286.1 318.4L283.2 320.7L280.1 319L280 315.2L282.9 313.1L286 314.6ZM292.2 317.8L289.3 320.1L286.1 318.4L286 314.6L288.8 312.5L291.9 314ZM298.2 317.2L295.4 319.5L292.2 317.8L291.9 314L294.7 312L297.8 313.5ZM304.2 316.7L301.5 318.9L298.2 317.2L297.8 313.5L300.6 311.4L303.7 312.9ZM310.3 316.1L307.6 318.3L304.2 316.7L303.7 312.9L306.4 310.9L309.7 312.4ZM316.3 315.5L313.6 317.7L310.3 316.1L309.7 312.4L312.3 310.3L315.6 311.8ZM322.3 314.9L319.7 317.1L316.3 315.5L315.6 311.8L318.2 309.8L321.5 311.3ZM328.4 314.3L325.8 316.5L322.3 314.9L321.5 311.3L324 309.2L327.4 310.7ZM334.4 313.7L331.9 315.9L328.4 314.3L327.4 310.7L329.9 308.7L333.4 310.1ZM340.5 313.2L338 315.3L334.4 313.7L333.4 310.1L335.8 308.1L339.3 309.6ZM346.5 312.6L344.1 314.7L340.5 313.2L339.3 309.6L341.7 307.6L345.2 309ZM358.6 311.4L356.3 313.5L352.5 312L351.1 308.5L353.4 306.5L357.1 307.9ZM246.1 328.4L242.6 330.9L239.8 329.1L240.5 324.8L243.9 322.5L246.6 324.2ZM252.3 327.8L248.9 330.3L246.1 328.4L246.6 324.2L249.9 321.9L252.7 323.6ZM258.5 327.2L255.2 329.7L252.3 327.8L252.7 323.6L256 321.3L258.8 323ZM264.7 326.6L261.4 329L258.5 327.2L258.8 323L262 320.7L264.9 322.4ZM270.9 326L267.7 328.4L264.7 326.6L264.9 322.4L268 320.1L271 321.8ZM277.1 325.4L274 327.8L270.9 326L271 321.8L274.1 319.6L277.1 321.2ZM283.3 324.7L280.3 327.2L277.1 325.4L277.1 321.2L280.1 319L283.2 320.7ZM289.5 324.1L286.5 326.5L283.3 324.7L283.2 320.7L286.1 318.4L289.3 320.1ZM295.7 323.5L292.8 325.9L289.5 324.1L289.3 320.1L292.2 317.8L295.4 319.5ZM301.9 322.9L299.1 325.3L295.7 323.5L295.4 319.5L298.2 317.2L301.5 318.9ZM308.2 322.3L305.3 324.6L301.9 322.9L301.5 318.9L304.2 316.7L307.6 318.3ZM314.4 321.6L311.6 324L308.2 322.3L307.6 318.3L310.3 316.1L313.6 317.7ZM320.6 321L317.9 323.4L314.4 321.6L313.6 317.7L316.3 315.5L319.7 317.1ZM326.8 320.4L324.1 322.7L320.6 321L319.7 317.1L322.3 314.9L325.8 316.5ZM333 319.8L330.4 322.1L326.8 320.4L325.8 316.5L328.4 314.3L331.9 315.9ZM339.2 319.2L336.7 321.5L333 319.8L331.9 315.9L334.4 313.7L338 315.3ZM345.4 318.6L343 320.9L339.2 319.2L338 315.3L340.5 313.2L344.1 314.7ZM351.6 317.9L349.2 320.2L345.4 318.6L344.1 314.7L346.5 312.6L350.2 314.1ZM357.8 317.3L355.5 319.6L351.6 317.9L350.2 314.1L352.5 312L356.3 313.5ZM242 335.5L238.4 338.1L235.6 336.1L236.4 331.6L239.8 329.1L242.6 330.9ZM248.4 334.8L244.8 337.5L242 335.5L242.6 330.9L246.1 328.4L248.9 330.3ZM254.8 334.1L251.3 336.8L248.4 334.8L248.9 330.3L252.3 327.8L255.2 329.7ZM261.1 333.5L257.8 336.1L254.8 334.1L255.2 329.7L258.5 327.2L261.4 329ZM267.5 332.8L264.2 335.4L261.1 333.5L261.4 329L264.7 326.6L267.7 328.4ZM273.9 332.2L270.7 334.8L267.5 332.8L267.7 328.4L270.9 326L274 327.8ZM280.3 331.5L277.1 334.1L273.9 332.2L274 327.8L277.1 325.4L280.3 327.2ZM286.7 330.9L283.6 333.4L280.3 331.5L280.3 327.2L283.3 324.7L286.5 326.5ZM293.1 330.2L290.1 332.8L286.7 330.9L286.5 326.5L289.5 324.1L292.8 325.9ZM299.5 329.5L296.5 332.1L293.1 330.2L292.8 325.9L295.7 323.5L299.1 325.3ZM305.9 328.9L303 331.4L299.5 329.5L299.1 325.3L301.9 322.9L305.3 324.6ZM312.3 328.2L309.5 330.7L305.9 328.9L305.3 324.6L308.2 322.3L311.6 324ZM318.7 327.6L315.9 330.1L312.3 328.2L311.6 324L314.4 321.6L317.9 323.4ZM325.1 326.9L322.4 329.4L318.7 327.6L317.9 323.4L320.6 321L324.1 322.7ZM331.5 326.3L328.8 328.7L325.1 326.9L324.1 322.7L326.8 320.4L330.4 322.1ZM337.9 325.6L335.3 328.1L331.5 326.3L330.4 322.1L333 319.8L336.7 321.5ZM344.3 325L341.8 327.4L337.9 325.6L336.7 321.5L339.2 319.2L343 320.9ZM350.7 324.3L348.2 326.7L344.3 325L343 320.9L345.4 318.6L349.2 320.2ZM244.2 342.2L240.5 345L237.6 342.9L238.4 338.1L242 335.5L244.8 337.5ZM250.8 341.5L247.2 344.3L244.2 342.2L244.8 337.5L248.4 334.8L251.3 336.8ZM257.4 340.8L253.9 343.6L250.8 341.5L251.3 336.8L254.8 334.1L257.8 336.1ZM264 340.1L260.5 342.9L257.4 340.8L257.8 336.1L261.1 333.5L264.2 335.4ZM270.6 339.4L267.2 342.2L264 340.1L264.2 335.4L267.5 332.8L270.7 334.8ZM277.2 338.7L273.8 341.5L270.6 339.4L270.7 334.8L273.9 332.2L277.1 334.1ZM283.8 338L280.5 340.8L277.2 338.7L277.1 334.1L280.3 331.5L283.6 333.4ZM290.4 337.3L287.2 340L283.8 338L283.6 333.4L286.7 330.9L290.1 332.8ZM316.7 334.5L313.8 337.2L310.1 335.2L309.5 330.7L312.3 328.2L315.9 330.1ZM323.3 333.8L320.5 336.5L316.7 334.5L315.9 330.1L318.7 327.6L322.4 329.4ZM329.9 333.1L327.1 335.8L323.3 333.8L322.4 329.4L325.1 326.9L328.8 328.7ZM343.1 331.7L340.5 334.3L336.5 332.4L335.3 328.1L337.9 325.6L341.8 327.4ZM356.3 330.4L353.8 332.9L349.7 331L348.2 326.7L350.7 324.3L354.7 326.1ZM362.9 329.7L360.4 332.2L356.3 330.4L354.7 326.1L357.1 323.6L361.1 325.4Z" fill="none" stroke="#888888" stroke-width="1.55" stroke-linejoin="round"/><circle cx="324.1" cy="312.8" r="1.7" fill="#d6a531"/><circle cx="290.1" cy="326.5" r="1.7" fill="#d6a531"/><circle cx="340.8" cy="295.7" r="1.7" fill="#d6a531"/><circle cx="291.9" cy="321.3" r="1.7" fill="#d6a531"/><circle cx="315.1" cy="305.2" r="1.7" fill="#d6a531"/><circle cx="294" cy="331.3" r="1.7" fill="#d6a531"/><circle cx="274.7" cy="300" r="1.7" fill="#d6a531"/><circle cx="314.6" cy="299.5" r="1.7" fill="#d6a531"/><circle cx="335.8" cy="299.7" r="1.7" fill="#d6a531"/><circle cx="339.2" cy="301.7" r="1.7" fill="#d6a531"/><circle cx="340.1" cy="317.3" r="1.7" fill="#d6a531"/><circle cx="318.4" cy="296.5" r="1.7" fill="#d6a531"/><circle cx="264.5" cy="292.9" r="1.7" fill="#d6a531"/><circle cx="264.5" cy="321" r="1.7" fill="#d6a531"/><circle cx="254.3" cy="302.9" r="1.7" fill="#d6a531"/><circle cx="302.3" cy="295.3" r="1.7" fill="#d6a531"/><circle cx="279.8" cy="300.3" r="1.7" fill="#d6a531"/><circle cx="312.2" cy="292.9" r="1.7" fill="#d6a531"/><circle cx="349.8" cy="310" r="1.7" fill="#d6a531"/><circle cx="319.7" cy="310.8" r="1.7" fill="#d6a531"/><circle cx="299.4" cy="330.9" r="1.5" fill="#2bb02b"/><circle cx="342" cy="320.2" r="1.5" fill="#2bb02b"/><circle cx="249" cy="319.1" r="1.5" fill="#2bb02b"/><circle cx="344.6" cy="312.1" r="1.5" fill="#2bb02b"/><circle cx="299.6" cy="316.9" r="1.5" fill="#2bb02b"/><circle cx="263.9" cy="323.8" r="1.5" fill="#2bb02b"/><circle cx="321.8" cy="290.1" r="1.1" fill="#8844cc"/><circle cx="299" cy="314.6" r="1.1" fill="#8844cc"/><circle cx="282.6" cy="320" r="1.1" fill="#8844cc"/><circle cx="346.2" cy="323.3" r="1.1" fill="#8844cc"/><circle cx="277.7" cy="297.1" r="1.1" fill="#8844cc"/><circle cx="335" cy="311.9" r="1.1" fill="#8844cc"/><circle cx="335.5" cy="322.8" r="1.1" fill="#8844cc"/><circle cx="275" cy="316.6" r="1.1" fill="#8844cc"/><circle cx="277.5" cy="325.5" r="1.1" fill="#e070d0"/><circle cx="314.8" cy="297.8" r="1.1" fill="#e070d0"/><circle cx="297.9" cy="314.7" r="1.1" fill="#e070d0"/><circle cx="270.6" cy="299.1" r="1.1" fill="#e070d0"/><circle cx="293.1" cy="292.4" r="1.1" fill="#e070d0"/><circle cx="299" cy="329.6" r="1.1" fill="#e070d0"/><circle cx="325.5" cy="289.1" r="1.1" fill="#e070d0"/><circle cx="333.3" cy="316.5" r="1.1" fill="#e070d0"/></g>
<g transform="translate(259.3,277.4) rotate(98)"><polygon points="0,-1.8 10.9,-0.4 10.9,0.4 0,1.8" fill="url(#iont_b)"/><circle r="1.9" fill="#2fa3cc"/></g>
<g transform="translate(275.3,276.2) rotate(-57.7)"><polygon points="0,-1.8 9.5,-0.4 9.5,0.4 0,1.8" fill="url(#iont_y)"/><circle r="1.9" fill="#dcaa30"/></g>
<g transform="translate(288.9,271.9) rotate(102.9)"><polygon points="0,-1.8 10.9,-0.4 10.9,0.4 0,1.8" fill="url(#iont_b)"/><circle r="1.9" fill="#2fa3cc"/></g>
<g transform="translate(307.4,269.4) rotate(109.8)"><polygon points="0,-1.8 10.6,-0.4 10.6,0.4 0,1.8" fill="url(#iont_b)"/><circle r="1.9" fill="#2fa3cc"/></g>
<g transform="translate(321.4,278) rotate(-74.4)"><polygon points="0,-1.8 10.4,-0.4 10.4,0.4 0,1.8" fill="url(#iont_y)"/><circle r="1.9" fill="#dcaa30"/></g>
<g><polygon points="383,241 481,234.5 498,273 374,292.5" fill="#ffffff" opacity="0.8"/><path d="M385.5 241L382.9 241.6L380.4 241.4L380.7 239.6L383.5 237.9L385.8 239.3ZM395.9 240.3L393.2 240.9L390.7 240.7L390.9 239L393.7 237.3L396.1 238.6ZM401 240L398.4 240.5L395.9 240.3L396.1 238.6L398.8 237L401.2 238.3ZM406.2 239.6L403.6 240.2L401 240L401.2 238.3L403.8 236.7L406.3 238ZM411.4 239.3L408.8 239.8L406.2 239.6L406.3 238L408.9 236.4L411.4 237.7ZM416.5 239L413.9 239.5L411.4 239.3L411.4 237.7L414 236.1L416.5 237.4ZM426.9 238.3L424.3 238.8L421.7 238.6L421.6 237L424.1 235.5L426.8 236.7ZM437.2 237.6L434.6 238.1L432 237.9L431.9 236.4L434.3 234.9L437 236.1ZM442.3 237.2L439.8 237.7L437.2 237.6L437 236.1L439.4 234.6L442.1 235.7ZM452.7 236.5L450.2 237L447.5 236.9L447.2 235.4L449.5 234L452.3 235.1ZM457.8 236.2L455.3 236.7L452.7 236.5L452.3 235.1L454.6 233.7L457.5 234.8ZM463 235.8L460.5 236.3L457.8 236.2L457.5 234.8L459.7 233.4L462.6 234.5ZM468.2 235.5L465.7 236L463 235.8L462.6 234.5L464.7 233.1L467.7 234.1ZM473.3 235.2L470.8 235.6L468.2 235.5L467.7 234.1L469.8 232.8L472.8 233.8ZM478.5 234.8L476 235.3L473.3 235.2L472.8 233.8L474.9 232.5L477.9 233.5ZM387.9 242.4L385.2 243.3L382.7 242.8L382.9 241.6L385.5 241L388.1 241.2ZM393.1 242L390.4 243L387.9 242.4L388.1 241.2L390.7 240.7L393.2 240.9ZM398.3 241.7L395.6 242.6L393.1 242L393.2 240.9L395.9 240.3L398.4 240.5ZM403.5 241.3L400.8 242.2L398.3 241.7L398.4 240.5L401 240L403.6 240.2ZM408.7 240.9L406.1 241.8L403.5 241.3L403.6 240.2L406.2 239.6L408.8 239.8ZM413.9 240.6L411.3 241.4L408.7 240.9L408.8 239.8L411.4 239.3L413.9 239.5ZM419.1 240.2L416.5 241.1L413.9 240.6L413.9 239.5L416.5 239L419.1 239.1ZM424.3 239.8L421.7 240.7L419.1 240.2L419.1 239.1L421.7 238.6L424.3 238.8ZM429.5 239.5L427 240.3L424.3 239.8L424.3 238.8L426.9 238.3L429.5 238.4ZM434.7 239.1L432.2 239.9L429.5 239.5L429.5 238.4L432 237.9L434.6 238.1ZM439.9 238.7L437.4 239.6L434.7 239.1L434.6 238.1L437.2 237.6L439.8 237.7ZM445.1 238.4L442.6 239.2L439.9 238.7L439.8 237.7L442.3 237.2L445 237.4ZM450.4 238L447.9 238.8L445.1 238.4L445 237.4L447.5 236.9L450.2 237ZM455.6 237.6L453.1 238.4L450.4 238L450.2 237L452.7 236.5L455.3 236.7ZM460.8 237.3L458.3 238.1L455.6 237.6L455.3 236.7L457.8 236.2L460.5 236.3ZM466 236.9L463.5 237.7L460.8 237.3L460.5 236.3L463 235.8L465.7 236ZM471.2 236.5L468.8 237.3L466 236.9L465.7 236L468.2 235.5L470.8 235.6ZM476.4 236.2L474 236.9L471.2 236.5L470.8 235.6L473.3 235.2L476 235.3ZM481.6 235.8L479.2 236.6L476.4 236.2L476 235.3L478.5 234.8L481.2 234.9ZM384.9 245.1L382.1 246.3L379.6 245.5L379.9 243.7L382.7 242.8L385.2 243.3ZM390.2 244.7L387.4 245.9L384.9 245.1L385.2 243.3L387.9 242.4L390.4 243ZM395.4 244.3L392.7 245.5L390.2 244.7L390.4 243L393.1 242L395.6 242.6ZM400.7 243.9L398 245.1L395.4 244.3L395.6 242.6L398.3 241.7L400.8 242.2ZM406 243.5L403.3 244.7L400.7 243.9L400.8 242.2L403.5 241.3L406.1 241.8ZM411.2 243.1L408.6 244.3L406 243.5L406.1 241.8L408.7 240.9L411.3 241.4ZM416.5 242.7L413.9 243.9L411.2 243.1L411.3 241.4L413.9 240.6L416.5 241.1ZM421.8 242.3L419.2 243.4L416.5 242.7L416.5 241.1L419.1 240.2L421.7 240.7ZM427.1 241.9L424.5 243L421.8 242.3L421.7 240.7L424.3 239.8L427 240.3ZM432.3 241.5L429.8 242.6L427.1 241.9L427 240.3L429.5 239.5L432.2 239.9ZM437.6 241.1L435.1 242.2L432.3 241.5L432.2 239.9L434.7 239.1L437.4 239.6ZM442.9 240.7L440.4 241.8L437.6 241.1L437.4 239.6L439.9 238.7L442.6 239.2ZM448.2 240.3L445.7 241.4L442.9 240.7L442.6 239.2L445.1 238.4L447.9 238.8ZM453.4 239.9L451 241L448.2 240.3L447.9 238.8L450.4 238L453.1 238.4ZM458.7 239.5L456.3 240.6L453.4 239.9L453.1 238.4L455.6 237.6L458.3 238.1ZM464 239.1L461.6 240.1L458.7 239.5L458.3 238.1L460.8 237.3L463.5 237.7ZM469.2 238.7L466.9 239.7L464 239.1L463.5 237.7L466 236.9L468.8 237.3ZM474.5 238.3L472.2 239.3L469.2 238.7L468.8 237.3L471.2 236.5L474 236.9ZM479.8 237.9L477.5 238.9L474.5 238.3L474 236.9L476.4 236.2L479.2 236.6ZM485.1 237.5L482.8 238.5L479.8 237.9L479.2 236.6L481.6 235.8L484.4 236.2ZM392.4 247.7L389.5 249.2L387 248.2L387.4 245.9L390.2 244.7L392.7 245.5ZM397.7 247.3L394.9 248.7L392.4 247.7L392.7 245.5L395.4 244.3L398 245.1ZM403.1 246.9L400.3 248.3L397.7 247.3L398 245.1L400.7 243.9L403.3 244.7ZM408.5 246.4L405.7 247.8L403.1 246.9L403.3 244.7L406 243.5L408.6 244.3ZM413.8 246L411.1 247.3L408.5 246.4L408.6 244.3L411.2 243.1L413.9 243.9ZM419.2 245.5L416.5 246.9L413.8 246L413.9 243.9L416.5 242.7L419.2 243.4ZM424.6 245.1L421.9 246.4L419.2 245.5L419.2 243.4L421.8 242.3L424.5 243ZM429.9 244.6L427.3 246L424.6 245.1L424.5 243L427.1 241.9L429.8 242.6ZM435.3 244.2L432.7 245.5L429.9 244.6L429.8 242.6L432.3 241.5L435.1 242.2ZM440.6 243.7L438.1 245L435.3 244.2L435.1 242.2L437.6 241.1L440.4 241.8ZM446 243.3L443.5 244.6L440.6 243.7L440.4 241.8L442.9 240.7L445.7 241.4ZM451.4 242.9L448.9 244.1L446 243.3L445.7 241.4L448.2 240.3L451 241ZM456.7 242.4L454.3 243.7L451.4 242.9L451 241L453.4 239.9L456.3 240.6ZM462.1 242L459.7 243.2L456.7 242.4L456.3 240.6L458.7 239.5L461.6 240.1ZM467.4 241.5L465.1 242.7L462.1 242L461.6 240.1L464 239.1L466.9 239.7ZM472.8 241.1L470.4 242.3L467.4 241.5L466.9 239.7L469.2 238.7L472.2 239.3ZM478.2 240.6L475.8 241.8L472.8 241.1L472.2 239.3L474.5 238.3L477.5 238.9ZM383.7 252.4L380.7 254.1L378.2 252.8L378.8 250.1L381.7 248.6L384.1 249.6ZM389.2 251.9L386.2 253.5L383.7 252.4L384.1 249.6L387 248.2L389.5 249.2ZM394.6 251.4L391.7 253L389.2 251.9L389.5 249.2L392.4 247.7L394.9 248.7ZM400.1 250.9L397.2 252.5L394.6 251.4L394.9 248.7L397.7 247.3L400.3 248.3ZM405.6 250.4L402.7 252L400.1 250.9L400.3 248.3L403.1 246.9L405.7 247.8ZM411 249.9L408.2 251.5L405.6 250.4L405.7 247.8L408.5 246.4L411.1 247.3ZM416.5 249.4L413.7 251L411 249.9L411.1 247.3L413.8 246L416.5 246.9ZM422 248.9L419.3 250.5L416.5 249.4L416.5 246.9L419.2 245.5L421.9 246.4ZM427.4 248.4L424.8 249.9L422 248.9L421.9 246.4L424.6 245.1L427.3 246ZM432.9 247.9L430.3 249.4L427.4 248.4L427.3 246L429.9 244.6L432.7 245.5ZM438.4 247.4L435.8 248.9L432.9 247.9L432.7 245.5L435.3 244.2L438.1 245ZM443.8 246.9L441.3 248.4L438.4 247.4L438.1 245L440.6 243.7L443.5 244.6ZM449.3 246.4L446.8 247.9L443.8 246.9L443.5 244.6L446 243.3L448.9 244.1ZM454.8 245.9L452.3 247.4L449.3 246.4L448.9 244.1L451.4 242.9L454.3 243.7ZM460.2 245.4L457.8 246.8L454.8 245.9L454.3 243.7L456.7 242.4L459.7 243.2ZM465.7 244.9L463.3 246.3L460.2 245.4L459.7 243.2L462.1 242L465.1 242.7ZM471.2 244.4L468.8 245.8L465.7 244.9L465.1 242.7L467.4 241.5L470.4 242.3ZM476.6 243.9L474.3 245.3L471.2 244.4L470.4 242.3L472.8 241.1L475.8 241.8ZM482.1 243.4L479.8 244.8L476.6 243.9L475.8 241.8L478.2 240.6L481.2 241.4ZM487.6 242.9L485.3 244.3L482.1 243.4L481.2 241.4L483.5 240.2L486.6 240.9ZM385.8 256.6L382.7 258.5L380.2 257.2L380.7 254.1L383.7 252.4L386.2 253.5ZM391.3 256.1L388.3 258L385.8 256.6L386.2 253.5L389.2 251.9L391.7 253ZM396.9 255.5L394 257.4L391.3 256.1L391.7 253L394.6 251.4L397.2 252.5ZM402.5 254.9L399.6 256.8L396.9 255.5L397.2 252.5L400.1 250.9L402.7 252ZM408.1 254.4L405.2 256.2L402.5 254.9L402.7 252L405.6 250.4L408.2 251.5ZM413.7 253.8L410.9 255.6L408.1 254.4L408.2 251.5L411 249.9L413.7 251ZM419.3 253.3L416.5 255.1L413.7 253.8L413.7 251L416.5 249.4L419.3 250.5ZM424.9 252.7L422.1 254.5L419.3 253.3L419.3 250.5L422 248.9L424.8 249.9ZM430.5 252.2L427.8 253.9L424.9 252.7L424.8 249.9L427.4 248.4L430.3 249.4ZM436 251.6L433.4 253.3L430.5 252.2L430.3 249.4L432.9 247.9L435.8 248.9ZM441.6 251L439 252.7L436 251.6L435.8 248.9L438.4 247.4L441.3 248.4ZM447.2 250.5L444.6 252.2L441.6 251L441.3 248.4L443.8 246.9L446.8 247.9ZM452.8 249.9L450.3 251.6L447.2 250.5L446.8 247.9L449.3 246.4L452.3 247.4ZM458.4 249.4L455.9 251L452.8 249.9L452.3 247.4L454.8 245.9L457.8 246.8ZM464 248.8L461.5 250.4L458.4 249.4L457.8 246.8L460.2 245.4L463.3 246.3ZM469.6 248.3L467.2 249.8L464 248.8L463.3 246.3L465.7 244.9L468.8 245.8ZM475.2 247.7L472.8 249.3L469.6 248.3L468.8 245.8L471.2 244.4L474.3 245.3ZM480.8 247.1L478.4 248.7L475.2 247.7L474.3 245.3L476.6 243.9L479.8 244.8ZM486.3 246.6L484.1 248.1L480.8 247.1L479.8 244.8L482.1 243.4L485.3 244.3ZM382.1 262L379 264.1L376.4 262.6L377.1 259.1L380.2 257.2L382.7 258.5ZM387.9 261.4L384.7 263.5L382.1 262L382.7 258.5L385.8 256.6L388.3 258ZM393.6 260.7L390.5 262.8L387.9 261.4L388.3 258L391.3 256.1L394 257.4ZM399.3 260.1L396.3 262.2L393.6 260.7L394 257.4L396.9 255.5L399.6 256.8ZM405 259.5L402 261.5L399.3 260.1L399.6 256.8L402.5 254.9L405.2 256.2ZM410.8 258.9L407.8 260.9L405 259.5L405.2 256.2L408.1 254.4L410.9 255.6ZM416.5 258.2L413.6 260.2L410.8 258.9L410.9 255.6L413.7 253.8L416.5 255.1ZM422.2 257.6L419.4 259.6L416.5 258.2L416.5 255.1L419.3 253.3L422.1 254.5ZM427.9 257L425.1 258.9L422.2 257.6L422.1 254.5L424.9 252.7L427.8 253.9ZM433.7 256.4L430.9 258.3L427.9 257L427.8 253.9L430.5 252.2L433.4 253.3ZM439.4 255.7L436.7 257.6L433.7 256.4L433.4 253.3L436 251.6L439 252.7ZM445.1 255.1L442.5 257L439.4 255.7L439 252.7L441.6 251L444.6 252.2ZM450.8 254.5L448.2 256.3L445.1 255.1L444.6 252.2L447.2 250.5L450.3 251.6ZM456.5 253.9L454 255.7L450.8 254.5L450.3 251.6L452.8 249.9L455.9 251ZM462.3 253.2L459.8 255L456.5 253.9L455.9 251L458.4 249.4L461.5 250.4ZM468 252.6L465.5 254.4L462.3 253.2L461.5 250.4L464 248.8L467.2 249.8ZM473.7 252L471.3 253.7L468 252.6L467.2 249.8L469.6 248.3L472.8 249.3ZM479.4 251.4L477.1 253.1L473.7 252L472.8 249.3L475.2 247.7L478.4 248.7ZM485.2 250.7L482.9 252.4L479.4 251.4L478.4 248.7L480.8 247.1L484.1 248.1ZM490.9 250.1L488.6 251.8L485.2 250.7L484.1 248.1L486.3 246.6L489.7 247.5ZM384.2 267.2L380.9 269.5L378.3 267.9L379 264.1L382.1 262L384.7 263.5ZM390 266.5L386.8 268.8L384.2 267.2L384.7 263.5L387.9 261.4L390.5 262.8ZM395.9 265.8L392.8 268.1L390 266.5L390.5 262.8L393.6 260.7L396.3 262.2ZM401.8 265.1L398.7 267.4L395.9 265.8L396.3 262.2L399.3 260.1L402 261.5ZM407.7 264.4L404.6 266.6L401.8 265.1L402 261.5L405 259.5L407.8 260.9ZM413.5 263.7L410.5 265.9L407.7 264.4L407.8 260.9L410.8 258.9L413.6 260.2ZM419.4 263L416.5 265.2L413.5 263.7L413.6 260.2L416.5 258.2L419.4 259.6ZM425.3 262.3L422.4 264.5L419.4 263L419.4 259.6L422.2 257.6L425.1 258.9ZM431.2 261.6L428.3 263.7L425.3 262.3L425.1 258.9L427.9 257L430.9 258.3ZM437 260.9L434.2 263L431.2 261.6L430.9 258.3L433.7 256.4L436.7 257.6ZM442.9 260.2L440.2 262.3L437 260.9L436.7 257.6L439.4 255.7L442.5 257ZM448.8 259.5L446.1 261.6L442.9 260.2L442.5 257L445.1 255.1L448.2 256.3ZM454.6 258.8L452 260.8L448.8 259.5L448.2 256.3L450.8 254.5L454 255.7ZM460.5 258.1L457.9 260.1L454.6 258.8L454 255.7L456.5 253.9L459.8 255ZM466.4 257.4L463.9 259.4L460.5 258.1L459.8 255L462.3 253.2L465.5 254.4ZM472.3 256.7L469.8 258.6L466.4 257.4L465.5 254.4L468 252.6L471.3 253.7ZM478.1 256L475.7 257.9L472.3 256.7L471.3 253.7L473.7 252L477.1 253.1ZM484 255.3L481.7 257.2L478.1 256L477.1 253.1L479.4 251.4L482.9 252.4ZM489.9 254.6L487.6 256.5L484 255.3L482.9 252.4L485.2 250.7L488.6 251.8ZM380.2 273.6L376.9 276.2L374.2 274.4L375 270.3L378.3 267.9L380.9 269.5ZM392.3 272.1L389 274.5L386.3 272.9L386.8 268.8L390 266.5L392.8 268.1ZM398.4 271.3L395.1 273.7L392.3 272.1L392.8 268.1L395.9 265.8L398.7 267.4ZM404.4 270.5L401.2 272.9L398.4 271.3L398.7 267.4L401.8 265.1L404.6 266.6ZM410.4 269.7L407.3 272.1L404.4 270.5L404.6 266.6L407.7 264.4L410.5 265.9ZM416.5 269L413.4 271.3L410.4 269.7L410.5 265.9L413.5 263.7L416.5 265.2ZM422.5 268.2L419.5 270.5L416.5 269L416.5 265.2L419.4 263L422.4 264.5ZM428.5 267.4L425.6 269.7L422.5 268.2L422.4 264.5L425.3 262.3L428.3 263.7ZM434.6 266.6L431.7 268.9L428.5 267.4L428.3 263.7L431.2 261.6L434.2 263ZM440.6 265.8L437.8 268.1L434.6 266.6L434.2 263L437 260.9L440.2 262.3ZM446.6 265L443.9 267.3L440.6 265.8L440.2 262.3L442.9 260.2L446.1 261.6ZM452.7 264.3L450 266.5L446.6 265L446.1 261.6L448.8 259.5L452 260.8ZM458.7 263.5L456.1 265.6L452.7 264.3L452 260.8L454.6 258.8L457.9 260.1ZM464.7 262.7L462.1 264.8L458.7 263.5L457.9 260.1L460.5 258.1L463.9 259.4ZM470.8 261.9L468.2 264L464.7 262.7L463.9 259.4L466.4 257.4L469.8 258.6ZM476.8 261.1L474.3 263.2L470.8 261.9L469.8 258.6L472.3 256.7L475.7 257.9ZM482.8 260.4L480.4 262.4L476.8 261.1L475.7 257.9L478.1 256L481.7 257.2ZM488.9 259.6L486.5 261.6L482.8 260.4L481.7 257.2L484 255.3L487.6 256.5ZM494.9 258.8L492.6 260.8L488.9 259.6L487.6 256.5L489.9 254.6L493.5 255.7ZM388.5 278.9L385.1 281.5L382.3 279.7L382.9 275.4L386.3 272.9L389 274.5ZM394.7 278L391.4 280.6L388.5 278.9L389 274.5L392.3 272.1L395.1 273.7ZM400.9 277.1L397.6 279.7L394.7 278L395.1 273.7L398.4 271.3L401.2 272.9ZM407.1 276.3L403.9 278.8L400.9 277.1L401.2 272.9L404.4 270.5L407.3 272.1ZM413.3 275.4L410.2 277.9L407.1 276.3L407.3 272.1L410.4 269.7L413.4 271.3ZM419.6 274.5L416.4 277L413.3 275.4L413.4 271.3L416.5 269L419.5 270.5ZM425.8 273.6L422.7 276.1L419.6 274.5L419.5 270.5L422.5 268.2L425.6 269.7ZM432 272.8L429 275.2L425.8 273.6L425.6 269.7L428.5 267.4L431.7 268.9ZM438.2 271.9L435.3 274.3L432 272.8L431.7 268.9L434.6 266.6L437.8 268.1ZM444.4 271L441.5 273.4L438.2 271.9L437.8 268.1L440.6 265.8L443.9 267.3ZM450.6 270.2L447.8 272.5L444.4 271L443.9 267.3L446.6 265L450 266.5ZM456.8 269.3L454.1 271.6L450.6 270.2L450 266.5L452.7 264.3L456.1 265.6ZM463 268.4L460.3 270.8L456.8 269.3L456.1 265.6L458.7 263.5L462.1 264.8ZM469.2 267.6L466.6 269.9L463 268.4L462.1 264.8L464.7 262.7L468.2 264ZM475.4 266.7L472.9 269L469.2 267.6L468.2 264L470.8 261.9L474.3 263.2ZM481.7 265.8L479.1 268.1L475.4 266.7L474.3 263.2L476.8 261.1L480.4 262.4ZM487.9 265L485.4 267.2L481.7 265.8L480.4 262.4L482.8 260.4L486.5 261.6ZM494.1 264.1L491.7 266.3L487.9 265L486.5 261.6L488.9 259.6L492.6 260.8ZM384.5 286.2L380.9 289L378.1 287.1L378.8 282.4L382.3 279.7L385.1 281.5ZM390.8 285.2L387.4 288L384.5 286.2L385.1 281.5L388.5 278.9L391.4 280.6ZM397.2 284.2L393.8 287L390.8 285.2L391.4 280.6L394.7 278L397.6 279.7ZM403.6 283.3L400.3 286.1L397.2 284.2L397.6 279.7L400.9 277.1L403.9 278.8ZM410 282.3L406.7 285.1L403.6 283.3L403.9 278.8L407.1 276.3L410.2 277.9ZM416.4 281.3L413.2 284.1L410 282.3L410.2 277.9L413.3 275.4L416.4 277ZM422.8 280.4L419.7 283.1L416.4 281.3L416.4 277L419.6 274.5L422.7 276.1ZM429.2 279.4L426.1 282.1L422.8 280.4L422.7 276.1L425.8 273.6L429 275.2ZM435.6 278.5L432.6 281.1L429.2 279.4L429 275.2L432 272.8L435.3 274.3ZM442 277.5L439 280.1L435.6 278.5L435.3 274.3L438.2 271.9L441.5 273.4ZM448.4 276.5L445.5 279.1L442 277.5L441.5 273.4L444.4 271L447.8 272.5ZM454.8 275.6L452 278.1L448.4 276.5L447.8 272.5L450.6 270.2L454.1 271.6ZM461.2 274.6L458.4 277.1L454.8 275.6L454.1 271.6L456.8 269.3L460.3 270.8ZM467.6 273.7L464.9 276.1L461.2 274.6L460.3 270.8L463 268.4L466.6 269.9ZM474 272.7L471.3 275.1L467.6 273.7L466.6 269.9L469.2 267.6L472.9 269ZM480.4 271.7L477.8 274.1L474 272.7L472.9 269L475.4 266.7L479.1 268.1ZM486.8 270.8L484.3 273.1L480.4 271.7L479.1 268.1L481.7 265.8L485.4 267.2ZM493.2 269.8L490.7 272.1L486.8 270.8L485.4 267.2L487.9 265L491.7 266.3ZM499.6 268.9L497.2 271.2L493.2 269.8L491.7 266.3L494.1 264.1L498 265.4ZM380.2 294L376.4 297L373.6 295L374.4 290L378.1 287.1L380.9 289ZM386.7 292.9L383.1 295.9L380.2 294L380.9 289L384.5 286.2L387.4 288ZM393.3 291.8L389.8 294.8L386.7 292.9L387.4 288L390.8 285.2L393.8 287ZM399.9 290.8L396.4 293.8L393.3 291.8L393.8 287L397.2 284.2L400.3 286.1ZM406.5 289.7L403.1 292.7L399.9 290.8L400.3 286.1L403.6 283.3L406.7 285.1ZM413.1 288.7L409.7 291.6L406.5 289.7L406.7 285.1L410 282.3L413.2 284.1ZM419.7 287.6L416.4 290.5L413.1 288.7L413.2 284.1L416.4 281.3L419.7 283.1ZM426.3 286.5L423.1 289.4L419.7 287.6L419.7 283.1L422.8 280.4L426.1 282.1ZM432.9 285.5L429.7 288.3L426.3 286.5L426.1 282.1L429.2 279.4L432.6 281.1ZM439.5 284.4L436.4 287.2L432.9 285.5L432.6 281.1L435.6 278.5L439 280.1ZM446.1 283.4L443.1 286.1L439.5 284.4L439 280.1L442 277.5L445.5 279.1ZM452.7 282.3L449.7 285L446.1 283.4L445.5 279.1L448.4 276.5L452 278.1ZM459.3 281.2L456.4 283.9L452.7 282.3L452 278.1L454.8 275.6L458.4 277.1ZM465.9 280.2L463 282.8L459.3 281.2L458.4 277.1L461.2 274.6L464.9 276.1ZM472.5 279.1L469.7 281.7L465.9 280.2L464.9 276.1L467.6 273.7L471.3 275.1ZM479.1 278.1L476.4 280.6L472.5 279.1L471.3 275.1L474 272.7L477.8 274.1ZM485.6 277L483 279.5L479.1 278.1L477.8 274.1L480.4 271.7L484.3 273.1ZM498.8 274.9L496.3 277.3L492.2 275.9L490.7 272.1L493.2 269.8L497.2 271.2Z" fill="none" stroke="#888888" stroke-width="1.55" stroke-linejoin="round"/><circle cx="410.7" cy="250.3" r="1.7" fill="#d6a531"/><circle cx="484.3" cy="268.7" r="1.7" fill="#d6a531"/><circle cx="415" cy="269.2" r="1.7" fill="#d6a531"/><circle cx="423.9" cy="279.1" r="1.7" fill="#d6a531"/><circle cx="429.1" cy="250.9" r="1.7" fill="#d6a531"/><circle cx="408" cy="266" r="1.7" fill="#d6a531"/><circle cx="409.6" cy="266.8" r="1.7" fill="#d6a531"/><circle cx="473.4" cy="251.8" r="1.7" fill="#d6a531"/><circle cx="404.1" cy="285.7" r="1.8" fill="#2fa3cc"/><circle cx="433.4" cy="243.2" r="1.8" fill="#2fa3cc"/><circle cx="390.2" cy="247.6" r="1.8" fill="#2fa3cc"/><circle cx="448.9" cy="270.4" r="1.8" fill="#2fa3cc"/><circle cx="425.2" cy="242.7" r="1.8" fill="#2fa3cc"/><circle cx="422.4" cy="282.9" r="1.8" fill="#2fa3cc"/><circle cx="439" cy="279.3" r="1.8" fill="#2fa3cc"/><circle cx="465.2" cy="237.6" r="1.8" fill="#2fa3cc"/><circle cx="458.1" cy="264.7" r="1.8" fill="#2fa3cc"/><circle cx="436.7" cy="250.2" r="1.8" fill="#2fa3cc"/><circle cx="445.8" cy="243.1" r="1.5" fill="#2bb02b"/><circle cx="427.2" cy="259.1" r="1.5" fill="#2bb02b"/><circle cx="485.5" cy="268.5" r="1.5" fill="#2bb02b"/><circle cx="409.8" cy="263.1" r="1.5" fill="#2bb02b"/><circle cx="399.8" cy="282.6" r="1.5" fill="#2bb02b"/><circle cx="469.5" cy="248.3" r="1.5" fill="#2bb02b"/><circle cx="448.9" cy="262.9" r="1.5" fill="#2bb02b"/><circle cx="397.5" cy="276.3" r="1.5" fill="#2bb02b"/><circle cx="439.3" cy="271.2" r="1.1" fill="#8844cc"/><circle cx="434.9" cy="239.4" r="1.1" fill="#8844cc"/><circle cx="416.1" cy="241.5" r="1.1" fill="#8844cc"/><circle cx="482.8" cy="269" r="1.1" fill="#8844cc"/><circle cx="465.8" cy="249" r="1.1" fill="#8844cc"/><circle cx="386.6" cy="283" r="1.1" fill="#8844cc"/><circle cx="474" cy="239.8" r="1.1" fill="#e070d0"/><circle cx="431.1" cy="242.5" r="1.1" fill="#e070d0"/><circle cx="463.1" cy="267.4" r="1.1" fill="#e070d0"/><circle cx="396.2" cy="263.6" r="1.1" fill="#e070d0"/><circle cx="438" cy="250.1" r="1.1" fill="#e070d0"/><circle cx="471.1" cy="252.9" r="1.1" fill="#e070d0"/></g>
<g transform="translate(395.4,220.6) rotate(103.4)"><polygon points="0,-1.8 10.5,-0.4 10.5,0.4 0,1.8" fill="url(#iont_y)"/><circle r="1.9" fill="#dcaa30"/></g>
<g transform="translate(410.3,230) rotate(-56.7)"><polygon points="0,-1.8 10.6,-0.4 10.6,0.4 0,1.8" fill="url(#iont_b)"/><circle r="1.9" fill="#2fa3cc"/></g>
<g transform="translate(428,226.6) rotate(106.2)"><polygon points="0,-1.8 9.7,-0.4 9.7,0.4 0,1.8" fill="url(#iont_y)"/><circle r="1.9" fill="#dcaa30"/></g>
<g transform="translate(441.2,229.4) rotate(-66.2)"><polygon points="0,-1.8 11.8,-0.4 11.8,0.4 0,1.8" fill="url(#iont_b)"/><circle r="1.9" fill="#2fa3cc"/></g>
<g transform="translate(460.3,228.4) rotate(-80.1)"><polygon points="0,-1.8 11.3,-0.4 11.3,0.4 0,1.8" fill="url(#iont_b)"/><circle r="1.9" fill="#2fa3cc"/></g>
<g><polygon points="524,290 623.5,282.3 639,325 515,341.5" fill="#ffffff" opacity="0.8"/><path d="M531.8 289.6L529.1 290.2L526.6 290L526.9 288.2L529.7 286.5L532.1 287.9ZM542.3 288.8L539.7 289.3L537.1 289.2L537.3 287.5L540 285.7L542.5 287.1ZM547.6 288.4L544.9 288.9L542.3 288.8L542.5 287.1L545.2 285.4L547.7 286.7ZM552.8 288L550.2 288.5L547.6 288.4L547.7 286.7L550.3 285L552.9 286.3ZM558 287.5L555.4 288.1L552.8 288L552.9 286.3L555.5 284.6L558.1 285.9ZM563.3 287.1L560.7 287.7L558 287.5L558.1 285.9L560.7 284.2L563.3 285.5ZM573.8 286.3L571.2 286.9L568.5 286.7L568.5 285.1L571 283.5L573.7 284.7ZM579 285.9L576.4 286.5L573.8 286.3L573.7 284.7L576.1 283.1L578.8 284.3ZM584.2 285.5L581.7 286.1L579 285.9L578.8 284.3L581.3 282.7L584 283.9ZM589.5 285.1L586.9 285.7L584.2 285.5L584 283.9L586.4 282.4L589.2 283.5ZM594.7 284.7L592.2 285.2L589.5 285.1L589.2 283.5L591.6 282L594.4 283.2ZM600 284.3L597.4 284.8L594.7 284.7L594.4 283.2L596.8 281.6L599.6 282.8ZM605.2 283.9L602.7 284.4L600 284.3L599.6 282.8L601.9 281.2L604.8 282.4ZM610.5 283.5L607.9 284L605.2 283.9L604.8 282.4L607.1 280.8L610 282ZM615.7 283.1L613.2 283.6L610.5 283.5L610 282L612.2 280.5L615.2 281.6ZM620.9 282.7L618.4 283.2L615.7 283.1L615.2 281.6L617.4 280.1L620.4 281.2ZM529 291.3L526.2 292.3L523.7 291.8L523.9 290.6L526.6 290L529.1 290.2ZM534.3 290.9L531.5 291.9L529 291.3L529.1 290.2L531.8 289.6L534.4 289.8ZM539.5 290.5L536.8 291.4L534.3 290.9L534.4 289.8L537.1 289.2L539.7 289.3ZM544.8 290.1L542.1 291L539.5 290.5L539.7 289.3L542.3 288.8L544.9 288.9ZM550.1 289.7L547.4 290.6L544.8 290.1L544.9 288.9L547.6 288.4L550.2 288.5ZM555.4 289.2L552.7 290.2L550.1 289.7L550.2 288.5L552.8 288L555.4 288.1ZM560.7 288.8L558 289.7L555.4 289.2L555.4 288.1L558 287.5L560.7 287.7ZM565.9 288.4L563.3 289.3L560.7 288.8L560.7 287.7L563.3 287.1L565.9 287.3ZM571.2 288L568.6 288.9L565.9 288.4L565.9 287.3L568.5 286.7L571.2 286.9ZM576.5 287.5L573.9 288.5L571.2 288L571.2 286.9L573.8 286.3L576.4 286.5ZM581.8 287.1L579.2 288L576.5 287.5L576.4 286.5L579 285.9L581.7 286.1ZM587.1 286.7L584.5 287.6L581.8 287.1L581.7 286.1L584.2 285.5L586.9 285.7ZM592.3 286.3L589.8 287.2L587.1 286.7L586.9 285.7L589.5 285.1L592.2 285.2ZM597.6 285.9L595.1 286.7L592.3 286.3L592.2 285.2L594.7 284.7L597.4 284.8ZM602.9 285.4L600.4 286.3L597.6 285.9L597.4 284.8L600 284.3L602.7 284.4ZM608.2 285L605.7 285.9L602.9 285.4L602.7 284.4L605.2 283.9L607.9 284ZM613.5 284.6L611 285.5L608.2 285L607.9 284L610.5 283.5L613.2 283.6ZM618.7 284.2L616.3 285L613.5 284.6L613.2 283.6L615.7 283.1L618.4 283.2ZM624 283.8L621.6 284.6L618.7 284.2L618.4 283.2L620.9 282.7L623.7 282.8ZM525.9 294.1L523.1 295.3L520.6 294.5L520.9 292.7L523.7 291.8L526.2 292.3ZM531.3 293.6L528.4 294.9L525.9 294.1L526.2 292.3L529 291.3L531.5 291.9ZM536.6 293.2L533.8 294.4L531.3 293.6L531.5 291.9L534.3 290.9L536.8 291.4ZM542 292.8L539.2 294L536.6 293.2L536.8 291.4L539.5 290.5L542.1 291ZM547.3 292.3L544.5 293.5L542 292.8L542.1 291L544.8 290.1L547.4 290.6ZM552.6 291.9L549.9 293.1L547.3 292.3L547.4 290.6L550.1 289.7L552.7 290.2ZM558 291.4L555.3 292.6L552.6 291.9L552.7 290.2L555.4 289.2L558 289.7ZM563.3 291L560.7 292.2L558 291.4L558 289.7L560.7 288.8L563.3 289.3ZM568.7 290.5L566 291.7L563.3 291L563.3 289.3L565.9 288.4L568.6 288.9ZM574 290.1L571.4 291.3L568.7 290.5L568.6 288.9L571.2 288L573.9 288.5ZM579.4 289.6L576.8 290.8L574 290.1L573.9 288.5L576.5 287.5L579.2 288ZM584.7 289.2L582.1 290.3L579.4 289.6L579.2 288L581.8 287.1L584.5 287.6ZM590.1 288.8L587.5 289.9L584.7 289.2L584.5 287.6L587.1 286.7L589.8 287.2ZM595.4 288.3L592.9 289.4L590.1 288.8L589.8 287.2L592.3 286.3L595.1 286.7ZM600.7 287.9L598.3 289L595.4 288.3L595.1 286.7L597.6 285.9L600.4 286.3ZM606.1 287.4L603.6 288.5L600.7 287.9L600.4 286.3L602.9 285.4L605.7 285.9ZM611.4 287L609 288.1L606.1 287.4L605.7 285.9L608.2 285L611 285.5ZM616.8 286.5L614.4 287.6L611.4 287L611 285.5L613.5 284.6L616.3 285ZM622.1 286.1L619.7 287.2L616.8 286.5L616.3 285L618.7 284.2L621.6 284.6ZM627.5 285.7L625.1 286.7L622.1 286.1L621.6 284.6L624 283.8L626.9 284.2ZM528.1 297.2L525.2 298.6L522.7 297.6L523.1 295.3L525.9 294.1L528.4 294.9ZM533.5 296.7L530.6 298.2L528.1 297.2L528.4 294.9L531.3 293.6L533.8 294.4ZM539 296.2L536.1 297.7L533.5 296.7L533.8 294.4L536.6 293.2L539.2 294ZM544.4 295.7L541.6 297.2L539 296.2L539.2 294L542 292.8L544.5 293.5ZM549.8 295.3L547 296.7L544.4 295.7L544.5 293.5L547.3 292.3L549.9 293.1ZM555.2 294.8L552.5 296.2L549.8 295.3L549.9 293.1L552.6 291.9L555.3 292.6ZM560.7 294.3L557.9 295.7L555.2 294.8L555.3 292.6L558 291.4L560.7 292.2ZM566.1 293.8L563.4 295.2L560.7 294.3L560.7 292.2L563.3 291L566 291.7ZM571.5 293.4L568.9 294.8L566.1 293.8L566 291.7L568.7 290.5L571.4 291.3ZM576.9 292.9L574.3 294.3L571.5 293.4L571.4 291.3L574 290.1L576.8 290.8ZM582.4 292.4L579.8 293.8L576.9 292.9L576.8 290.8L579.4 289.6L582.1 290.3ZM587.8 291.9L585.2 293.3L582.4 292.4L582.1 290.3L584.7 289.2L587.5 289.9ZM593.2 291.5L590.7 292.8L587.8 291.9L587.5 289.9L590.1 288.8L592.9 289.4ZM598.7 291L596.1 292.3L593.2 291.5L592.9 289.4L595.4 288.3L598.3 289ZM604.1 290.5L601.6 291.8L598.7 291L598.3 289L600.7 287.9L603.6 288.5ZM609.5 290L607.1 291.4L604.1 290.5L603.6 288.5L606.1 287.4L609 288.1ZM614.9 289.6L612.5 290.9L609.5 290L609 288.1L611.4 287L614.4 287.6ZM620.4 289.1L618 290.4L614.9 289.6L614.4 287.6L616.8 286.5L619.7 287.2ZM530.3 300.8L527.3 302.5L524.7 301.3L525.2 298.6L528.1 297.2L530.6 298.2ZM535.8 300.3L532.8 302L530.3 300.8L530.6 298.2L533.5 296.7L536.1 297.7ZM541.3 299.8L538.4 301.5L535.8 300.3L536.1 297.7L539 296.2L541.6 297.2ZM546.8 299.3L544 301L541.3 299.8L541.6 297.2L544.4 295.7L547 296.7ZM552.4 298.8L549.5 300.4L546.8 299.3L547 296.7L549.8 295.3L552.5 296.2ZM557.9 298.3L555.1 299.9L552.4 298.8L552.5 296.2L555.2 294.8L557.9 295.7ZM563.4 297.8L560.7 299.4L557.9 298.3L557.9 295.7L560.7 294.3L563.4 295.2ZM569 297.3L566.2 298.9L563.4 297.8L563.4 295.2L566.1 293.8L568.9 294.8ZM574.5 296.8L571.8 298.4L569 297.3L568.9 294.8L571.5 293.4L574.3 294.3ZM580 296.3L577.4 297.8L574.5 296.8L574.3 294.3L576.9 292.9L579.8 293.8ZM585.5 295.7L582.9 297.3L580 296.3L579.8 293.8L582.4 292.4L585.2 293.3ZM591.1 295.2L588.5 296.8L585.5 295.7L585.2 293.3L587.8 291.9L590.7 292.8ZM596.6 294.7L594 296.3L591.1 295.2L590.7 292.8L593.2 291.5L596.1 292.3ZM602.1 294.2L599.6 295.7L596.6 294.7L596.1 292.3L598.7 291L601.6 291.8ZM607.6 293.7L605.2 295.2L602.1 294.2L601.6 291.8L604.1 290.5L607.1 291.4ZM613.2 293.2L610.7 294.7L607.6 293.7L607.1 291.4L609.5 290L612.5 290.9ZM618.7 292.7L616.3 294.2L613.2 293.2L612.5 290.9L614.9 289.6L618 290.4ZM624.2 292.2L621.9 293.7L618.7 292.7L618 290.4L620.4 289.1L623.4 289.9ZM629.8 291.7L627.4 293.1L624.2 292.2L623.4 289.9L625.8 288.6L628.9 289.4ZM526.8 305.6L523.7 307.5L521.2 306.2L521.7 303.1L524.7 301.3L527.3 302.5ZM532.5 305.1L529.4 307L526.8 305.6L527.3 302.5L530.3 300.8L532.8 302ZM538.1 304.5L535.1 306.4L532.5 305.1L532.8 302L535.8 300.3L538.4 301.5ZM543.7 304L540.8 305.8L538.1 304.5L538.4 301.5L541.3 299.8L544 301ZM549.4 303.4L546.5 305.3L543.7 304L544 301L546.8 299.3L549.5 300.4ZM555 302.9L552.1 304.7L549.4 303.4L549.5 300.4L552.4 298.8L555.1 299.9ZM560.7 302.3L557.8 304.1L555 302.9L555.1 299.9L557.9 298.3L560.7 299.4ZM566.3 301.8L563.5 303.6L560.7 302.3L560.7 299.4L563.4 297.8L566.2 298.9ZM571.9 301.2L569.2 303L566.3 301.8L566.2 298.9L569 297.3L571.8 298.4ZM577.6 300.7L574.9 302.4L571.9 301.2L571.8 298.4L574.5 296.8L577.4 297.8ZM583.2 300.1L580.6 301.9L577.6 300.7L577.4 297.8L580 296.3L582.9 297.3ZM588.9 299.6L586.2 301.3L583.2 300.1L582.9 297.3L585.5 295.7L588.5 296.8ZM594.5 299L591.9 300.8L588.9 299.6L588.5 296.8L591.1 295.2L594 296.3ZM600.2 298.5L597.6 300.2L594.5 299L594 296.3L596.6 294.7L599.6 295.7ZM605.8 297.9L603.3 299.6L600.2 298.5L599.6 295.7L602.1 294.2L605.2 295.2ZM611.4 297.4L609 299.1L605.8 297.9L605.2 295.2L607.6 293.7L610.7 294.7ZM617.1 296.8L614.7 298.5L611.4 297.4L610.7 294.7L613.2 293.2L616.3 294.2ZM622.7 296.3L620.3 297.9L617.1 296.8L616.3 294.2L618.7 292.7L621.9 293.7ZM628.4 295.7L626 297.4L622.7 296.3L621.9 293.7L624.2 292.2L627.4 293.1ZM528.9 310.4L525.8 312.5L523.2 311L523.7 307.5L526.8 305.6L529.4 307ZM534.7 309.8L531.6 311.9L528.9 310.4L529.4 307L532.5 305.1L535.1 306.4ZM540.5 309.2L537.4 311.3L534.7 309.8L535.1 306.4L538.1 304.5L540.8 305.8ZM546.2 308.6L543.2 310.7L540.5 309.2L540.8 305.8L543.7 304L546.5 305.3ZM552 308L549 310L546.2 308.6L546.5 305.3L549.4 303.4L552.1 304.7ZM557.8 307.4L554.9 309.4L552 308L552.1 304.7L555 302.9L557.8 304.1ZM563.6 306.8L560.7 308.8L557.8 307.4L557.8 304.1L560.7 302.3L563.5 303.6ZM569.3 306.2L566.5 308.2L563.6 306.8L563.5 303.6L566.3 301.8L569.2 303ZM575.1 305.6L572.3 307.6L569.3 306.2L569.2 303L571.9 301.2L574.9 302.4ZM580.9 305L578.1 307L575.1 305.6L574.9 302.4L577.6 300.7L580.6 301.9ZM586.6 304.4L583.9 306.4L580.9 305L580.6 301.9L583.2 300.1L586.2 301.3ZM592.4 303.8L589.7 305.8L586.6 304.4L586.2 301.3L588.9 299.6L591.9 300.8ZM598.2 303.2L595.6 305.1L592.4 303.8L591.9 300.8L594.5 299L597.6 300.2ZM603.9 302.6L601.4 304.5L598.2 303.2L597.6 300.2L600.2 298.5L603.3 299.6ZM609.7 302L607.2 303.9L603.9 302.6L603.3 299.6L605.8 297.9L609 299.1ZM615.5 301.4L613 303.3L609.7 302L609 299.1L611.4 297.4L614.7 298.5ZM621.3 300.8L618.8 302.7L615.5 301.4L614.7 298.5L617.1 296.8L620.3 297.9ZM627 300.3L624.6 302.1L621.3 300.8L620.3 297.9L622.7 296.3L626 297.4ZM632.8 299.7L630.5 301.5L627 300.3L626 297.4L628.4 295.7L631.7 296.8ZM525.2 316.3L521.9 318.6L519.3 316.9L520 313.1L523.2 311L525.8 312.5ZM531.1 315.6L527.9 317.9L525.2 316.3L525.8 312.5L528.9 310.4L531.6 311.9ZM537 315L533.9 317.2L531.1 315.6L531.6 311.9L534.7 309.8L537.4 311.3ZM542.9 314.3L539.8 316.6L537 315L537.4 311.3L540.5 309.2L543.2 310.7ZM548.8 313.7L545.8 315.9L542.9 314.3L543.2 310.7L546.2 308.6L549 310ZM554.8 313L551.7 315.2L548.8 313.7L549 310L552 308L554.9 309.4ZM560.7 312.4L557.7 314.6L554.8 313L554.9 309.4L557.8 307.4L560.7 308.8ZM566.6 311.7L563.7 313.9L560.7 312.4L560.7 308.8L563.6 306.8L566.5 308.2ZM572.5 311.1L569.6 313.2L566.6 311.7L566.5 308.2L569.3 306.2L572.3 307.6ZM578.4 310.4L575.6 312.6L572.5 311.1L572.3 307.6L575.1 305.6L578.1 307ZM584.3 309.8L581.5 311.9L578.4 310.4L578.1 307L580.9 305L583.9 306.4ZM590.2 309.2L587.5 311.3L584.3 309.8L583.9 306.4L586.6 304.4L589.7 305.8ZM596.1 308.5L593.5 310.6L590.2 309.2L589.7 305.8L592.4 303.8L595.6 305.1ZM602 307.9L599.4 309.9L596.1 308.5L595.6 305.1L598.2 303.2L601.4 304.5ZM608 307.2L605.4 309.3L602 307.9L601.4 304.5L603.9 302.6L607.2 303.9ZM613.9 306.6L611.3 308.6L608 307.2L607.2 303.9L609.7 302L613 303.3ZM619.8 305.9L617.3 307.9L613.9 306.6L613 303.3L615.5 301.4L618.8 302.7ZM625.7 305.3L623.3 307.3L619.8 305.9L618.8 302.7L621.3 300.8L624.6 302.1ZM521.3 322.7L517.9 325.2L515.2 323.4L516 319.2L519.3 316.9L521.9 318.6ZM527.3 322L524 324.4L521.3 322.7L521.9 318.6L525.2 316.3L527.9 317.9ZM533.4 321.3L530.1 323.7L527.3 322L527.9 317.9L531.1 315.6L533.9 317.2ZM539.5 320.6L536.2 323L533.4 321.3L533.9 317.2L537 315L539.8 316.6ZM545.5 319.9L542.3 322.3L539.5 320.6L539.8 316.6L542.9 314.3L545.8 315.9ZM551.6 319.2L548.4 321.6L545.5 319.9L545.8 315.9L548.8 313.7L551.7 315.2ZM557.6 318.5L554.6 320.8L551.6 319.2L551.7 315.2L554.8 313L557.7 314.6ZM563.7 317.8L560.7 320.1L557.6 318.5L557.7 314.6L560.7 312.4L563.7 313.9ZM569.8 317.1L566.8 319.4L563.7 317.8L563.7 313.9L566.6 311.7L569.6 313.2ZM575.8 316.4L572.9 318.7L569.8 317.1L569.6 313.2L572.5 311.1L575.6 312.6ZM581.9 315.7L579 318L575.8 316.4L575.6 312.6L578.4 310.4L581.5 311.9ZM588 315L585.1 317.2L581.9 315.7L581.5 311.9L584.3 309.8L587.5 311.3ZM594 314.2L591.3 316.5L588 315L587.5 311.3L590.2 309.2L593.5 310.6ZM600.1 313.5L597.4 315.8L594 314.2L593.5 310.6L596.1 308.5L599.4 309.9ZM606.2 312.8L603.5 315.1L600.1 313.5L599.4 309.9L602 307.9L605.4 309.3ZM612.2 312.1L609.6 314.3L606.2 312.8L605.4 309.3L608 307.2L611.3 308.6ZM618.3 311.4L615.7 313.6L612.2 312.1L611.3 308.6L613.9 306.6L617.3 307.9ZM624.3 310.7L621.8 312.9L618.3 311.4L617.3 307.9L619.8 305.9L623.3 307.3ZM630.4 310L628 312.2L624.3 310.7L623.3 307.3L625.7 305.3L629.2 306.6ZM636.5 309.3L634.1 311.5L630.4 310L629.2 306.6L631.6 304.6L635.2 305.9ZM523.3 328.8L519.8 331.5L517.1 329.6L517.9 325.2L521.3 322.7L524 324.4ZM529.5 328.1L526.1 330.7L523.3 328.8L524 324.4L527.3 322L530.1 323.7ZM535.8 327.3L532.4 329.9L529.5 328.1L530.1 323.7L533.4 321.3L536.2 323ZM542 326.5L538.7 329.1L535.8 327.3L536.2 323L539.5 320.6L542.3 322.3ZM548.2 325.8L545 328.4L542 326.5L542.3 322.3L545.5 319.9L548.4 321.6ZM554.4 325L551.3 327.6L548.2 325.8L548.4 321.6L551.6 319.2L554.6 320.8ZM560.7 324.3L557.5 326.8L554.4 325L554.6 320.8L557.6 318.5L560.7 320.1ZM566.9 323.5L563.8 326L560.7 324.3L560.7 320.1L563.7 317.8L566.8 319.4ZM573.1 322.7L570.1 325.2L566.9 323.5L566.8 319.4L569.8 317.1L572.9 318.7ZM579.4 322L576.4 324.5L573.1 322.7L572.9 318.7L575.8 316.4L579 318ZM585.6 321.2L582.7 323.7L579.4 322L579 318L581.9 315.7L585.1 317.2ZM591.8 320.5L589 322.9L585.6 321.2L585.1 317.2L588 315L591.3 316.5ZM598 319.7L595.2 322.1L591.8 320.5L591.3 316.5L594 314.2L597.4 315.8ZM604.3 318.9L601.5 321.3L598 319.7L597.4 315.8L600.1 313.5L603.5 315.1ZM610.5 318.2L607.8 320.5L604.3 318.9L603.5 315.1L606.2 312.8L609.6 314.3ZM616.7 317.4L614.1 319.8L610.5 318.2L609.6 314.3L612.2 312.1L615.7 313.6ZM623 316.7L620.4 319L616.7 317.4L615.7 313.6L618.3 311.4L621.8 312.9ZM629.2 315.9L626.7 318.2L623 316.7L621.8 312.9L624.3 310.7L628 312.2ZM635.4 315.1L633 317.4L629.2 315.9L628 312.2L630.4 310L634.1 311.5ZM519.1 336.2L515.4 339L512.7 337L513.5 332.3L517.1 329.6L519.8 331.5ZM525.5 335.4L521.9 338.2L519.1 336.2L519.8 331.5L523.3 328.8L526.1 330.7ZM531.9 334.5L528.4 337.3L525.5 335.4L526.1 330.7L529.5 328.1L532.4 329.9ZM538.3 333.7L534.8 336.5L531.9 334.5L532.4 329.9L535.8 327.3L538.7 329.1ZM544.7 332.9L541.3 335.6L538.3 333.7L538.7 329.1L542 326.5L545 328.4ZM551.1 332.1L547.8 334.8L544.7 332.9L545 328.4L548.2 325.8L551.3 327.6ZM557.5 331.2L554.2 333.9L551.1 332.1L551.3 327.6L554.4 325L557.5 326.8ZM563.9 330.4L560.7 333.1L557.5 331.2L557.5 326.8L560.7 324.3L563.8 326ZM570.3 329.6L567.1 332.3L563.9 330.4L563.8 326L566.9 323.5L570.1 325.2ZM576.7 328.8L573.6 331.4L570.3 329.6L570.1 325.2L573.1 322.7L576.4 324.5ZM583.1 327.9L580.1 330.6L576.7 328.8L576.4 324.5L579.4 322L582.7 323.7ZM589.5 327.1L586.5 329.7L583.1 327.9L582.7 323.7L585.6 321.2L589 322.9ZM595.9 326.3L593 328.9L589.5 327.1L589 322.9L591.8 320.5L595.2 322.1ZM602.3 325.5L599.5 328L595.9 326.3L595.2 322.1L598 319.7L601.5 321.3ZM608.7 324.6L605.9 327.2L602.3 325.5L601.5 321.3L604.3 318.9L607.8 320.5ZM615.1 323.8L612.4 326.3L608.7 324.6L607.8 320.5L610.5 318.2L614.1 319.8ZM621.5 323L618.9 325.5L615.1 323.8L614.1 319.8L616.7 317.4L620.4 319ZM627.9 322.2L625.3 324.6L621.5 323L620.4 319L623 316.7L626.7 318.2ZM634.3 321.3L631.8 323.8L627.9 322.2L626.7 318.2L629.2 315.9L633 317.4ZM521.1 343.1L517.4 346.1L514.6 344L515.4 339L519.1 336.2L521.9 338.2ZM527.7 342.2L524.1 345.2L521.1 343.1L521.9 338.2L525.5 335.4L528.4 337.3ZM534.3 341.3L530.7 344.3L527.7 342.2L528.4 337.3L531.9 334.5L534.8 336.5ZM540.9 340.5L537.4 343.4L534.3 341.3L534.8 336.5L538.3 333.7L541.3 335.6ZM547.5 339.6L544.1 342.5L540.9 340.5L541.3 335.6L544.7 332.9L547.8 334.8ZM554.1 338.7L550.7 341.6L547.5 339.6L547.8 334.8L551.1 332.1L554.2 333.9ZM567.3 336.9L564 339.7L560.7 337.8L560.7 333.1L563.9 330.4L567.1 332.3ZM573.9 336L570.7 338.8L567.3 336.9L567.1 332.3L570.3 329.6L573.6 331.4ZM580.5 335.1L577.3 337.9L573.9 336L573.6 331.4L576.7 328.8L580.1 330.6ZM587 334.2L584 337L580.5 335.1L580.1 330.6L583.1 327.9L586.5 329.7ZM600.2 332.4L597.3 335.2L593.6 333.3L593 328.9L595.9 326.3L599.5 328ZM606.8 331.5L603.9 334.2L600.2 332.4L599.5 328L602.3 325.5L605.9 327.2ZM633.2 328L630.5 330.6L626.6 328.9L625.3 324.6L627.9 322.2L631.8 323.8ZM639.8 327.1L637.2 329.7L633.2 328L631.8 323.8L634.3 321.3L638.3 322.9Z" fill="none" stroke="#888888" stroke-width="1.55" stroke-linejoin="round"/><circle cx="603.3" cy="290.2" r="1.7" fill="#d6a531"/><circle cx="578.8" cy="306.9" r="1.7" fill="#d6a531"/><circle cx="531.2" cy="291.6" r="1.8" fill="#2fa3cc"/><circle cx="622.3" cy="324.4" r="1.8" fill="#2fa3cc"/><circle cx="535.6" cy="324.7" r="1.8" fill="#2fa3cc"/><circle cx="631" cy="320.3" r="1.8" fill="#2fa3cc"/><circle cx="613.2" cy="298.8" r="1.8" fill="#2fa3cc"/><circle cx="597.7" cy="307.2" r="1.8" fill="#2fa3cc"/><circle cx="622.8" cy="313" r="1.8" fill="#2fa3cc"/><circle cx="614.3" cy="320.4" r="1.8" fill="#2fa3cc"/><circle cx="563.7" cy="320.4" r="1.8" fill="#2fa3cc"/><circle cx="535.1" cy="300.6" r="1.8" fill="#2fa3cc"/><circle cx="619.1" cy="301" r="1.8" fill="#2fa3cc"/><circle cx="594.9" cy="310.8" r="1.8" fill="#2fa3cc"/><circle cx="550.6" cy="316.3" r="1.8" fill="#2fa3cc"/><circle cx="615.8" cy="298.2" r="1.8" fill="#2fa3cc"/><circle cx="559.7" cy="297.4" r="1.8" fill="#2fa3cc"/><circle cx="541" cy="328.3" r="1.8" fill="#2fa3cc"/><circle cx="600" cy="326.8" r="1.8" fill="#2fa3cc"/><circle cx="595.8" cy="327.1" r="1.8" fill="#2fa3cc"/><circle cx="547.7" cy="298.6" r="1.5" fill="#2bb02b"/><circle cx="546.6" cy="307.6" r="1.5" fill="#2bb02b"/><circle cx="622.1" cy="293.3" r="1.5" fill="#2bb02b"/><circle cx="570.2" cy="291" r="1.5" fill="#2bb02b"/><circle cx="526.5" cy="317.1" r="1.5" fill="#2bb02b"/><circle cx="587.1" cy="308.9" r="1.5" fill="#2bb02b"/><circle cx="622.2" cy="319.6" r="1.1" fill="#8844cc"/><circle cx="622.7" cy="307.8" r="1.1" fill="#8844cc"/><circle cx="551.8" cy="295.6" r="1.1" fill="#8844cc"/><circle cx="599.6" cy="292.5" r="1.1" fill="#8844cc"/><circle cx="523.2" cy="324.6" r="1.1" fill="#8844cc"/><circle cx="536.2" cy="319.5" r="1.1" fill="#8844cc"/><circle cx="544.9" cy="309.6" r="1.1" fill="#8844cc"/><circle cx="526.4" cy="309.3" r="1.1" fill="#8844cc"/><circle cx="557.9" cy="301" r="1.1" fill="#e070d0"/><circle cx="537.4" cy="317.3" r="1.1" fill="#e070d0"/><circle cx="593.1" cy="295" r="1.1" fill="#e070d0"/><circle cx="530" cy="303.9" r="1.1" fill="#e070d0"/><circle cx="594.3" cy="298" r="1.1" fill="#e070d0"/><circle cx="588" cy="290" r="1.1" fill="#e070d0"/></g>
<g transform="translate(548.6,275.8) rotate(-58.6)"><polygon points="0,-1.8 11.1,-0.4 11.1,0.4 0,1.8" fill="url(#iont_b)"/><circle r="1.9" fill="#2fa3cc"/></g>
<g transform="translate(559.5,278.7) rotate(107.4)"><polygon points="0,-1.8 9.9,-0.4 9.9,0.4 0,1.8" fill="url(#iont_y)"/><circle r="1.9" fill="#dcaa30"/></g>
<g transform="translate(573.6,279.3) rotate(-77.5)"><polygon points="0,-1.8 11.6,-0.4 11.6,0.4 0,1.8" fill="url(#iont_b)"/><circle r="1.9" fill="#2fa3cc"/></g>
<g transform="translate(594.3,275.6) rotate(106.7)"><polygon points="0,-1.8 9.9,-0.4 9.9,0.4 0,1.8" fill="url(#iont_y)"/><circle r="1.9" fill="#dcaa30"/></g>
<g transform="translate(607.9,276.2) rotate(-65.2)"><polygon points="0,-1.8 11.7,-0.4 11.7,0.4 0,1.8" fill="url(#iont_b)"/><circle r="1.9" fill="#2fa3cc"/></g>
<g><polygon points="383,346.3 479.3,337 497,385 373.7,399.3" fill="#ffffff" opacity="0.8"/><path d="M385.5 346.3L382.9 346.9L380.4 346.7L380.8 344.9L383.6 343.1L385.8 344.5ZM390.6 345.8L388 346.4L385.5 346.3L385.8 344.5L388.5 342.6L390.8 344ZM395.6 345.3L393.1 345.9L390.6 345.8L390.8 344L393.5 342.1L395.8 343.5ZM400.7 344.8L398.1 345.4L395.6 345.3L395.8 343.5L398.5 341.7L400.9 343ZM405.8 344.3L403.2 344.9L400.7 344.8L400.9 343L403.5 341.2L405.9 342.5ZM426.1 342.3L423.6 343L421 342.8L421 341.1L423.4 339.3L426 340.6ZM431.2 341.8L428.7 342.5L426.1 342.3L426 340.6L428.4 338.8L431 340.1ZM436.2 341.3L433.7 342L431.2 341.8L431 340.1L433.4 338.4L436 339.6ZM441.3 340.9L438.8 341.5L436.2 341.3L436 339.6L438.4 337.9L441.1 339.2ZM446.4 340.4L443.9 341L441.3 340.9L441.1 339.2L443.4 337.4L446.1 338.7ZM451.5 339.9L449 340.5L446.4 340.4L446.1 338.7L448.3 336.9L451.1 338.2ZM456.5 339.4L454.1 340L451.5 339.9L451.1 338.2L453.3 336.5L456.1 337.7ZM461.6 338.9L459.2 339.5L456.5 339.4L456.1 337.7L458.3 336L461.2 337.2ZM471.8 337.9L469.3 338.5L466.7 338.4L466.2 336.7L468.3 335L471.2 336.3ZM476.8 337.4L474.4 338L471.8 337.9L471.2 336.3L473.2 334.6L476.3 335.8ZM392.9 347.1L390.3 348.1L387.8 347.6L388 346.4L390.6 345.8L393.1 345.9ZM398 346.6L395.4 347.6L392.9 347.1L393.1 345.9L395.6 345.3L398.1 345.4ZM403.2 346.1L400.5 347.1L398 346.6L398.1 345.4L400.7 344.8L403.2 344.9ZM408.3 345.6L405.7 346.6L403.2 346.1L403.2 344.9L405.8 344.3L408.3 344.4ZM413.4 345.1L410.8 346.1L408.3 345.6L408.3 344.4L410.9 343.8L413.4 343.9ZM418.5 344.6L415.9 345.6L413.4 345.1L413.4 343.9L415.9 343.3L418.5 343.5ZM423.6 344.1L421.1 345.1L418.5 344.6L418.5 343.5L421 342.8L423.6 343ZM428.7 343.6L426.2 344.6L423.6 344.1L423.6 343L426.1 342.3L428.7 342.5ZM433.9 343.1L431.4 344.1L428.7 343.6L428.7 342.5L431.2 341.8L433.7 342ZM439 342.6L436.5 343.6L433.9 343.1L433.7 342L436.2 341.3L438.8 341.5ZM444.1 342.1L441.6 343.1L439 342.6L438.8 341.5L441.3 340.9L443.9 341ZM449.2 341.6L446.8 342.6L444.1 342.1L443.9 341L446.4 340.4L449 340.5ZM454.3 341.1L451.9 342.1L449.2 341.6L449 340.5L451.5 339.9L454.1 340ZM459.4 340.6L457 341.6L454.3 341.1L454.1 340L456.5 339.4L459.2 339.5ZM464.6 340.1L462.2 341.1L459.4 340.6L459.2 339.5L461.6 338.9L464.2 339ZM469.7 339.6L467.3 340.6L464.6 340.1L464.2 339L466.7 338.4L469.3 338.5ZM474.8 339.1L472.5 340.1L469.7 339.6L469.3 338.5L471.8 337.9L474.4 338ZM384.8 350.5L382 351.8L379.6 351L380 349.1L382.7 348.1L385.1 348.6ZM395.2 349.5L392.5 350.8L390 350L390.3 348.1L392.9 347.1L395.4 347.6ZM400.4 348.9L397.7 350.2L395.2 349.5L395.4 347.6L398 346.6L400.5 347.1ZM405.6 348.4L402.9 349.7L400.4 348.9L400.5 347.1L403.2 346.1L405.7 346.6ZM410.8 347.9L408.1 349.2L405.6 348.4L405.7 346.6L408.3 345.6L410.8 346.1ZM415.9 347.4L413.3 348.7L410.8 347.9L410.8 346.1L413.4 345.1L415.9 345.6ZM421.1 346.9L418.5 348.2L415.9 347.4L415.9 345.6L418.5 344.6L421.1 345.1ZM426.3 346.4L423.8 347.7L421.1 346.9L421.1 345.1L423.6 344.1L426.2 344.6ZM431.5 345.9L429 347.1L426.3 346.4L426.2 344.6L428.7 343.6L431.4 344.1ZM436.7 345.4L434.2 346.6L431.5 345.9L431.4 344.1L433.9 343.1L436.5 343.6ZM441.9 344.9L439.4 346.1L436.7 345.4L436.5 343.6L439 342.6L441.6 343.1ZM447.1 344.3L444.6 345.6L441.9 344.9L441.6 343.1L444.1 342.1L446.8 342.6ZM452.3 343.8L449.8 345.1L447.1 344.3L446.8 342.6L449.2 341.6L451.9 342.1ZM457.4 343.3L455.1 344.6L452.3 343.8L451.9 342.1L454.3 341.1L457 341.6ZM462.6 342.8L460.3 344L457.4 343.3L457 341.6L459.4 340.6L462.2 341.1ZM467.8 342.3L465.5 343.5L462.6 342.8L462.2 341.1L464.6 340.1L467.3 340.6ZM473 341.8L470.7 343L467.8 342.3L467.3 340.6L469.7 339.6L472.5 340.1ZM478.2 341.3L475.9 342.5L473 341.8L472.5 340.1L474.8 339.1L477.6 339.6ZM483.4 340.8L481.1 342L478.2 341.3L477.6 339.6L479.9 338.6L482.7 339.1ZM392.2 353.1L389.4 354.6L386.9 353.6L387.3 351.3L390 350L392.5 350.8ZM397.5 352.6L394.7 354.1L392.2 353.1L392.5 350.8L395.2 349.5L397.7 350.2ZM402.7 352L400 353.6L397.5 352.6L397.7 350.2L400.4 348.9L402.9 349.7ZM408 351.5L405.3 353L402.7 352L402.9 349.7L405.6 348.4L408.1 349.2ZM413.3 351L410.6 352.5L408 351.5L408.1 349.2L410.8 347.9L413.3 348.7ZM418.6 350.4L415.9 352L413.3 351L413.3 348.7L415.9 347.4L418.5 348.2ZM423.9 349.9L421.2 351.4L418.6 350.4L418.5 348.2L421.1 346.9L423.8 347.7ZM429.1 349.4L426.6 350.9L423.9 349.9L423.8 347.7L426.3 346.4L429 347.1ZM434.4 348.9L431.9 350.4L429.1 349.4L429 347.1L431.5 345.9L434.2 346.6ZM439.7 348.3L437.2 349.8L434.4 348.9L434.2 346.6L436.7 345.4L439.4 346.1ZM445 347.8L442.5 349.3L439.7 348.3L439.4 346.1L441.9 344.9L444.6 345.6ZM450.2 347.3L447.8 348.8L445 347.8L444.6 345.6L447.1 344.3L449.8 345.1ZM455.5 346.7L453.1 348.2L450.2 347.3L449.8 345.1L452.3 343.8L455.1 344.6ZM460.8 346.2L458.4 347.7L455.5 346.7L455.1 344.6L457.4 343.3L460.3 344ZM466.1 345.7L463.8 347.1L460.8 346.2L460.3 344L462.6 342.8L465.5 343.5ZM471.4 345.2L469.1 346.6L466.1 345.7L465.5 343.5L467.8 342.3L470.7 343ZM476.6 344.6L474.4 346.1L471.4 345.2L470.7 343L473 341.8L475.9 342.5ZM481.9 344.1L479.7 345.5L476.6 344.6L475.9 342.5L478.2 341.3L481.1 342ZM383.6 358L380.6 359.7L378.2 358.5L378.7 355.7L381.6 354.1L384.1 355.2ZM389 357.4L386.1 359.2L383.6 358L384.1 355.2L386.9 353.6L389.4 354.6ZM394.4 356.9L391.5 358.6L389 357.4L389.4 354.6L392.2 353.1L394.7 354.1ZM399.8 356.3L396.9 358.1L394.4 356.9L394.7 354.1L397.5 352.6L400 353.6ZM405.2 355.8L402.4 357.5L399.8 356.3L400 353.6L402.7 352L405.3 353ZM410.5 355.2L407.8 357L405.2 355.8L405.3 353L408 351.5L410.6 352.5ZM415.9 354.7L413.2 356.4L410.5 355.2L410.6 352.5L413.3 351L415.9 352ZM421.3 354.1L418.6 355.8L415.9 354.7L415.9 352L418.6 350.4L421.2 351.4ZM426.7 353.6L424.1 355.3L421.3 354.1L421.2 351.4L423.9 349.9L426.6 350.9ZM432.1 353L429.5 354.7L426.7 353.6L426.6 350.9L429.1 349.4L431.9 350.4ZM437.5 352.5L434.9 354.2L432.1 353L431.9 350.4L434.4 348.9L437.2 349.8ZM442.9 351.9L440.4 353.6L437.5 352.5L437.2 349.8L439.7 348.3L442.5 349.3ZM448.3 351.4L445.8 353.1L442.9 351.9L442.5 349.3L445 347.8L447.8 348.8ZM453.7 350.8L451.2 352.5L448.3 351.4L447.8 348.8L450.2 347.3L453.1 348.2ZM459 350.3L456.6 352L453.7 350.8L453.1 348.2L455.5 346.7L458.4 347.7ZM464.4 349.7L462.1 351.4L459 350.3L458.4 347.7L460.8 346.2L463.8 347.1ZM469.8 349.2L467.5 350.8L464.4 349.7L463.8 347.1L466.1 345.7L469.1 346.6ZM475.2 348.6L472.9 350.3L469.8 349.2L469.1 346.6L471.4 345.2L474.4 346.1ZM480.6 348.1L478.4 349.7L475.2 348.6L474.4 346.1L476.6 344.6L479.7 345.5ZM486 347.5L483.8 349.2L480.6 348.1L479.7 345.5L481.9 344.1L485 345ZM385.6 362.4L382.6 364.3L380.1 362.9L380.6 359.7L383.6 358L386.1 359.2ZM391.1 361.8L388.1 363.8L385.6 362.4L386.1 359.2L389 357.4L391.5 358.6ZM396.6 361.2L393.7 363.2L391.1 361.8L391.5 358.6L394.4 356.9L396.9 358.1ZM402.1 360.7L399.2 362.6L396.6 361.2L396.9 358.1L399.8 356.3L402.4 357.5ZM407.7 360.1L404.8 362L402.1 360.7L402.4 357.5L405.2 355.8L407.8 357ZM413.2 359.5L410.4 361.4L407.7 360.1L407.8 357L410.5 355.2L413.2 356.4ZM418.7 358.9L415.9 360.9L413.2 359.5L413.2 356.4L415.9 354.7L418.6 355.8ZM424.2 358.4L421.5 360.3L418.7 358.9L418.6 355.8L421.3 354.1L424.1 355.3ZM429.7 357.8L427 359.7L424.2 358.4L424.1 355.3L426.7 353.6L429.5 354.7ZM435.2 357.2L432.6 359.1L429.7 357.8L429.5 354.7L432.1 353L434.9 354.2ZM440.7 356.7L438.2 358.5L435.2 357.2L434.9 354.2L437.5 352.5L440.4 353.6ZM446.3 356.1L443.7 358L440.7 356.7L440.4 353.6L442.9 351.9L445.8 353.1ZM451.8 355.5L449.3 357.4L446.3 356.1L445.8 353.1L448.3 351.4L451.2 352.5ZM457.3 354.9L454.8 356.8L451.8 355.5L451.2 352.5L453.7 350.8L456.6 352ZM462.8 354.4L460.4 356.2L457.3 354.9L456.6 352L459 350.3L462.1 351.4ZM468.3 353.8L466 355.6L462.8 354.4L462.1 351.4L464.4 349.7L467.5 350.8ZM473.8 353.2L471.5 355.1L468.3 353.8L467.5 350.8L469.8 349.2L472.9 350.3ZM479.3 352.6L477.1 354.5L473.8 353.2L472.9 350.3L475.2 348.6L478.4 349.7ZM382 367.9L378.8 370.1L376.3 368.5L377 364.9L380.1 362.9L382.6 364.3ZM387.6 367.3L384.5 369.5L382 367.9L382.6 364.3L385.6 362.4L388.1 363.8ZM393.3 366.7L390.2 368.9L387.6 367.3L388.1 363.8L391.1 361.8L393.7 363.2ZM399 366.1L395.9 368.3L393.3 366.7L393.7 363.2L396.6 361.2L399.2 362.6ZM404.6 365.5L401.7 367.7L399 366.1L399.2 362.6L402.1 360.7L404.8 362ZM410.3 364.9L407.4 367L404.6 365.5L404.8 362L407.7 360.1L410.4 361.4ZM415.9 364.3L413.1 366.4L410.3 364.9L410.4 361.4L413.2 359.5L415.9 360.9ZM421.6 363.7L418.8 365.8L415.9 364.3L415.9 360.9L418.7 358.9L421.5 360.3ZM427.2 363.1L424.5 365.2L421.6 363.7L421.5 360.3L424.2 358.4L427 359.7ZM432.9 362.5L430.2 364.6L427.2 363.1L427 359.7L429.7 357.8L432.6 359.1ZM438.5 361.9L435.9 364L432.9 362.5L432.6 359.1L435.2 357.2L438.2 358.5ZM444.2 361.3L441.6 363.4L438.5 361.9L438.2 358.5L440.7 356.7L443.7 358ZM449.9 360.7L447.3 362.8L444.2 361.3L443.7 358L446.3 356.1L449.3 357.4ZM455.5 360.1L453 362.2L449.9 360.7L449.3 357.4L451.8 355.5L454.8 356.8ZM461.2 359.5L458.7 361.6L455.5 360.1L454.8 356.8L457.3 354.9L460.4 356.2ZM466.8 358.9L464.4 361L461.2 359.5L460.4 356.2L462.8 354.4L466 355.6ZM472.5 358.3L470.1 360.4L466.8 358.9L466 355.6L468.3 353.8L471.5 355.1ZM478.1 357.7L475.8 359.8L472.5 358.3L471.5 355.1L473.8 353.2L477.1 354.5ZM483.8 357.1L481.5 359.1L478.1 357.7L477.1 354.5L479.3 352.6L482.6 353.9ZM384 373.4L380.7 375.7L378.1 374L378.8 370.1L382 367.9L384.5 369.5ZM389.8 372.7L386.6 375.1L384 373.4L384.5 369.5L387.6 367.3L390.2 368.9ZM395.6 372.1L392.4 374.5L389.8 372.7L390.2 368.9L393.3 366.7L395.9 368.3ZM401.4 371.5L398.3 373.8L395.6 372.1L395.9 368.3L399 366.1L401.7 367.7ZM407.2 370.9L404.2 373.2L401.4 371.5L401.7 367.7L404.6 365.5L407.4 367ZM413 370.2L410 372.5L407.2 370.9L407.4 367L410.3 364.9L413.1 366.4ZM418.8 369.6L415.9 371.9L413 370.2L413.1 366.4L415.9 364.3L418.8 365.8ZM424.6 369L421.8 371.3L418.8 369.6L418.8 365.8L421.6 363.7L424.5 365.2ZM430.4 368.4L427.6 370.6L424.6 369L424.5 365.2L427.2 363.1L430.2 364.6ZM436.3 367.7L433.5 370L430.4 368.4L430.2 364.6L432.9 362.5L435.9 364ZM442.1 367.1L439.4 369.4L436.3 367.7L435.9 364L438.5 361.9L441.6 363.4ZM447.9 366.5L445.2 368.7L442.1 367.1L441.6 363.4L444.2 361.3L447.3 362.8ZM453.7 365.9L451.1 368.1L447.9 366.5L447.3 362.8L449.9 360.7L453 362.2ZM459.5 365.2L457 367.4L453.7 365.9L453 362.2L455.5 360.1L458.7 361.6ZM465.3 364.6L462.8 366.8L459.5 365.2L458.7 361.6L461.2 359.5L464.4 361ZM471.1 364L468.7 366.2L465.3 364.6L464.4 361L466.8 358.9L470.1 360.4ZM476.9 363.3L474.6 365.5L471.1 364L470.1 360.4L472.5 358.3L475.8 359.8ZM482.7 362.7L480.4 364.9L476.9 363.3L475.8 359.8L478.1 357.7L481.5 359.1ZM488.6 362.1L486.3 364.3L482.7 362.7L481.5 359.1L483.8 357.1L487.2 358.5ZM380 380L376.6 382.5L374 380.6L374.8 376.4L378.1 374L380.7 375.7ZM386 379.3L382.7 381.8L380 380L380.7 375.7L384 373.4L386.6 375.1ZM392 378.6L388.7 381.2L386 379.3L386.6 375.1L389.8 372.7L392.4 374.5ZM398 378L394.8 380.5L392 378.6L392.4 374.5L395.6 372.1L398.3 373.8ZM403.9 377.3L400.8 379.8L398 378L398.3 373.8L401.4 371.5L404.2 373.2ZM409.9 376.7L406.8 379.1L403.9 377.3L404.2 373.2L407.2 370.9L410 372.5ZM415.9 376L412.9 378.5L409.9 376.7L410 372.5L413 370.2L415.9 371.9ZM421.9 375.4L418.9 377.8L415.9 376L415.9 371.9L418.8 369.6L421.8 371.3ZM427.9 374.7L425 377.1L421.9 375.4L421.8 371.3L424.6 369L427.6 370.6ZM433.8 374L431 376.5L427.9 374.7L427.6 370.6L430.4 368.4L433.5 370ZM439.8 373.4L437 375.8L433.8 374L433.5 370L436.3 367.7L439.4 369.4ZM445.8 372.7L443.1 375.1L439.8 373.4L439.4 369.4L442.1 367.1L445.2 368.7ZM451.8 372.1L449.1 374.5L445.8 372.7L445.2 368.7L447.9 366.5L451.1 368.1ZM457.8 371.4L455.2 373.8L451.8 372.1L451.1 368.1L453.7 365.9L457 367.4ZM463.7 370.7L461.2 373.1L457.8 371.4L457 367.4L459.5 365.2L462.8 366.8ZM469.7 370.1L467.2 372.5L463.7 370.7L462.8 366.8L465.3 364.6L468.7 366.2ZM475.7 369.4L473.3 371.8L469.7 370.1L468.7 366.2L471.1 364L474.6 365.5ZM481.7 368.8L479.3 371.1L475.7 369.4L474.6 365.5L476.9 363.3L480.4 364.9ZM487.7 368.1L485.3 370.4L481.7 368.8L480.4 364.9L482.7 362.7L486.3 364.3ZM493.6 367.5L491.4 369.8L487.7 368.1L486.3 364.3L488.6 362.1L492.2 363.6ZM382 386.4L378.5 389L375.8 387L376.6 382.5L380 380L382.7 381.8ZM388.2 385.7L384.8 388.3L382 386.4L382.7 381.8L386 379.3L388.7 381.2ZM394.3 385L391 387.6L388.2 385.7L388.7 381.2L392 378.6L394.8 380.5ZM400.5 384.3L397.2 386.9L394.3 385L394.8 380.5L398 378L400.8 379.8ZM406.7 383.6L403.4 386.2L400.5 384.3L400.8 379.8L403.9 377.3L406.8 379.1ZM412.8 382.9L409.7 385.5L406.7 383.6L406.8 379.1L409.9 376.7L412.9 378.5ZM419 382.2L415.9 384.8L412.8 382.9L412.9 378.5L415.9 376L418.9 377.8ZM425.1 381.5L422.1 384.1L419 382.2L418.9 377.8L421.9 375.4L425 377.1ZM431.3 380.8L428.3 383.4L425.1 381.5L425 377.1L427.9 374.7L431 376.5ZM437.5 380.1L434.6 382.7L431.3 380.8L431 376.5L433.8 374L437 375.8ZM443.6 379.4L440.8 382L437.5 380.1L437 375.8L439.8 373.4L443.1 375.1ZM449.8 378.7L447 381.3L443.6 379.4L443.1 375.1L445.8 372.7L449.1 374.5ZM455.9 378.1L453.2 380.6L449.8 378.7L449.1 374.5L451.8 372.1L455.2 373.8ZM462.1 377.4L459.5 379.9L455.9 378.1L455.2 373.8L457.8 371.4L461.2 373.1ZM468.3 376.7L465.7 379.2L462.1 377.4L461.2 373.1L463.7 370.7L467.2 372.5ZM474.4 376L471.9 378.5L468.3 376.7L467.2 372.5L469.7 370.1L473.3 371.8ZM480.6 375.3L478.1 377.8L474.4 376L473.3 371.8L475.7 369.4L479.3 371.1ZM486.7 374.6L484.4 377.1L480.6 375.3L479.3 371.1L481.7 368.8L485.3 370.4ZM492.9 373.9L490.6 376.4L486.7 374.6L485.3 370.4L487.7 368.1L491.4 369.8ZM377.8 393.9L374.1 396.8L371.4 394.6L372.3 389.8L375.8 387L378.5 389ZM384.1 393.2L380.6 396L377.8 393.9L378.5 389L382 386.4L384.8 388.3ZM390.5 392.4L387 395.3L384.1 393.2L384.8 388.3L388.2 385.7L391 387.6ZM396.8 391.7L393.4 394.5L390.5 392.4L391 387.6L394.3 385L397.2 386.9ZM403.2 391L399.8 393.8L396.8 391.7L397.2 386.9L400.5 384.3L403.4 386.2ZM409.5 390.3L406.3 393.1L403.2 391L403.4 386.2L406.7 383.6L409.7 385.5ZM415.9 389.5L412.7 392.3L409.5 390.3L409.7 385.5L412.8 382.9L415.9 384.8ZM422.2 388.8L419.1 391.6L415.9 389.5L415.9 384.8L419 382.2L422.1 384.1ZM428.6 388.1L425.5 390.8L422.2 388.8L422.1 384.1L425.1 381.5L428.3 383.4ZM435 387.3L431.9 390.1L428.6 388.1L428.3 383.4L431.3 380.8L434.6 382.7ZM441.3 386.6L438.4 389.4L435 387.3L434.6 382.7L437.5 380.1L440.8 382ZM447.7 385.9L444.8 388.6L441.3 386.6L440.8 382L443.6 379.4L447 381.3ZM454 385.2L451.2 387.9L447.7 385.9L447 381.3L449.8 378.7L453.2 380.6ZM460.4 384.4L457.6 387.1L454 385.2L453.2 380.6L455.9 378.1L459.5 379.9ZM466.7 383.7L464 386.4L460.4 384.4L459.5 379.9L462.1 377.4L465.7 379.2ZM473.1 383L470.5 385.7L466.7 383.7L465.7 379.2L468.3 376.7L471.9 378.5ZM479.4 382.2L476.9 384.9L473.1 383L471.9 378.5L474.4 376L478.1 377.8ZM485.8 381.5L483.3 384.2L479.4 382.2L478.1 377.8L480.6 375.3L484.4 377.1ZM492.1 380.8L489.7 383.4L485.8 381.5L484.4 377.1L486.7 374.6L490.6 376.4ZM498.5 380.1L496.1 382.7L492.1 380.8L490.6 376.4L492.9 373.9L496.8 375.7ZM379.8 401.1L376.1 404.1L373.2 401.9L374.1 396.8L377.8 393.9L380.6 396ZM386.4 400.4L382.7 403.4L379.8 401.1L380.6 396L384.1 393.2L387 395.3ZM392.9 399.6L389.4 402.6L386.4 400.4L387 395.3L390.5 392.4L393.4 394.5ZM406 398.1L402.6 401L399.5 398.8L399.8 393.8L403.2 391L406.3 393.1ZM412.6 397.3L409.2 400.2L406 398.1L406.3 393.1L409.5 390.3L412.7 392.3ZM425.7 395.8L422.5 398.7L419.2 396.5L419.1 391.6L422.2 388.8L425.5 390.8ZM432.3 395L429.1 397.9L425.7 395.8L425.5 390.8L428.6 388.1L431.9 390.1ZM438.8 394.2L435.8 397.1L432.3 395L431.9 390.1L435 387.3L438.4 389.4ZM445.4 393.5L442.4 396.4L438.8 394.2L438.4 389.4L441.3 386.6L444.8 388.6ZM452 392.7L449 395.6L445.4 393.5L444.8 388.6L447.7 385.9L451.2 387.9ZM458.5 391.9L455.7 394.8L452 392.7L451.2 387.9L454 385.2L457.6 387.1ZM471.6 390.4L468.9 393.2L465.1 391.2L464 386.4L466.7 383.7L470.5 385.7ZM478.2 389.6L475.5 392.5L471.6 390.4L470.5 385.7L473.1 383L476.9 384.9ZM484.7 388.9L482.2 391.7L478.2 389.6L476.9 384.9L479.4 382.2L483.3 384.2ZM497.9 387.3L495.4 390.1L491.3 388.1L489.7 383.4L492.1 380.8L496.1 382.7Z" fill="none" stroke="#888888" stroke-width="1.55" stroke-linejoin="round"/><circle cx="386.8" cy="377.8" r="1.7" fill="#d6a531"/><circle cx="396.6" cy="355.6" r="1.7" fill="#d6a531"/><circle cx="450" cy="380.7" r="1.7" fill="#d6a531"/><circle cx="444" cy="356.1" r="1.7" fill="#d6a531"/><circle cx="446.3" cy="354.9" r="1.7" fill="#d6a531"/><circle cx="385.1" cy="361.3" r="1.7" fill="#d6a531"/><circle cx="453.3" cy="370.6" r="1.7" fill="#d6a531"/><circle cx="401.1" cy="386.5" r="1.7" fill="#d6a531"/><circle cx="464.1" cy="353.4" r="1.7" fill="#d6a531"/><circle cx="476.4" cy="351.3" r="1.7" fill="#d6a531"/><circle cx="389.2" cy="372.2" r="1.7" fill="#d6a531"/><circle cx="471.3" cy="367.4" r="1.7" fill="#d6a531"/><circle cx="437.9" cy="365.8" r="1.7" fill="#d6a531"/><circle cx="411.7" cy="359.8" r="1.7" fill="#d6a531"/><circle cx="423.5" cy="370.2" r="1.8" fill="#2fa3cc"/><circle cx="472" cy="343" r="1.8" fill="#2fa3cc"/><circle cx="407.4" cy="390.7" r="1.8" fill="#2fa3cc"/><circle cx="446" cy="345.7" r="1.8" fill="#2fa3cc"/><circle cx="427.7" cy="374.6" r="1.8" fill="#2fa3cc"/><circle cx="469.3" cy="343.8" r="1.8" fill="#2fa3cc"/><circle cx="477.4" cy="374.6" r="1.8" fill="#2fa3cc"/><circle cx="410.8" cy="370.9" r="1.8" fill="#2fa3cc"/><circle cx="463.2" cy="351.8" r="1.5" fill="#2bb02b"/><circle cx="454.1" cy="367.5" r="1.5" fill="#2bb02b"/><circle cx="391.5" cy="360.5" r="1.5" fill="#2bb02b"/><circle cx="423.7" cy="351" r="1.5" fill="#2bb02b"/><circle cx="474.6" cy="350.9" r="1.5" fill="#2bb02b"/><circle cx="405.9" cy="374.4" r="1.5" fill="#2bb02b"/><circle cx="435.2" cy="358.2" r="1.1" fill="#8844cc"/><circle cx="415.6" cy="368.6" r="1.1" fill="#8844cc"/><circle cx="469" cy="343.6" r="1.1" fill="#8844cc"/><circle cx="480.7" cy="382" r="1.1" fill="#8844cc"/><circle cx="454.2" cy="378.7" r="1.1" fill="#8844cc"/><circle cx="421.9" cy="389.9" r="1.1" fill="#8844cc"/><circle cx="459.5" cy="372.8" r="1.1" fill="#e070d0"/><circle cx="427.3" cy="354.4" r="1.1" fill="#e070d0"/><circle cx="454.5" cy="375.6" r="1.1" fill="#e070d0"/><circle cx="384.7" cy="363.1" r="1.1" fill="#e070d0"/><circle cx="435.5" cy="353.2" r="1.1" fill="#e070d0"/><circle cx="397.2" cy="355.9" r="1.1" fill="#e070d0"/></g>
<g transform="translate(393.3,334.7) rotate(-83.1)"><polygon points="0,-1.8 10.7,-0.4 10.7,0.4 0,1.8" fill="url(#iont_y)"/><circle r="1.9" fill="#dcaa30"/></g>
<g transform="translate(413.5,325.6) rotate(120.3)"><polygon points="0,-1.8 11.2,-0.4 11.2,0.4 0,1.8" fill="url(#iont_b)"/><circle r="1.9" fill="#2fa3cc"/></g>
<g transform="translate(415.3,343.7) rotate(-62)"><polygon points="0,-1.8 9.4,-0.4 9.4,0.4 0,1.8" fill="url(#iont_y)"/><circle r="1.9" fill="#dcaa30"/></g>
<g transform="translate(434.7,336.8) rotate(-83.7)"><polygon points="0,-1.8 10.6,-0.4 10.6,0.4 0,1.8" fill="url(#iont_y)"/><circle r="1.9" fill="#dcaa30"/></g>
<g transform="translate(446.1,331.2) rotate(103.1)"><polygon points="0,-1.8 10.7,-0.4 10.7,0.4 0,1.8" fill="url(#iont_b)"/><circle r="1.9" fill="#2fa3cc"/></g>
<g transform="translate(453.5,332.6) rotate(-62.1)"><polygon points="0,-1.8 9.4,-0.4 9.4,0.4 0,1.8" fill="url(#iont_y)"/><circle r="1.9" fill="#dcaa30"/></g>
<g transform="translate(465.6,326.3) rotate(102.2)"><polygon points="0,-1.8 11.4,-0.4 11.4,0.4 0,1.8" fill="url(#iont_b)"/><circle r="1.9" fill="#2fa3cc"/></g>
<g font-size="9.7" fill="#2a2a2a" stroke="#2a2a2a" stroke-width="0.35">
<text transform="matrix(0.8345 -0.3371 0.1736 0.9848 355.40 262.10)" text-anchor="middle" dy="3.3" font-size="11">Charge</text>
<text transform="matrix(0.8345 0.3371 -0.1736 0.9848 517.70 263.50)" text-anchor="middle" dy="3.3" font-size="11">Charge</text>
<text transform="matrix(0.8039 0.3579 -0.1736 0.9848 349.30 363.20)" text-anchor="middle" dy="3.3" font-size="11">Discharge</text>
<text transform="matrix(0.8285 -0.3517 0.1736 0.9848 522.10 364.80)" text-anchor="middle" dy="3.3" font-size="11">Discharge</text>
</g>
<line x1="345.3" y1="281.7" x2="369" y2="271.9" stroke="#3a3a3a" stroke-width="2" stroke-dasharray="3.2 2"/><polygon points="376.4,268.8 370.7,276 367.3,267.7" fill="#444"/>
<line x1="501" y1="272" x2="519.8" y2="281.4" stroke="#3a3a3a" stroke-width="2" stroke-dasharray="3.2 2"/><polygon points="527,285 517.8,285.4 521.9,277.4" fill="#444"/>
<line x1="523.5" y1="346.5" x2="497.9" y2="356.6" stroke="#3a3a3a" stroke-width="2" stroke-dasharray="3.2 2"/><polygon points="490.5,359.5 496.3,352.4 499.6,360.8" fill="#444"/>
<line x1="377.5" y1="357.9" x2="349" y2="345.2" stroke="#3a3a3a" stroke-width="2" stroke-dasharray="3.2 2"/><polygon points="341.7,342 350.8,341.1 347.2,349.4" fill="#444"/>
<g font-size="11.5" fill="#444" stroke="#444" stroke-width="0.2">
<circle cx="234" cy="400.5" r="3.2" fill="#8a8a8a" stroke="none"/><text x="240.3" y="404.2">C</text>
<circle cx="265" cy="400.5" r="3" fill="#7a3ec8" stroke="none"/><text x="270.6" y="404.2">N</text>
<circle cx="295" cy="401" r="2.5" fill="#e070c8" stroke="none"/><text x="300.2" y="404.2">O</text>
<circle cx="326.3" cy="400.3" r="3.8" fill="#2aa52a" stroke="none"/><text x="333.8" y="404.2">Se</text>
<circle cx="564.7" cy="399.2" r="4.7" fill="#d6aa3a" stroke="none"/><text x="572.6" y="404">K<tspan font-size="7.5" dy="-4.5">+</tspan></text>
<circle cx="603.8" cy="399.2" r="5" fill="#2fa3cc" stroke="none"/><text x="613.2" y="404">FSI<tspan font-size="7.5" dy="-4.5">-</tspan></text>
</g>
</svg></body></html>
